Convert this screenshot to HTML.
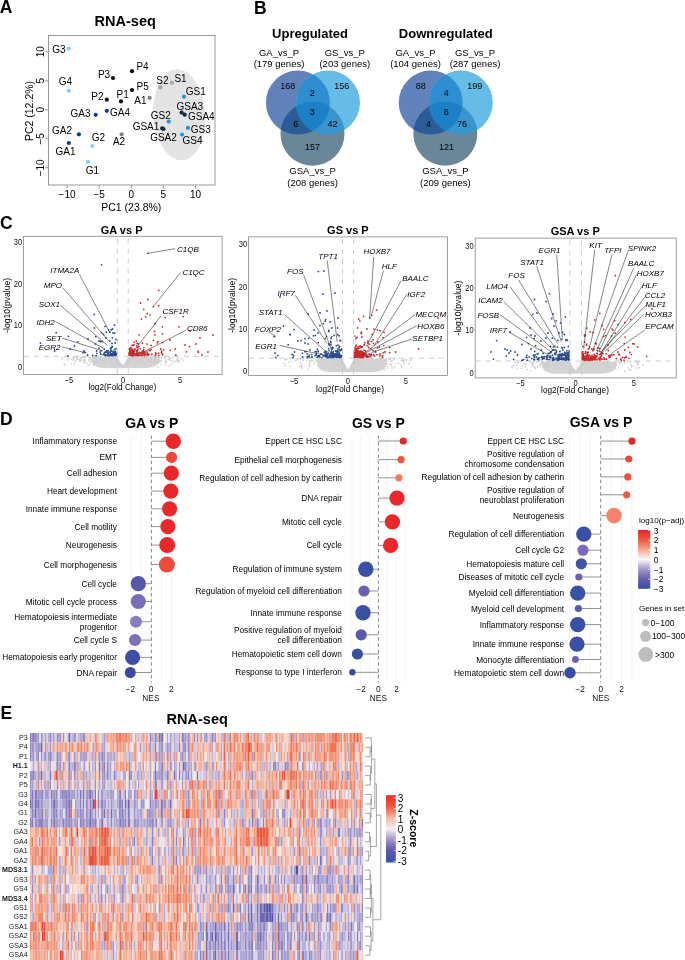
<!DOCTYPE html><html><head><meta charset="utf-8"><style>html,body{margin:0;padding:0;background:#fff;width:685px;height:960px;overflow:hidden}svg{display:block;will-change:transform;font-family:"Liberation Sans",sans-serif}</style></head><body>
<svg width="685" height="960" viewBox="0 0 685 960">
<rect width="685" height="960" fill="#fff"/>
<text x="-0.2" y="12.7" font-size="17.5" font-weight="bold">A</text>
<text x="253.9" y="13.7" font-size="17.5" font-weight="bold">B</text>
<text x="-0.1" y="229.2" font-size="17.5" font-weight="bold">C</text>
<text x="-0.1" y="425" font-size="17.5" font-weight="bold">D</text>
<text x="0.4" y="718.8" font-size="17.5" font-weight="bold">E</text>
<text x="125.2" y="25.8" font-size="14.5" text-anchor="middle" font-weight="bold">RNA-seq</text>
<ellipse cx="179.3" cy="114.8" rx="26" ry="45.6" fill="#e4e4e4" transform="rotate(-4 179.3 114.8)"/>
<rect x="48.5" y="35.5" width="166.5" height="149.5" fill="none" stroke="#808080" stroke-width="0.8"/>
<line x1="67.1" y1="185" x2="67.1" y2="188.5" stroke="#808080" stroke-width="0.8" />
<text x="67.1" y="198.3" font-size="10" text-anchor="middle">−10</text>
<line x1="99.2" y1="185" x2="99.2" y2="188.5" stroke="#808080" stroke-width="0.8" />
<text x="99.2" y="198.3" font-size="10" text-anchor="middle">−5</text>
<line x1="131.3" y1="185" x2="131.3" y2="188.5" stroke="#808080" stroke-width="0.8" />
<text x="131.3" y="198.3" font-size="10" text-anchor="middle">0</text>
<line x1="163.4" y1="185" x2="163.4" y2="188.5" stroke="#808080" stroke-width="0.8" />
<text x="163.4" y="198.3" font-size="10" text-anchor="middle">5</text>
<line x1="195.5" y1="185" x2="195.5" y2="188.5" stroke="#808080" stroke-width="0.8" />
<text x="195.5" y="198.3" font-size="10" text-anchor="middle">10</text>
<line x1="48.5" y1="167.8" x2="45" y2="167.8" stroke="#808080" stroke-width="0.8" />
<text x="43.9" y="167.8" font-size="10" text-anchor="middle" transform="rotate(-90 43.9 167.8)">−10</text>
<line x1="48.5" y1="138.8" x2="45" y2="138.8" stroke="#808080" stroke-width="0.8" />
<text x="43.9" y="138.8" font-size="10" text-anchor="middle" transform="rotate(-90 43.9 138.8)">−5</text>
<line x1="48.5" y1="109.8" x2="45" y2="109.8" stroke="#808080" stroke-width="0.8" />
<text x="43.9" y="109.8" font-size="10" text-anchor="middle" transform="rotate(-90 43.9 109.8)">0</text>
<line x1="48.5" y1="80.8" x2="45" y2="80.8" stroke="#808080" stroke-width="0.8" />
<text x="43.9" y="80.8" font-size="10" text-anchor="middle" transform="rotate(-90 43.9 80.8)">5</text>
<line x1="48.5" y1="51.8" x2="45" y2="51.8" stroke="#808080" stroke-width="0.8" />
<text x="43.9" y="51.8" font-size="10" text-anchor="middle" transform="rotate(-90 43.9 51.8)">10</text>
<text x="131.3" y="210.8" font-size="10.5" text-anchor="middle">PC1 (23.8%)</text>
<text x="33.2" y="111" font-size="10.5" text-anchor="middle" transform="rotate(-90 33.2 111)">PC2 (12.2%)</text>
<circle cx="68.8" cy="48.7" r="2.1" fill="#87cefa" />
<circle cx="68.8" cy="90.7" r="2.1" fill="#87cefa" />
<circle cx="132" cy="71.2" r="2.1" fill="#111" />
<circle cx="113" cy="78" r="2.1" fill="#111" />
<circle cx="132" cy="90" r="2.1" fill="#111" />
<circle cx="160.3" cy="87.4" r="2.1" fill="#a8a8a8" />
<circle cx="172" cy="82.8" r="2.1" fill="#a8a8a8" />
<circle cx="106.8" cy="99.7" r="2.1" fill="#111" />
<circle cx="121" cy="101.4" r="2.1" fill="#111" />
<circle cx="149.6" cy="97.8" r="2.1" fill="#808080" />
<circle cx="184" cy="96.7" r="2.1" fill="#1c97e3" />
<circle cx="95.7" cy="114.8" r="2.1" fill="#0e3d8c" />
<circle cx="106.8" cy="110.8" r="2.1" fill="#0e3d8c" />
<circle cx="181.6" cy="112.6" r="2.1" fill="#0b2a44" />
<circle cx="184.7" cy="114.7" r="2.1" fill="#0b2a44" />
<circle cx="168.7" cy="121.6" r="2.1" fill="#1c97e3" />
<circle cx="162.2" cy="128.3" r="2.1" fill="#0b2a44" />
<circle cx="163.5" cy="129" r="2.1" fill="#0b2a44" />
<circle cx="188" cy="127.9" r="2.1" fill="#1c97e3" />
<circle cx="182" cy="134.5" r="2.1" fill="#1c97e3" />
<circle cx="78.9" cy="134.3" r="2.1" fill="#0e3d8c" />
<circle cx="121.6" cy="134.3" r="2.1" fill="#808080" />
<circle cx="92.3" cy="146" r="2.1" fill="#87cefa" />
<circle cx="68.8" cy="143" r="2.1" fill="#0e3d8c" />
<circle cx="88" cy="161.9" r="2.1" fill="#87cefa" />
<text x="58.8" y="53.3" font-size="10" text-anchor="middle">G3</text>
<text x="65.5" y="85.2" font-size="10" text-anchor="middle">G4</text>
<text x="142.5" y="70.1" font-size="10" text-anchor="middle">P4</text>
<text x="104" y="77.6" font-size="10" text-anchor="middle">P3</text>
<text x="142.7" y="90.2" font-size="10" text-anchor="middle">P5</text>
<text x="162.4" y="84.4" font-size="10" text-anchor="middle">S2</text>
<text x="180.5" y="82.2" font-size="10" text-anchor="middle">S1</text>
<text x="97.4" y="100" font-size="10" text-anchor="middle">P2</text>
<text x="122.6" y="97.6" font-size="10" text-anchor="middle">P1</text>
<text x="140.4" y="104.3" font-size="10" text-anchor="middle">A1</text>
<text x="195.8" y="94.8" font-size="10" text-anchor="middle">GS1</text>
<text x="80.6" y="116.6" font-size="10" text-anchor="middle">GA3</text>
<text x="120" y="116.1" font-size="10" text-anchor="middle">GA4</text>
<text x="189.8" y="109.6" font-size="10" text-anchor="middle">GSA3</text>
<text x="201.3" y="120" font-size="10" text-anchor="middle">GSA4</text>
<text x="160.8" y="118.9" font-size="10" text-anchor="middle">GS2</text>
<text x="146" y="130.4" font-size="10" text-anchor="middle">GSA1</text>
<text x="163.5" y="140.8" font-size="10" text-anchor="middle">GSA2</text>
<text x="200.8" y="132.6" font-size="10" text-anchor="middle">GS3</text>
<text x="192.6" y="144.1" font-size="10" text-anchor="middle">GS4</text>
<text x="62" y="133.9" font-size="10" text-anchor="middle">GA2</text>
<text x="119" y="144.6" font-size="10" text-anchor="middle">A2</text>
<text x="98.4" y="141.3" font-size="10" text-anchor="middle">G2</text>
<text x="65.5" y="154.6" font-size="10" text-anchor="middle">GA1</text>
<text x="92.3" y="174.2" font-size="10" text-anchor="middle">G1</text>
<text x="310" y="37.7" font-size="13" text-anchor="middle" font-weight="bold">Upregulated</text>
<clipPath id="vA0"><circle cx="297.9" cy="102.6" r="32"/></clipPath><clipPath id="vB0"><circle cx="328" cy="102.6" r="32"/></clipPath>
<g clip-path="url(#vA0)"><clipPath id="vAB0"><circle cx="328" cy="102.6" r="32"/></clipPath></g>
<circle cx="297.9" cy="102.6" r="32" fill="#6282bb"/>
<circle cx="328" cy="102.6" r="32" fill="#67bbe7"/>
<circle cx="312.5" cy="133.8" r="32" fill="#6a8799"/>
<circle cx="328" cy="102.6" r="32" fill="#2f8ed2" clip-path="url(#vA0)"/>
<circle cx="312.5" cy="133.8" r="32" fill="#2c5c97" clip-path="url(#vA0)"/>
<circle cx="312.5" cy="133.8" r="32" fill="#3895cd" clip-path="url(#vB0)"/>
<g clip-path="url(#vA0)"><circle cx="312.5" cy="133.8" r="32" fill="#1b80c5" clip-path="url(#vB0)"/></g>
<text x="279" y="56.1" font-size="9.5" text-anchor="middle">GA_vs_P</text>
<text x="279" y="67.2" font-size="9.5" text-anchor="middle">(179 genes)</text>
<text x="344.8" y="56.1" font-size="9.5" text-anchor="middle">GS_vs_P</text>
<text x="344.8" y="67.2" font-size="9.5" text-anchor="middle">(203 genes)</text>
<text x="312.6" y="174" font-size="9.5" text-anchor="middle">GSA_vs_P</text>
<text x="312.6" y="186" font-size="9.5" text-anchor="middle">(208 genes)</text>
<text x="287.8" y="89.2" font-size="9" text-anchor="middle">168</text>
<text x="341.8" y="89.2" font-size="9" text-anchor="middle">156</text>
<text x="312.3" y="96.2" font-size="9" text-anchor="middle">2</text>
<text x="312.3" y="115" font-size="9" text-anchor="middle">3</text>
<text x="295.8" y="126.8" font-size="9" text-anchor="middle">6</text>
<text x="332.4" y="126.8" font-size="9" text-anchor="middle">42</text>
<text x="312.6" y="149.9" font-size="9" text-anchor="middle">157</text>
<text x="445.8" y="37.7" font-size="13" text-anchor="middle" font-weight="bold">Downregulated</text>
<clipPath id="vA1"><circle cx="430.7" cy="102.6" r="32"/></clipPath><clipPath id="vB1"><circle cx="460.8" cy="102.6" r="32"/></clipPath>
<g clip-path="url(#vA1)"><clipPath id="vAB1"><circle cx="460.8" cy="102.6" r="32"/></clipPath></g>
<circle cx="430.7" cy="102.6" r="32" fill="#6282bb"/>
<circle cx="460.8" cy="102.6" r="32" fill="#67bbe7"/>
<circle cx="445.3" cy="133.8" r="32" fill="#6a8799"/>
<circle cx="460.8" cy="102.6" r="32" fill="#2f8ed2" clip-path="url(#vA1)"/>
<circle cx="445.3" cy="133.8" r="32" fill="#2c5c97" clip-path="url(#vA1)"/>
<circle cx="445.3" cy="133.8" r="32" fill="#3895cd" clip-path="url(#vB1)"/>
<g clip-path="url(#vA1)"><circle cx="445.3" cy="133.8" r="32" fill="#1b80c5" clip-path="url(#vB1)"/></g>
<text x="415.5" y="56.1" font-size="9.5" text-anchor="middle">GA_vs_P</text>
<text x="415.5" y="67.2" font-size="9.5" text-anchor="middle">(104 genes)</text>
<text x="475" y="56.1" font-size="9.5" text-anchor="middle">GS_vs_P</text>
<text x="475" y="67.2" font-size="9.5" text-anchor="middle">(287 genes)</text>
<text x="445.4" y="174" font-size="9.5" text-anchor="middle">GSA_vs_P</text>
<text x="445.4" y="186" font-size="9.5" text-anchor="middle">(209 genes)</text>
<text x="420.8" y="89.2" font-size="9" text-anchor="middle">88</text>
<text x="474.8" y="89.2" font-size="9" text-anchor="middle">199</text>
<text x="446.3" y="96.2" font-size="9" text-anchor="middle">4</text>
<text x="446.3" y="115" font-size="9" text-anchor="middle">8</text>
<text x="428.6" y="126.8" font-size="9" text-anchor="middle">4</text>
<text x="461.9" y="126.8" font-size="9" text-anchor="middle">76</text>
<text x="446.6" y="149.9" font-size="9" text-anchor="middle">121</text>
<text x="121.6" y="233.5" font-size="11" text-anchor="middle" font-weight="bold">GA vs P</text>
<rect x="23.4" y="236.3" width="198.7" height="138.1" fill="none" stroke="#888" stroke-width="0.8"/>
<path d="M92.2 357.1 L117.3 357.1 L122.8 366.8 L128.2 357.1 L158.9 357.1 Q161.9 359.3 156.9 365.3 Q150.9 368.3 142.9 368.3 L106.2 368.3 Q97.2 368.3 93.2 364.3 Q89.2 359.3 92.2 357.1Z" fill="#d4d4d4"/>
<path d="M96.5 356.7h0M130.9 359.7h0M94.2 362.4h0M121.3 365.1h0M96.6 363.7h0M95 361.1h0M155.7 358.1h0M143.8 364.8h0M177.9 358.3h0M116.5 360.1h0M124.8 364.5h0M125.9 365.8h0M128.6 365.5h0M137.6 359.7h0M84.3 359.3h0M137.8 358.4h0M91.1 359.8h0M122.8 366.5h0M121.7 365h0M117.9 363.6h0M104.7 361.2h0M155.9 360.2h0M138.4 357.2h0M81.9 357.2h0M158.1 366.8h0M134.6 359.7h0M168.4 356.4h0M116.1 359.5h0M127.8 360.5h0M121.6 365.7h0M131.8 356.5h0M123.3 366.2h0M112 363.6h0M158.4 362.5h0M136.8 359h0M109.5 357.8h0M127.3 364.6h0M116.1 360.9h0M114.4 362.1h0M115.7 358h0M179.4 361.1h0M133.8 360.3h0M113 357.1h0M116.5 358.2h0M115.1 362.1h0M120.8 365.1h0M159.7 361.2h0M131.1 358.8h0M126.9 363.9h0M106.1 359.8h0M110.4 356.5h0M94.8 357h0M125.6 365.1h0M149.3 357.3h0M161.4 361.7h0M135.8 356.6h0M155.5 362.3h0M165 358.7h0M109.1 360.1h0M127.5 360.1h0M126.4 364.3h0M118.1 360.8h0M106.9 358.7h0M119.2 362.3h0M135.6 364.2h0M126.5 361.8h0M150 358.6h0M113.7 362.2h0M169.8 365.6h0M119.9 365.9h0M145.9 362.5h0M103.8 363.1h0M143.3 360.6h0M169.4 358.3h0M84.6 358.1h0M112.6 365h0M116.8 365.9h0M150.9 356.5h0M104.9 365.4h0M106.6 357.9h0M104.2 361h0M131.2 359.1h0M122.7 366.2h0M151.2 358h0M102.2 357.5h0M140 358.1h0M112.6 356.8h0M138.1 357.5h0M106.6 357.1h0M95.8 360.4h0M109.5 358.8h0M115.9 359.3h0M117.2 359h0M148 360.3h0M99 357.8h0M102.5 357.2h0M111.5 363.9h0M122.8 366.3h0M117.5 361.7h0M126.9 362.7h0M155.7 358.6h0M137.2 365.9h0M114.8 361.1h0M116.4 363.3h0M109.8 356.8h0M110.3 356.9h0M103.2 360.9h0M115.5 360.3h0M110.4 357.4h0M160.7 360.4h0M100 358.8h0M118 362.1h0M133.4 357.2h0M142.4 356.6h0M95.2 361.4h0M134.2 361.4h0M143.3 362h0M96.9 359.5h0M138.2 361h0M155.1 359.8h0M71.2 364.1h0M165.5 364.8h0M131.3 358h0M106.1 357.5h0M114.8 365.5h0M138.3 365.3h0M140.6 357.3h0M123.7 366.6h0M134.5 358.5h0M94.2 358.3h0M132.7 357.4h0M154.3 362.2h0M114.3 359.6h0M124.1 365.2h0M125.6 363.2h0M130.1 360.9h0M138.2 358.1h0M93.4 357.7h0M119 363.4h0M134.9 363.8h0M77.6 356.7h0M120.8 364.7h0M111.6 358.5h0M140.4 358.9h0M111.6 357h0M137.7 359.7h0M73.4 358.4h0M132.4 357.3h0M155.7 358.4h0M119.7 362.5h0M108.2 356.4h0M149.1 357.5h0M119 363.8h0M158.4 360.7h0M100.1 363.9h0M97.5 357.6h0M132.6 359.5h0M161.2 364.3h0M129.7 358.2h0M131.8 357.5h0M139.9 363h0M138.1 357.9h0M143.6 357.2h0M103.5 359.5h0M74.6 356.6h0M135.8 359.2h0M130.6 361.2h0M118.7 362.6h0M92.4 357.2h0M105.5 360.4h0M115.9 358.1h0M134.6 357.1h0M114.2 356.5h0M95.1 362.2h0M118.5 362.4h0M93.5 365.2h0M122.2 365.4h0M101.1 357.4h0M120.6 364.3h0M89.9 364.3h0M124.6 364.6h0M76.6 356.7h0M150.5 361.4h0M111.7 360h0M124.6 364.1h0M142.6 361h0M108.5 362.3h0M86.7 363.2h0M89.7 357.6h0M136.7 361.9h0M124.8 364.2h0M113.9 358.6h0M140.8 363.5h0M121.4 365.2h0M111.8 361.6h0M131.3 359.9h0M147.7 360.4h0M100.2 362.7h0M136.4 362.2h0M102 359.2h0M100.3 357.1h0M90.4 361.8h0M95.4 357.8h0M139.9 361h0M79.7 361h0M136.1 356.3h0M115.7 357.7h0M133.3 357.9h0M134.6 361.5h0M156 360.1h0M146 357.5h0M138.1 358.1h0M138.3 365.6h0M132.6 356.8h0M153.7 356.5h0M141.8 357.7h0M139.7 359.4h0M117.3 364.9h0M110 363.5h0M149.2 359.3h0M129.1 360.2h0M131 362.2h0M133.7 357.2h0M171.8 363.7h0M119.8 365.8h0M145.6 357.6h0M115.6 361.2h0M97.5 360h0M128.1 361h0M156 357.2h0M125.5 365.1h0M89 360.2h0M132.8 362.3h0M135.8 365.7h0M144.9 356.9h0M133.5 357.1h0M91 358.5h0M98.8 359.4h0M139.2 356.4h0M128.4 359.3h0M107.1 357.8h0M129.6 360.8h0M83.9 356.9h0M146.8 357.6h0M100.1 357.6h0M94.2 364.2h0M141.9 360.7h0M119.7 364.1h0M123.4 365.7h0M111.6 356.6h0M111.8 358.3h0M106.2 358.9h0M149.6 359.2h0M181.3 358.4h0M111.8 356.4h0M88.1 365.4h0M96.4 361.6h0M99.4 360.2h0M69.2 358.4h0M93.2 361.6h0M168.6 359.4h0M73.7 357.4h0M76.9 358.3h0M82.8 356.6h0M165.8 362.6h0M168.3 358.7h0M182.9 360.1h0M170.4 360.5h0M166.2 361.4h0M172.7 357.7h0M96.3 361.7h0M73.9 360.2h0M150.6 361h0M150.6 356.4h0M151.4 356.8h0M174.7 361.6h0M95.1 363.6h0M154 356.5h0M74.9 363.4h0M165.2 362.2h0M83.9 362.8h0M164.8 358.3h0M170.5 358.4h0M161.9 357.8h0M62.3 357.8h0M79.4 359.4h0M177.1 358.5h0M158.7 358.6h0M73.9 357.7h0M62.3 359.4h0M65 364.9h0M96.4 361.5h0M74.2 363.6h0M151.4 363.9h0M76.8 358.5h0M166.2 360.6h0M161.2 357.8h0M67.8 359.8h0M80.7 357.8h0M178 360.5h0M159.3 357.7h0M81.3 360.5h0M80.1 360.9h0M81.1 358.9h0M159.5 357.6h0M85.5 356.8h0M71.6 359.5h0M159 363h0M172.5 360.9h0M85.1 359.9h0M164.6 357.4h0M165.3 362h0M93.7 357.3h0M83.6 360.3h0M177.5 357.8h0M177.6 359.1h0M90.4 357.7h0M178.1 362h0M77.1 358.9h0M73.2 357.4h0M75.7 361.1h0M84.7 361.4h0M64.2 363.9h0M93.2 357.3h0M157.6 362h0M176.4 360.3h0M177.9 360.8h0M78.9 359.2h0" stroke="#d0d0d0" stroke-width="1.7" stroke-linecap="round"/>
<line x1="117.3" y1="238.7" x2="117.3" y2="374.4" stroke="#c4c4c4" stroke-width="0.9" stroke-dasharray="4.9,5.1"/>
<line x1="128.2" y1="238.7" x2="128.2" y2="374.4" stroke="#c4c4c4" stroke-width="0.9" stroke-dasharray="4.9,5.1"/>
<line x1="23.9" y1="356.3" x2="222.1" y2="356.3" stroke="#c4c4c4" stroke-width="0.9" stroke-dasharray="4.9,5.1"/>
<path d="M105.1 326.4h0M104.7 352.5h0M101.5 332.6h0M88.1 338.9h0M108.1 350.9h0M112.8 355.2h0M74.4 346h0M115 354.1h0M92.8 355.5h0M115.7 352.6h0M114.2 354.4h0M110.6 348.7h0M115.8 355.1h0M114.7 352h0M114.8 355.1h0M115.3 351.5h0M111.1 350.7h0M114.5 349.3h0M112.3 347.2h0M110.2 352.4h0M96.6 351h0M111.5 353.6h0M85.1 352.5h0M116.5 353.8h0M105.7 352h0M115.4 355.2h0M114.5 349.7h0M109.7 341.1h0M111.3 355.2h0M116 339.5h0M100.8 354h0M108 355.4h0M112.2 346.6h0M103.3 354.6h0M111.2 329.8h0M104.7 355h0M111.5 355.2h0M112.7 351.4h0M114.1 353.8h0M112 343.5h0M113.1 353.9h0M100.4 341.5h0M113.3 352.1h0M110.9 353.9h0M84.1 351h0M110 354.7h0M111.3 354.6h0M113.2 352.5h0M115 351.8h0M96.9 353.3h0M112.4 337.8h0M115.5 355.4h0M105.1 352.7h0M104.2 353.1h0M114.8 355.2h0M113 355.5h0M111.1 347.7h0M106.7 350.6h0M113.8 354.1h0M113.1 352.2h0M102.2 341.7h0M116.4 354.5h0M109.4 355.3h0M111.7 351.1h0M107.6 353.1h0M95.4 343.9h0M111.8 355.2h0M77.8 341.8h0M100.1 352.2h0M107.3 352.6h0M114.6 353.2h0M112.5 329h0M112.3 355.3h0M114.7 333.2h0M111 353.3h0M100.3 341.5h0M107.9 353.6h0M113 332.9h0M110.8 350.5h0M111.2 355.4h0M115.2 343h0M106.5 350.9h0M104.2 349.3h0M105.5 355.6h0M112.3 355.2h0M110.8 355.1h0M114.5 353.2h0M109.6 355.6h0M114.6 325.2h0M112.2 354.1h0M108.6 351.5h0M98.9 348.1h0M110.9 348.8h0M111.5 354h0M112.6 354.5h0M95.7 336.7h0M107.1 354.6h0M116 355.3h0M111.8 354.2h0M108.5 353.5h0M114.1 354.2h0M116.1 348.6h0M106.3 332.2h0M105.4 354.9h0M108.6 329.8h0M105.9 355.3h0M96.1 355.7h0M114.1 354.5h0M101.2 350.7h0M101.6 264.8h0M94.3 314.4h0M109.9 332h0M103.6 334.5h0M56.2 332.7h0M68.4 336.3h0M40.5 343.2h0M54.7 351h0M70.3 349h0M67.9 356h0M83 352.7h0M87.6 355h0M94.5 328h0M99 341h0M106 338h0" stroke="#2a4a90" stroke-width="1.8" stroke-linecap="round"/>
<path d="M134.4 353.1h0M129.4 349h0M137.5 347.7h0M139.9 352.4h0M160.8 349h0M151.6 354.4h0M131.3 349.5h0M133.2 345.2h0M155.3 355.5h0M145 354.6h0M162.4 333.8h0M143.8 347.6h0M130 354.9h0M144.4 355h0M132.3 352.5h0M137.1 343.3h0M143.9 351.8h0M161.5 352.5h0M141.7 355.4h0M138.9 346.6h0M129.5 353h0M132.6 350.9h0M133.1 351.6h0M133 353.4h0M157.2 342.8h0M136.7 351.6h0M161.9 353.6h0M139.1 352.6h0M142.3 351.2h0M137.7 350.2h0M141.4 319.1h0M147.8 355.1h0M132.3 354h0M154.5 331.4h0M137.3 354.9h0M137.6 355.6h0M144.6 353.2h0M132.7 353.4h0M137.5 354h0M132.8 351h0M158.5 353.2h0M148.5 354.9h0M133.6 355.5h0M141 353.5h0M140 355.4h0M132.6 352.2h0M143.5 350.5h0M130.5 350.2h0M132 345.4h0M137.3 351.5h0M132.1 349.2h0M130.2 352.5h0M132 350.3h0M135.8 355.4h0M198 351.5h0M133.8 352.1h0M132.4 353.9h0M136.8 350.6h0M144.8 354.5h0M142 355.5h0M143.7 349.8h0M156 353.9h0M152 354.3h0M133.4 350.8h0M138.9 355.2h0M132 353.8h0M136.3 341h0M161.6 351.2h0M129.9 352.2h0M133 355.6h0M132.7 354.2h0M149.8 350.7h0M131 347.6h0M147 351.9h0M129.9 351.5h0M130 349.4h0M147.3 353.5h0M135.2 354.9h0M131 353h0M133.6 354.1h0M130.8 352.1h0M145 352.5h0M131.8 354.7h0M137.9 349.7h0M133.7 351.6h0M132 355.6h0M141.3 353.2h0M189.5 346.7h0M170.2 350.4h0M147.3 313.7h0M133.9 345h0M135.9 354.2h0M135 354.5h0M133 355.2h0M137 355.1h0M134 354.1h0M135.8 355.2h0M144 353.3h0M129.9 350.5h0M129.8 354.2h0M137.5 353.1h0M133.9 354.8h0M134.3 349.2h0M132.7 352.5h0M136.8 352.9h0M136.8 345.8h0M153.4 340.4h0M135.5 354.1h0M151 349.5h0M158.8 355.6h0M137.8 354.6h0M175.8 355.2h0M132.2 352.3h0M129 353.4h0M132.4 353.7h0M142.4 343.2h0M151.1 345.5h0M134.3 349.3h0M144.6 352.2h0M183.2 316.6h0M141 353.7h0M134.7 354.7h0M141.9 351.8h0M133.9 355.1h0M130.6 355.5h0M130.3 352.1h0M136.4 351.4h0M131.2 349.8h0M130.4 352.3h0M148.8 354.2h0M134.2 342.3h0M134 351.5h0M158 341.7h0M144.2 352.8h0M155.6 353h0M142.7 354.9h0M129.1 353.1h0M186.4 351.8h0M138.3 343.9h0M162.6 342.6h0M144.5 355.3h0M133.2 351.8h0M131.6 351.2h0M138.7 353.7h0M133.6 351h0M134.9 349.9h0M147 344.1h0M143.7 353.4h0M132.1 353.2h0M162.7 354.8h0M130.6 354.5h0M139.3 355.2h0M132.9 354.9h0M134.6 354.8h0M129.8 349.2h0M130 355.1h0M201.8 355h0M140.2 348.8h0M137.7 354.4h0M142.3 352.8h0M163.7 349.8h0M139 334.8h0M132.7 354.8h0M130.5 355.4h0M146.4 354.6h0M129.1 355h0M129.7 348.3h0M154.9 334.9h0M149.2 350.5h0M198.4 352.3h0M147.8 253.3h0M158.8 290.3h0M147.8 299.5h0M140.5 303h0M158.8 305.7h0M143.8 309.3h0M153.3 306.6h0M145.7 316.8h0M150 314.8h0M165.2 317.7h0M155.1 323.5h0M162.4 326.8h0M178.9 326.8h0M190 331h0M196 344h0M200 338h0M213 335h0M208 352h0M185 345h0M175 349h0M170 340h0" stroke="#cc2a2a" stroke-width="1.8" stroke-linecap="round"/>
<text transform="translate(22.2 370.2) scale(0.86 1)" font-size="8.8" text-anchor="end" fill="#111">0</text>
<text transform="translate(22.2 328.4) scale(0.86 1)" font-size="8.8" text-anchor="end" fill="#111">10</text>
<text transform="translate(22.2 286.7) scale(0.86 1)" font-size="8.8" text-anchor="end" fill="#111">20</text>
<text transform="translate(22.2 245) scale(0.86 1)" font-size="8.8" text-anchor="end" fill="#111">30</text>
<text transform="translate(68.9 383.2) scale(0.86 1)" font-size="8.8" text-anchor="middle" fill="#111">−5</text>
<text transform="translate(123.1 383.2) scale(0.86 1)" font-size="8.8" text-anchor="middle" fill="#111">0</text>
<text transform="translate(180.1 383.2) scale(0.86 1)" font-size="8.8" text-anchor="middle" fill="#111">5</text>
<text x="122.4" y="390.3" font-size="8.2" text-anchor="middle">log2(Fold Change)</text>
<text x="10.4" y="305.3" font-size="8.6" text-anchor="middle" transform="rotate(-90 10.4 305.3)">-log10(pvalue)</text>
<line x1="79.4" y1="274.3" x2="109.9" y2="332.7" stroke="#333" stroke-width="0.6" />
<text x="64.8" y="272.6" font-size="8" text-anchor="middle" font-style="italic">ITMA2A</text>
<line x1="63" y1="288" x2="109.5" y2="341.8" stroke="#333" stroke-width="0.6" />
<text x="52.9" y="288.1" font-size="8" text-anchor="middle" font-style="italic">MPO</text>
<line x1="60.2" y1="305.3" x2="107.7" y2="345.4" stroke="#333" stroke-width="0.6" />
<text x="49.3" y="306.9" font-size="8" text-anchor="middle" font-style="italic">SOX1</text>
<line x1="55.7" y1="321.7" x2="104.9" y2="349" stroke="#333" stroke-width="0.6" />
<text x="45.6" y="324.6" font-size="8" text-anchor="middle" font-style="italic">IDH2</text>
<line x1="62" y1="338" x2="103" y2="351" stroke="#333" stroke-width="0.6" />
<text x="53.8" y="340.7" font-size="8" text-anchor="middle" font-style="italic">SET</text>
<line x1="62" y1="347" x2="85.8" y2="352.7" stroke="#333" stroke-width="0.6" />
<text x="49.6" y="349.8" font-size="8" text-anchor="middle" font-style="italic">EGR2</text>
<line x1="147.8" y1="253.3" x2="175.2" y2="248.7" stroke="#333" stroke-width="0.6" />
<text x="188" y="251.6" font-size="8" text-anchor="middle" font-style="italic">C1QB</text>
<line x1="180.7" y1="272.4" x2="153.3" y2="306.6" stroke="#333" stroke-width="0.6" />
<text x="193.5" y="275.3" font-size="8" text-anchor="middle" font-style="italic">C1QC</text>
<line x1="161.2" y1="315.7" x2="132.3" y2="353" stroke="#333" stroke-width="0.6" />
<text x="175.6" y="313.7" font-size="8" text-anchor="middle" font-style="italic">CSF1R</text>
<line x1="186.5" y1="330" x2="139.5" y2="354" stroke="#333" stroke-width="0.6" />
<text x="197.3" y="331.3" font-size="8" text-anchor="middle" font-style="italic">CD86</text>
<text x="347.9" y="234" font-size="11" text-anchor="middle" font-weight="bold">GS vs P</text>
<rect x="248.4" y="236.9" width="199.2" height="138.6" fill="none" stroke="#888" stroke-width="0.8"/>
<path d="M317.9 359 L342.5 359 L348.1 370.8 L353.6 359 L386.3 359 Q389.3 361.2 384.3 369.3 Q378.3 372.3 370.3 372.3 L331.9 372.3 Q322.9 372.3 318.9 368.3 Q314.9 361.2 317.9 359Z" fill="#d4d4d4"/>
<path d="M359.8 369h0M344.9 366.1h0M352.5 365.7h0M358.3 363.5h0M360.4 358.5h0M337.8 363.8h0M306.9 360.4h0M317.7 358.7h0M346.2 368h0M341.3 363.8h0M342.7 364h0M361.3 361.2h0M383.2 358.5h0M333.6 361.4h0M338.4 364.5h0M319.3 358.5h0M333.4 358.5h0M383.5 360.7h0M373.8 360.5h0M380.1 365.5h0M373.9 368.7h0M356.3 360.1h0M321.5 362.8h0M347 369.2h0M364.4 363.2h0M338.6 361.2h0M339.4 362.2h0M376.4 362.6h0M335.5 367.2h0M324.1 358.2h0M333.6 362.9h0M366.5 358.7h0M373.3 362.9h0M340.2 367.6h0M358.8 361.5h0M339.8 364.3h0M338.3 365.4h0M366.3 368.5h0M309.7 360.7h0M339.4 365.7h0M345.6 368.4h0M341.3 362.4h0M369.6 359.2h0M336.4 362h0M319.2 358.3h0M343.7 365.5h0M313 360.7h0M354 366h0M356.7 361.7h0M308.2 358.6h0M373.8 360.8h0M351 368.3h0M364.1 362.6h0M377.8 364.4h0M403.7 363.4h0M363 366.6h0M351.6 366h0M364.6 365.6h0M346.4 369h0M357.9 365.2h0M328 358.7h0M377.9 359.3h0M368.9 359.2h0M353.2 369.7h0M355.5 364.6h0M372.5 359.9h0M343.2 367.5h0M323.9 364.9h0M347.2 369.5h0M356.1 366.6h0M372.4 367.9h0M327.7 362h0M342.9 365.8h0M344.1 370h0M348.3 370.1h0M346.1 367.7h0M357.2 361.9h0M334.8 366.2h0M323.9 359.4h0M384.9 369.8h0M325.1 365.6h0M369.6 359.5h0M369.9 363.3h0M330.7 359.2h0M333.9 364.3h0M346.9 370.1h0M362 360.3h0M325.7 359.4h0M362.2 362.8h0M345.7 367.4h0M349.6 368.7h0M326.3 365.3h0M351.8 367.5h0M354.1 366.8h0M290.2 366h0M341.6 364.2h0M367.7 361.7h0M325.7 359.8h0M401.2 360.4h0M355.4 361.8h0M352.6 369.3h0M339.1 365.8h0M296 358.8h0M346.5 369.2h0M322.1 363.6h0M322.9 358.4h0M381.2 358.8h0M335.3 359.5h0M336.9 364.2h0M332.2 364.7h0M395.1 364h0M365.8 369h0M343.9 366.9h0M357.5 363.6h0M359.4 362.8h0M370.4 363.4h0M355.4 363.5h0M330.7 359h0M368.7 368.4h0M342.6 363.4h0M332.7 366.4h0M346.7 369.7h0M343.6 369.6h0M359.2 358.2h0M352.7 366.3h0M338.3 359.5h0M339.7 364.3h0M347.8 370.3h0M373.1 362.3h0M333.1 360.8h0M380.1 359.5h0M358.1 360.5h0M336.4 369.7h0M361.9 367.3h0M361.7 359.7h0M368 365h0M317.2 360.8h0M353.5 369.9h0M373.7 364h0M334.1 364.7h0M328.9 363.6h0M300.6 362.9h0M335.3 362.8h0M343.2 364.3h0M309.6 364.4h0M333.8 359.1h0M351.3 367.4h0M332.6 360.4h0M321.2 364.7h0M334.8 361.5h0M324 363.2h0M379.3 358.3h0M334.2 362.7h0M340.4 367.2h0M347.5 369.8h0M341.3 365.8h0M350 368.3h0M336.7 360.2h0M349.3 369.5h0M359.6 360.7h0M347.8 370.3h0M351 366.9h0M376.7 361.9h0M391.9 365.9h0M365.2 362.2h0M360.5 365.6h0M370.5 364.5h0M361.2 362.5h0M315.6 361.3h0M358.4 364.9h0M366.7 368.1h0M387.5 366.5h0M385.4 361.6h0M365.6 358.7h0M334.1 362.6h0M333.8 360h0M352.7 366.7h0M387.5 368.4h0M332.4 366.1h0M371.5 358.8h0M371.6 358.8h0M336.2 360.4h0M335.5 358.5h0M345 366.4h0M327.3 367.5h0M354.5 363.9h0M361.4 364.1h0M330.8 361h0M351.7 368.1h0M335.1 360.7h0M387.3 363.8h0M358.5 359.3h0M335.3 369.2h0M351.8 369.1h0M345.6 367.5h0M385.1 360.8h0M336.6 360h0M378.5 363.2h0M369.7 365h0M360.2 365.4h0M341.3 362.1h0M353.6 366.8h0M377 369.7h0M326.6 358.9h0M357.9 359h0M323 362.1h0M360.5 363.9h0M350 367.9h0M353.3 366.5h0M338.4 366.7h0M350.8 368.2h0M368.4 366h0M339 359.4h0M334.3 362.1h0M314.1 363.5h0M364.1 364.5h0M361.3 364.8h0M360.9 360h0M326.9 364.3h0M375.3 367.6h0M340.6 361.1h0M368.8 365.3h0M351.1 368.6h0M360.5 358.5h0M362.5 368.1h0M341.5 364.6h0M338.8 362.8h0M342.6 364.2h0M383.1 360.4h0M348.3 369.9h0M323.5 361.8h0M350.1 369.7h0M331.8 363.7h0M346.6 370.4h0M352.1 366.6h0M354.3 366.7h0M323.5 364.8h0M339.1 366.6h0M320.8 360.4h0M329.3 361.9h0M343.7 367.5h0M345.7 367.5h0M340.6 364.3h0M355.3 361.8h0M356.8 362.5h0M354.3 362.8h0M335.2 359.8h0M358.6 367.1h0M339.7 360.4h0M376.6 359.1h0M340.1 364.4h0M363.5 366.5h0M342.7 363.4h0M385.3 364.3h0M380.5 358.4h0M363.9 359.6h0M317 359.8h0M367 360h0M351.7 366.1h0M295.1 360.6h0M392.1 360.7h0M394.2 359.7h0M291.7 358.5h0M303 360.4h0M291.6 361.5h0M394.7 358.3h0M389.8 364.7h0M388.6 358.8h0M410.2 360.2h0M307.8 369.3h0M402.6 360.1h0M303.4 358.5h0M375.1 364.6h0M392.1 368.1h0M284.8 363.4h0M302 368.2h0M320.4 359.9h0M410.8 359.9h0M300.2 359.5h0M299.7 366.5h0M376.1 363h0M285.5 360h0M284.8 359.4h0M301.5 365.7h0M317.8 365.8h0M381.6 362.4h0M300.8 363.4h0M310.4 360.9h0M384 358.7h0M310.5 360.5h0M298.1 358.7h0M284.3 363.4h0M394.4 367.1h0M379.4 358.5h0M409.3 364.1h0M302.7 359.9h0M300 358.6h0M311.9 359.9h0M386.1 358.9h0M378.8 365.8h0M391.1 361.4h0M309 365.9h0M398.2 363.1h0M376.4 359h0M402 367.1h0M402.9 360.8h0M401.3 365.5h0M297.4 359.7h0M286.7 358.9h0M411.3 366.8h0M406.4 360.3h0M309.5 366.5h0M409.3 362.9h0M384 363.9h0M285.5 365.8h0M403.6 360.3h0M389.4 359.2h0M404.2 361h0M390.1 359.3h0M312.5 360.7h0M309.3 362.6h0M380.2 359.2h0M405.6 359.3h0M391.3 364.1h0M288.6 362.1h0M376.2 360.8h0M319.8 363.1h0M301.7 367.2h0M375.4 362.6h0" stroke="#d0d0d0" stroke-width="1.7" stroke-linecap="round"/>
<line x1="342.5" y1="239.3" x2="342.5" y2="375.5" stroke="#c4c4c4" stroke-width="0.9" stroke-dasharray="4.9,5.1"/>
<line x1="353.6" y1="239.3" x2="353.6" y2="375.5" stroke="#c4c4c4" stroke-width="0.9" stroke-dasharray="4.9,5.1"/>
<line x1="248.9" y1="358.2" x2="447.6" y2="358.2" stroke="#c4c4c4" stroke-width="0.9" stroke-dasharray="4.9,5.1"/>
<path d="M333.5 351.5h0M316.2 353.9h0M328.7 348.6h0M323 355.4h0M335.9 357.1h0M334.2 335.4h0M334.1 354.5h0M329.7 354.4h0M341 349.8h0M331.1 357.1h0M307 357.5h0M327 353.9h0M325.1 352.7h0M330.2 356h0M319.8 356.7h0M332.3 354.2h0M308 344h0M309.2 355.1h0M323.5 323.6h0M325.2 321.2h0M318.3 351.2h0M340.3 355.3h0M330.9 357.5h0M336.9 357.6h0M321.6 354.2h0M329.2 356.7h0M328.9 344h0M275.8 357.5h0M326 354.8h0M311.7 354.6h0M315.4 335.4h0M339.9 340.5h0M304.9 351.6h0M305 338.7h0M332.6 356.3h0M339.4 349.6h0M337.7 356.8h0M341.5 355.4h0M318.1 355.6h0M340 357.1h0M308.3 313.8h0M337.9 356.2h0M337.1 355.9h0M327.3 357.4h0M307.7 356.6h0M339.8 357.3h0M328.8 330.4h0M337.2 354.2h0M326 355.4h0M328.9 331.6h0M341.4 356.3h0M338 345.1h0M340.8 357.3h0M327.1 355.1h0M337.7 350.9h0M319.4 355.6h0M321 354h0M338.3 356.1h0M337.3 356.9h0M338.3 351.3h0M334.3 357.1h0M332 356.5h0M331.4 356.8h0M334.1 357.4h0M330.8 342.7h0M339.7 346.4h0M340.9 357.6h0M333 348h0M327 356.9h0M332.8 355.2h0M333.9 354.2h0M339.2 356.4h0M331.7 356.2h0M338.7 354.4h0M333.2 355.8h0M339.9 354.9h0M337.5 327.9h0M290.3 334.8h0M339.5 353.3h0M332 347.6h0M336.7 356.6h0M329 350.7h0M331.1 338.4h0M323.2 355.8h0M331.7 336.8h0M335.8 351h0M326.1 351.3h0M340.4 356.6h0M327.4 356.9h0M312.2 356.8h0M337.8 354.1h0M336 355.5h0M337.6 348.9h0M337.9 356h0M340.3 357.5h0M302.3 353.3h0M330.8 353.2h0M328.8 357.5h0M321.7 357.6h0M327 357.5h0M331.9 349.1h0M292.1 354.4h0M333.1 354.7h0M339.8 357.2h0M311.6 357.2h0M338.4 354.9h0M334.7 356.6h0M293.6 355.5h0M329.1 355.5h0M339.2 355.2h0M334.2 356.6h0M332.4 355.8h0M326.5 336.3h0M324.1 355.8h0M325.7 356.7h0M331.5 355.7h0M336.1 353.3h0M318.2 342.6h0M341.4 349.8h0M316.5 351.9h0M325.7 353.8h0M329.8 357.2h0M336.2 345.6h0M334.8 354.1h0M326.9 357.5h0M334.4 355.4h0M308.7 338.3h0M332.3 347.2h0M317.2 357.2h0M326.7 351.8h0M337.8 334.7h0M335.5 354.8h0M315.1 351.7h0M331.3 355.1h0M309.2 357h0M329.4 356.8h0M324.3 355.5h0M332.7 357.5h0M333.6 354.3h0M341.6 349h0M335.7 355.1h0M289.9 334.3h0M325.3 338.4h0M340.6 356.4h0M323.7 355.5h0M339 347.5h0M317.9 356.8h0M335.7 354h0M305.9 351.7h0M307.2 353.9h0M336.9 351.5h0M331.1 356.4h0M339 357.4h0M330.1 355.3h0M335.4 356.4h0M339.1 335.8h0M329.1 345.1h0M337.9 356.8h0M316.1 355.2h0M330.9 344.7h0M302.7 357h0M288.2 344.7h0M330.8 341.3h0M277.8 355.6h0M328.4 353.1h0M331.7 355.9h0M336.6 355.4h0M327.3 355.5h0M340.1 355.6h0M315 355.6h0M334.4 355.8h0M338.6 351.9h0M340.2 350.7h0M327.2 354.7h0M307.6 356.6h0M318.4 356.6h0M331.2 353.3h0M335.3 356.4h0M333.1 354.4h0M324.7 355.2h0M334.9 354.6h0M332.2 352.6h0M325.6 319.6h0M331.4 351.5h0M318.4 351.7h0M337.1 356.7h0M333 353.2h0M334.9 356.5h0M337.4 353.2h0M324.2 352.1h0M317.2 349.4h0M337.2 353.5h0M333.5 356h0M319.9 325.7h0M313.4 335.8h0M340.5 340.7h0M293 357.4h0M337.7 357.4h0M324 271h0M318.4 271.6h0M323 294h0M335 293h0M280 297h0M283.5 326h0M294 329.6h0M274 336.7h0M275 353h0M294.5 352h0M301 340.5h0M298 341h0M305 343h0M310 350h0M318 333h0M314 330h0M330 322h0M320 313h0M327 311h0M338 318h0M332 328h0" stroke="#2a4a90" stroke-width="1.8" stroke-linecap="round"/>
<path d="M356.1 353.7h0M365.5 351h0M359.6 357.4h0M355.2 355.7h0M382.4 357.1h0M354.6 355h0M357.6 351.9h0M364.7 353.1h0M362.8 354.5h0M356.1 351.7h0M359.9 321.1h0M358.8 348.3h0M358.6 354.7h0M359.8 355.5h0M366.1 354.3h0M361.2 357.4h0M358.4 354.4h0M355.4 353.2h0M354.5 352.4h0M367.3 345.7h0M360.6 351.5h0M383.8 345.6h0M354.7 357.4h0M377.4 329.9h0M360.3 357.4h0M360.6 354.9h0M355.2 351.2h0M359.8 355h0M360.3 357.1h0M356.8 355.1h0M357.9 348.3h0M357.9 347.1h0M360.8 354.5h0M370.5 356.7h0M360.5 356.1h0M354.5 352.8h0M363.7 355h0M364.1 350.2h0M362.3 356.2h0M369 354.2h0M354.9 357.5h0M367.9 341.2h0M360.2 355.3h0M363.6 357.3h0M356.1 353.7h0M355.6 355.6h0M356.8 350h0M369.9 354.2h0M358.1 351.2h0M356.1 356.3h0M356.4 354.8h0M361.6 347.3h0M356 345.9h0M356.3 351.7h0M359.4 356.8h0M361.9 337h0M355.9 356.5h0M359.5 355.8h0M361.8 347.2h0M355.2 350.5h0M363.4 357.5h0M356.9 357h0M360.5 354.5h0M357.6 327.9h0M355.2 354.2h0M384.1 332.3h0M360.6 354.1h0M356.1 353.7h0M356.8 356.6h0M368.7 347.5h0M356.5 353h0M367.9 342.9h0M364.2 344.7h0M368.5 356.8h0M361.2 353.9h0M389.7 347.6h0M366.8 357.2h0M361.4 354.4h0M358.8 355.9h0M395.6 352h0M356.2 352.6h0M371.6 355.2h0M355.9 354.6h0M355.6 356h0M360.6 356.7h0M357.7 357.3h0M374.6 356h0M374 329.2h0M359 351.8h0M376.9 354.7h0M359.8 354.6h0M355.6 357h0M369.6 356.1h0M356.7 356.2h0M359.4 346.4h0M369.1 344.2h0M363.7 353.4h0M364 354.1h0M359.2 351.5h0M355.2 347.5h0M371 348.8h0M373.1 339.7h0M358 353.5h0M375.3 351.1h0M361.1 352.3h0M363.6 316.3h0M355 348.8h0M359.5 354.3h0M359.8 353.6h0M360 354.4h0M355.7 352.6h0M356.8 355.2h0M371.2 354.1h0M366.4 354.5h0M355 352.6h0M361 354.9h0M357.4 355.4h0M383.1 337.6h0M355.3 347.7h0M355 354.9h0M357.8 352.8h0M362 354.2h0M365.2 353.5h0M359 355.8h0M356.5 355.2h0M355 355.1h0M370.7 354.4h0M356.6 356.8h0M354.4 355.9h0M359.7 351.6h0M354.7 356.1h0M354.5 357.5h0M358.1 350.7h0M361.2 350.9h0M357.2 357h0M364.2 345h0M358.6 356.5h0M355.4 355.6h0M357.2 355.8h0M363.1 356.9h0M379.9 355.8h0M366.3 355.5h0M379.3 347h0M360.1 346h0M377.5 348.2h0M356.2 345.1h0M367.6 356.9h0M363.3 352.3h0M356 338.5h0M361.5 353.5h0M360.8 346.6h0M364.3 355.7h0M364.7 342.7h0M359.4 355.4h0M356.4 354.2h0M365.3 355.9h0M360.8 356.6h0M356.8 356.4h0M362.3 354.8h0M360.4 347.5h0M356.7 356.3h0M371.5 341.3h0M367 355.4h0M355.6 357h0M373.1 350.6h0M360.6 351.1h0M356.3 348.5h0M380 330.7h0M354.7 354.2h0M360.8 356.9h0M355.6 351.6h0M361.5 355.2h0M359.5 353.1h0M360.3 352h0M382.7 355.8h0M362.4 352h0M355.4 353.4h0M355 336.1h0M361.2 333.5h0M357.1 337.4h0M373.7 354.8h0M360.8 355.8h0M364.3 355.1h0M355.7 355.1h0M355.8 354.9h0M355.4 356.3h0M361.6 355h0M356.3 353.2h0M367.5 355.7h0M356.9 348.7h0M357.2 356.9h0M362.7 357.5h0M357.9 356.7h0M373.4 343.3h0M363.9 356.5h0M354.5 355.2h0M358.9 352.8h0M362.2 347h0M357.8 352.6h0M362.9 353.7h0M360.5 353.7h0M361.1 357.4h0M354.6 356.4h0M375.6 352.1h0M360.6 356.4h0M361.3 332.1h0M361.5 356.4h0M356.4 356.4h0M358 353.7h0M383.3 352.8h0M376.6 310.2h0M369.7 318h0M371.5 315.3h0M358.7 319h0M438.1 318h0M418.6 349h0M389.7 352.7h0M367 329h0M361.5 332.7h0M372.4 334.5h0M377.9 341.8h0M385 352h0M380 354h0" stroke="#cc2a2a" stroke-width="1.8" stroke-linecap="round"/>
<text transform="translate(247.2 374.2) scale(0.86 1)" font-size="8.8" text-anchor="end" fill="#111">0</text>
<text transform="translate(247.2 331.9) scale(0.86 1)" font-size="8.8" text-anchor="end" fill="#111">10</text>
<text transform="translate(247.2 289.6) scale(0.86 1)" font-size="8.8" text-anchor="end" fill="#111">20</text>
<text transform="translate(247.2 247.4) scale(0.86 1)" font-size="8.8" text-anchor="end" fill="#111">30</text>
<text transform="translate(294 383.8) scale(0.86 1)" font-size="8.8" text-anchor="middle" fill="#111">−5</text>
<text transform="translate(347.8 383.8) scale(0.86 1)" font-size="8.8" text-anchor="middle" fill="#111">0</text>
<text transform="translate(405.8 383.8) scale(0.86 1)" font-size="8.8" text-anchor="middle" fill="#111">5</text>
<text x="350" y="392" font-size="8.2" text-anchor="middle">log2(Fold Change)</text>
<text x="234.8" y="305.3" font-size="8.6" text-anchor="middle" transform="rotate(-90 234.8 305.3)">-log10(pvalue)</text>
<line x1="327.2" y1="260.6" x2="337.2" y2="341.8" stroke="#333" stroke-width="0.6" />
<text x="328.1" y="259.3" font-size="8" text-anchor="middle" font-style="italic">TPT1</text>
<line x1="303.5" y1="274.6" x2="331.8" y2="350.9" stroke="#333" stroke-width="0.6" />
<text x="295.3" y="273.5" font-size="8" text-anchor="middle" font-style="italic">FOS</text>
<line x1="295.3" y1="295.3" x2="327.2" y2="343.6" stroke="#333" stroke-width="0.6" />
<text x="286.1" y="295.8" font-size="8" text-anchor="middle" font-style="italic">IRF7</text>
<line x1="284.3" y1="314.4" x2="327.2" y2="352.7" stroke="#333" stroke-width="0.6" />
<text x="270.6" y="314.6" font-size="8" text-anchor="middle" font-style="italic">STAT1</text>
<line x1="268.8" y1="331.8" x2="276.1" y2="336.7" stroke="#333" stroke-width="0.6" />
<text x="267.9" y="331.5" font-size="8" text-anchor="middle" font-style="italic">FOXP2</text>
<line x1="279.7" y1="345.4" x2="321.7" y2="354.6" stroke="#333" stroke-width="0.6" />
<text x="266.1" y="348.7" font-size="8" text-anchor="middle" font-style="italic">EGR1</text>
<line x1="373.7" y1="256.9" x2="369.7" y2="318" stroke="#333" stroke-width="0.6" />
<text x="377" y="253.8" font-size="8" text-anchor="middle" font-style="italic">HOXB7</text>
<line x1="383.4" y1="270.6" x2="371.5" y2="315.3" stroke="#333" stroke-width="0.6" />
<text x="389.4" y="268.9" font-size="8" text-anchor="middle" font-style="italic">HLF</text>
<line x1="401" y1="280.7" x2="367.8" y2="343.6" stroke="#333" stroke-width="0.6" />
<text x="415.3" y="280.8" font-size="8" text-anchor="middle" font-style="italic">BAALC</text>
<line x1="407.1" y1="294" x2="374.2" y2="345.4" stroke="#333" stroke-width="0.6" />
<text x="416.2" y="296.9" font-size="8" text-anchor="middle" font-style="italic">IGF2</text>
<line x1="415.3" y1="314.4" x2="362.4" y2="354.6" stroke="#333" stroke-width="0.6" />
<text x="430.8" y="317.3" font-size="8" text-anchor="middle" font-style="italic">MECOM</text>
<line x1="417.1" y1="325.7" x2="366" y2="352.7" stroke="#333" stroke-width="0.6" />
<text x="430.8" y="328.6" font-size="8" text-anchor="middle" font-style="italic">HOXB6</text>
<line x1="411.6" y1="339" x2="371.5" y2="352.7" stroke="#333" stroke-width="0.6" />
<text x="427.7" y="341" font-size="8" text-anchor="middle" font-style="italic">SETBP1</text>
<text x="575.2" y="235.3" font-size="11" text-anchor="middle" font-weight="bold">GSA vs P</text>
<rect x="475.2" y="238.1" width="201" height="139.8" fill="none" stroke="#888" stroke-width="0.8"/>
<path d="M542.9 361.8 L569.8 361.8 L575.6 372.3 L581.5 361.8 L615.3 361.8 Q618.3 364 613.3 370.8 Q607.3 373.8 599.3 373.8 L556.9 373.8 Q547.9 373.8 543.9 369.8 Q539.9 364 542.9 361.8Z" fill="#d4d4d4"/>
<path d="M547.2 362.1h0M562.2 366.4h0M548.6 361.5h0M537.5 367.5h0M557.8 364.3h0M550.5 361.2h0M551.9 361.3h0M571.3 367.4h0M569.6 366.4h0M593.7 369.8h0M547.4 365h0M552.9 361.9h0M601 363h0M563.2 368.5h0M633.9 366.3h0M597 367.1h0M605 368.4h0M553.3 365.9h0M576.4 372.3h0M593.3 364.1h0M568.2 368h0M596.5 368.6h0M619.7 362.5h0M584.9 363.9h0M584.6 368.5h0M584.4 366h0M592.3 367.3h0M581.9 368.5h0M561.6 364.6h0M555.4 365.6h0M537.8 366.1h0M566.2 369.4h0M554.1 362.3h0M578.2 371h0M578.3 369.3h0M572.8 369.5h0M557 362.8h0M618.3 367.8h0M545.1 370.3h0M576.6 371.8h0M546.8 364.6h0M554.2 365h0M558.4 361.7h0M574.8 370.6h0M571.1 368.3h0M576.1 371.1h0M570.8 369.5h0M584.9 362.8h0M562.5 363.4h0M563 362.5h0M616.5 364.9h0M566.8 362.1h0M615.5 362.5h0M555.4 363.7h0M532.5 363.4h0M572.5 368.4h0M576.9 371.1h0M585.3 363.7h0M562.4 367.4h0M569.1 363.5h0M621.3 362.4h0M597.6 363.8h0M609.1 371.5h0M574.7 370.4h0M533.3 362.1h0M601.2 368.2h0M580 366.7h0M576.7 370.4h0M577.1 370.7h0M586.4 362.2h0M573 368.4h0M531.1 362.5h0M577.7 372.1h0M572.1 367.6h0M561.1 368.3h0M562.2 365.8h0M561.8 364.8h0M597.6 367.3h0M588.6 368.3h0M583 369.2h0M565.5 362.2h0M581.6 366.2h0M544.9 366.9h0M583.5 370.8h0M593.3 365.5h0M585.1 366.7h0M561 371.3h0M615 364.8h0M562.2 362.7h0M587.7 367h0M588.2 361.1h0M579 369.4h0M619.4 363.2h0M615.2 361.3h0M555.8 370.1h0M610.9 366.8h0M583 363.3h0M549.9 365.3h0M582 365.4h0M569.3 368.6h0M590 364.9h0M619.3 362.1h0M568 362.4h0M610.7 363.4h0M578.8 367.7h0M608.4 362.2h0M554.6 368.8h0M583.3 363.1h0M584.1 370.3h0M588.7 367.8h0M556.8 367.6h0M592.4 365h0M576.1 371.9h0M565.6 364.2h0M616.4 363.8h0M547.4 368.9h0M624.4 361.6h0M526 364.1h0M553.8 362.3h0M595.4 361h0M549.2 366h0M576.7 370.8h0M558.2 364.7h0M570.7 365.7h0M577.1 370.9h0M592.5 361.8h0M561.9 361.4h0M614.9 361.7h0M580.5 367.7h0M561.8 362.1h0M576.4 370.7h0M605.7 361.4h0M569 370.8h0M584.6 366h0M558.4 362.1h0M570.3 366.4h0M545.5 365.9h0M546.9 363.2h0M564.7 368.5h0M590.4 362.3h0M580.1 366.9h0M572.3 371.2h0M558.8 361.6h0M585.2 364.9h0M554.8 366.6h0M574.2 371.1h0M579.1 368.5h0M577 370.1h0M567.4 361.2h0M560.5 369.2h0M557.4 367.6h0M583.9 361.3h0M573 370.7h0M564.1 362.1h0M562.5 366.2h0M589.1 365.9h0M559.3 363.6h0M565.4 369.5h0M546.9 366h0M569.1 364h0M604.8 365.1h0M561.4 367.8h0M562.7 367.8h0M562.6 364.1h0M585.4 362.5h0M605.8 371.2h0M565.9 365.8h0M564.9 362.7h0M594.4 362.5h0M571.4 368.8h0M588.4 363.1h0M570.6 370.3h0M541.6 361.5h0M562.2 362.4h0M554.2 363.4h0M568.7 364.7h0M548.7 362.6h0M553 361.4h0M542.7 362.6h0M544.4 365.4h0M582.5 363.8h0M555.6 361.7h0M614.4 362.9h0M546.2 364.4h0M568 362.5h0M606.4 365.6h0M584.8 361.5h0M611.8 367.2h0M582.6 365.3h0M583.9 362.1h0M576.2 372.1h0M614.9 367.2h0M539.8 364.4h0M564.8 362.9h0M561.9 364.2h0M592.3 371.9h0M581.9 365.3h0M595.2 367.3h0M578.3 368.9h0M643.3 365.1h0M582.8 363.4h0M541.2 363.9h0M568.1 365.6h0M569 366.7h0M574.8 370.7h0M596.7 367h0M590.7 367.7h0M588.7 370.7h0M599.5 370.5h0M561 364.1h0M587.3 361.3h0M598.3 361.1h0M544.6 364.4h0M598.9 369.2h0M542.8 362.3h0M599.3 362.7h0M597.2 362.8h0M573.9 369.7h0M615.5 361.7h0M555.1 365.8h0M553.4 368.5h0M597 366.1h0M565.2 367.5h0M586.5 363.2h0M572.8 368.5h0M582.7 362.9h0M581.1 370.1h0M608.9 367h0M591.9 363.9h0M602.9 362.1h0M555.6 361.7h0M544.2 363.7h0M577.6 369.2h0M588.7 362.1h0M542.3 362.1h0M532.2 365.2h0M584.8 361.5h0M597.1 361.7h0M578.3 369.6h0M575.7 371.5h0M606.1 369.4h0M546.4 367.2h0M579.2 369.4h0M552 361.2h0M601.1 361.7h0M578.5 368.7h0M589.1 363.9h0M564.2 361.1h0M591.4 361h0M593 367.8h0M581.1 368.5h0M539.1 361.1h0M577.9 368.7h0M564 361.7h0M570.2 365.7h0M576.3 371.1h0M575.3 371.5h0M566.6 362.2h0M573.7 370.6h0M562 364.7h0M624.9 363h0M548.7 363.4h0M518.4 362.6h0M636.4 361.4h0M525.4 366.2h0M608.5 364.6h0M638.4 362.3h0M635.1 361.2h0M521.3 368.3h0M515 365.5h0M609.8 367.8h0M603.4 361.6h0M624.9 371.4h0M606.2 367.9h0M616.5 361.5h0M631.7 367.4h0M516.6 361.4h0M535.1 367.4h0M615.1 368.7h0M535.2 368.6h0M639.4 367.7h0M624.7 361.8h0M636.7 368.3h0M631.4 365.4h0M512.4 367.9h0M629.9 370h0M513 365.6h0M637.5 364.9h0M627.5 367.5h0M533.3 362.9h0M616.4 361.5h0M523.7 364.1h0M533.6 366.3h0M612.1 362.5h0M533.3 366.8h0M540.4 366.6h0M605.9 361.3h0M541.9 362.4h0M607 361.2h0M515.4 362.5h0M605.3 362.2h0M522.4 366h0M605.1 365.3h0M629.2 369.4h0M542.4 361.4h0M527.2 369.7h0M638.1 363.3h0M516.6 364.7h0M547.2 361.8h0M532.9 362.1h0M532.3 364.6h0M607.1 366.8h0M636.5 367.8h0M609.5 367.2h0M516.8 369h0M530.6 370.8h0M511.8 367h0M548.3 367.9h0M530.3 361h0M630.5 370.3h0M637.1 362.7h0M638.3 362.8h0M537.4 362.4h0M605.9 366h0M619.3 362.7h0M630.5 362.1h0M521.2 362h0M631.2 365.4h0M603.6 363.8h0M542.3 361.6h0" stroke="#d0d0d0" stroke-width="1.7" stroke-linecap="round"/>
<line x1="569.8" y1="240.5" x2="569.8" y2="377.9" stroke="#c4c4c4" stroke-width="0.9" stroke-dasharray="4.9,5.1"/>
<line x1="581.5" y1="240.5" x2="581.5" y2="377.9" stroke="#c4c4c4" stroke-width="0.9" stroke-dasharray="4.9,5.1"/>
<line x1="475.7" y1="361" x2="676.2" y2="361" stroke="#c4c4c4" stroke-width="0.9" stroke-dasharray="4.9,5.1"/>
<path d="M553.4 350h0M567.4 340.2h0M563.7 359.5h0M567.6 355.2h0M534.7 351.4h0M566.3 357h0M526.1 357.5h0M544.1 358.5h0M560 351.5h0M567.4 357.3h0M566.4 358.3h0M523.7 359.6h0M569.1 359.3h0M554.9 346.3h0M554.7 359.5h0M547.8 359.3h0M564.9 354.4h0M534.6 359.8h0M558.2 357h0M550.5 346.6h0M561.3 355.7h0M507.3 350h0M552.5 355.2h0M553.5 358h0M562.8 359.5h0M562.8 359h0M560.2 358.3h0M566.1 355.6h0M535.6 345.7h0M541.6 357.2h0M538.7 359.7h0M542.6 358.6h0M534.4 357.7h0M562.7 359.1h0M549.7 359.6h0M539.4 357.8h0M536.3 357h0M560.5 355.8h0M559.5 357.8h0M556.5 352.1h0M568.5 353.8h0M568.3 346.4h0M552.4 350.3h0M561.5 357.8h0M562.7 358.5h0M554.8 359.6h0M566.7 356.3h0M556 358.3h0M562.4 359.5h0M543.1 357.2h0M562.6 355.7h0M565.3 358.7h0M554.2 359.2h0M506.3 356.2h0M558.4 359.9h0M562.6 332.5h0M565.3 359.1h0M562.8 358.9h0M567.4 357.5h0M563.6 358.2h0M566.1 358.2h0M526.7 355.3h0M564.6 359.7h0M568.7 358.1h0M493.5 359.1h0M562.6 354.6h0M560.4 354.3h0M564.7 352.4h0M566 340.5h0M559.6 355.2h0M533.8 359.7h0M551 357.6h0M562.3 348.1h0M550.5 356.2h0M549.3 357h0M565.6 359.7h0M533.6 355.2h0M564.3 354.1h0M562 339h0M563.9 355h0M566 353.2h0M568.7 352.4h0M529.2 356.9h0M559.5 356.6h0M522.8 360.1h0M555.1 349.8h0M510.1 332h0M527.4 360.2h0M568.3 358.9h0M560.1 355.7h0M549.4 353.4h0M560 359.2h0M553.4 360.1h0M565.8 339.6h0M569.1 350.8h0M561.6 356h0M555 354.4h0M568.8 359.9h0M564.3 347.4h0M546.6 357.3h0M544.6 356.6h0M568 357.8h0M552.6 359.4h0M550.6 352.5h0M566.1 359.4h0M558.1 340.4h0M541.3 350h0M537.3 354h0M561.8 358.9h0M560.6 322.8h0M562.4 353.7h0M559.8 351.7h0M558.8 357.8h0M567.1 358.9h0M537.3 359.2h0M547.1 357.4h0M561.4 357.8h0M568.8 354.6h0M552.7 358.3h0M562 355.8h0M556.4 351h0M568.9 358.3h0M565.5 355.6h0M554.1 359.2h0M534.2 338.7h0M565.7 354.5h0M564 358.7h0M541.7 356.5h0M547.8 355.7h0M567 358.6h0M560.1 355.6h0M513.6 359.5h0M565.2 358.4h0M528.4 343.6h0M561.9 347.3h0M564.6 358.9h0M554.2 359.8h0M542.4 359.4h0M553.2 357.3h0M569 356.3h0M568.9 356.3h0M565.9 359.9h0M552.8 360.3h0M560 354.3h0M566.5 357.7h0M567.7 353.7h0M562.6 359.7h0M561 358.8h0M556 353.8h0M563.8 358.3h0M565.7 359h0M566.8 350.9h0M551.1 351.7h0M543.1 353.5h0M531.8 358.6h0M569.1 359.6h0M550.3 357.5h0M538.2 358.2h0M563 359h0M557.5 360.1h0M565.4 316.9h0M561.2 359.4h0M567.3 359h0M559 359.8h0M566.8 359.2h0M553.4 347.1h0M557.5 347.1h0M557.8 355.1h0M567.2 353h0M561 358.4h0M559.2 359.5h0M552.3 338.2h0M526.9 357.4h0M559 354.6h0M556.9 359.8h0M565.7 360.2h0M558.6 359.5h0M564.4 334.5h0M566.1 360h0M526.6 337.4h0M541.6 356.8h0M534 356.1h0M557.6 360.3h0M567.9 355.4h0M555.2 353.1h0M566.9 359.5h0M560.9 359.2h0M561.9 353.9h0M546.4 359h0M550.2 356.1h0M557.6 358.9h0M521.8 360.3h0M548.4 353.5h0M559.2 354.7h0M551.7 318.5h0M546.6 356.5h0M562.9 350.2h0M556.6 358.2h0M565 357.9h0M556.2 320.8h0M565.5 357.1h0M564.8 358.7h0M538.1 353.7h0M559 356.7h0M568.7 359.7h0M554.8 353.4h0M549.5 293.8h0M534.5 299.5h0M546 301.5h0M532.7 314.6h0M537 313h0M553 314h0M530 328h0M531 335h0M535 336h0M554 326h0M496.6 340.6h0M491 352h0M505 349h0M515 352h0M522 344.5h0M510.6 351h0M517.5 355h0M509 353h0M535 355h0M531 349h0M541 341h0M546 338h0M548 333h0M559 333h0" stroke="#2a4a90" stroke-width="1.8" stroke-linecap="round"/>
<path d="M590.9 357.1h0M587.9 355.6h0M589.4 346.7h0M582.3 358h0M626.3 356.7h0M618.7 354.3h0M584.6 358.4h0M584.8 358.3h0M584 357.3h0M589.2 359.7h0M592 355.5h0M583.7 359.8h0M595.1 355.8h0M583.9 357.8h0M599.9 359.7h0M621.3 360.2h0M593.5 357.4h0M608.3 350.5h0M586.7 344.1h0M582.8 346.3h0M583.5 359.9h0M601.5 354.6h0M587.1 359.4h0M582.9 358.6h0M601.3 356.2h0M595.4 343.2h0M594.4 356h0M582.4 359.7h0M588.9 360.2h0M597.6 354.4h0M587.3 355.6h0M587 357.5h0M587.5 357.7h0M591.7 357.3h0M646.6 356.3h0M610.3 356.7h0M612.2 329.1h0M588 357.2h0M599.1 358.7h0M589.7 355.3h0M588.9 359h0M587.7 359.2h0M591.7 359.9h0M594.5 359h0M587.7 353.4h0M586.7 358.3h0M622.5 357.4h0M597.7 350.9h0M585.7 358.7h0M606.2 353.8h0M583.8 358.1h0M595.7 356.1h0M596.3 343.8h0M586.7 356.4h0M632.8 343.7h0M590 360.3h0M594.1 357.1h0M588.8 355.4h0M587.5 357.4h0M589.6 359.7h0M583.6 357.7h0M590.4 356.6h0M584.8 356.6h0M592.6 332.7h0M589.7 359.4h0M587.5 353h0M603.7 329.3h0M588.5 357.6h0M594.8 359.9h0M609.8 357h0M588.4 352.1h0M583.2 357.4h0M603.1 353.6h0M583.4 355.2h0M593 350.7h0M597.8 347.8h0M591 358.6h0M620.7 359.2h0M594.6 354.9h0M588.4 359.6h0M582.6 359.5h0M594.1 348.9h0M582.9 355.2h0M590.4 357.7h0M586.8 357.9h0M583.2 359.1h0M596.4 355.8h0M588.6 360.1h0M600.1 357.2h0M588.1 359.6h0M585.8 359.1h0M583.2 355.8h0M582.2 357.2h0M595.3 358.6h0M587.2 354.6h0M583.5 358h0M586.6 352.3h0M584.5 341.9h0M590.2 359.4h0M596.9 353.1h0M599.4 359.2h0M582.4 354.3h0M609.2 357.5h0M587.1 359.2h0M585.7 359.1h0M583.4 354h0M606.5 359.2h0M588.4 349h0M602.5 353.1h0M585.2 356.3h0M583.2 359.5h0M625.8 357.5h0M630.7 319.5h0M589.3 355.6h0M604.1 359.3h0M600.1 360.1h0M583 357h0M599.8 313.4h0M615.2 333.2h0M624.1 360.3h0M590.6 356.8h0M597.4 353.3h0M606.4 359.2h0M625.1 337.1h0M585.8 359.9h0M608.8 355.9h0M610.1 355.2h0M582.2 355.6h0M590.4 359.8h0M597 359.5h0M586.6 345h0M591 357.3h0M583.5 359h0M602.2 359.3h0M589.5 358.7h0M591.8 359h0M624.7 357.8h0M585 356.7h0M596.7 356.9h0M604.6 358.9h0M582.9 351.7h0M612.8 329.9h0M586.8 358.4h0M593.5 358.9h0M637.6 346.9h0M586.5 360.3h0M590 360h0M604.6 359.3h0M616.3 358.6h0M629.9 352.5h0M598.7 358.4h0M586.2 357.2h0M595.2 359.4h0M586.4 355.4h0M584.1 360.1h0M613.8 354.7h0M599.9 351.4h0M603.9 357.7h0M585.6 351.7h0M588 356.1h0M584.2 359.2h0M582.2 358.7h0M593.3 359.4h0M585.2 353.4h0M589.2 359.1h0M584.9 359h0M587.9 356.4h0M588.1 359.6h0M592.8 356.8h0M629 358.3h0M593 357.9h0M594 358.9h0M592.6 358.8h0M601 358.5h0M582.6 358.9h0M582.3 352.5h0M585.8 358.3h0M594.2 354.4h0M592.3 360.1h0M601.6 352.8h0M585.8 356.2h0M619.5 354.7h0M586.2 359.2h0M583.2 359.5h0M605.7 335.6h0M591 358.8h0M584.5 360.3h0M587.8 359h0M583 358.6h0M591.9 349h0M599.9 354.5h0M599.5 348.4h0M595.5 358h0M584.5 334.9h0M584.6 336h0M583.3 356.4h0M615.3 275.7h0M652.2 308.9h0M594.7 319.9h0M602 325.7h0M614.7 320.8h0M618 324.5h0M624.8 322.6h0M587 328.1h0M590.1 331.8h0M585.2 335.4h0M603.8 336.3h0M611.5 336h0M633.9 344h0M624.2 343.6h0M628.4 347.3h0M624.8 350h0M631.2 354.6h0M612 355h0M618 352h0M608 345h0" stroke="#cc2a2a" stroke-width="1.8" stroke-linecap="round"/>
<text transform="translate(473.7 375.6) scale(0.86 1)" font-size="8.8" text-anchor="end" fill="#111">0</text>
<text transform="translate(473.7 333.4) scale(0.86 1)" font-size="8.8" text-anchor="end" fill="#111">10</text>
<text transform="translate(473.7 291.3) scale(0.86 1)" font-size="8.8" text-anchor="end" fill="#111">20</text>
<text transform="translate(473.7 249.2) scale(0.86 1)" font-size="8.8" text-anchor="end" fill="#111">30</text>
<text transform="translate(520.3 386.4) scale(0.86 1)" font-size="8.8" text-anchor="middle" fill="#111">−5</text>
<text transform="translate(575.5 386.4) scale(0.86 1)" font-size="8.8" text-anchor="middle" fill="#111">0</text>
<text transform="translate(633.9 386.4) scale(0.86 1)" font-size="8.8" text-anchor="middle" fill="#111">5</text>
<text x="575" y="393" font-size="8.2" text-anchor="middle">log2(Fold Change)</text>
<text x="460.7" y="308" font-size="8.6" text-anchor="middle" transform="rotate(-90 460.7 308)">-log10(pvalue)</text>
<line x1="556.8" y1="255.1" x2="562.2" y2="337.2" stroke="#333" stroke-width="0.6" />
<text x="549.5" y="252.5" font-size="8" text-anchor="middle" font-style="italic">EGR1</text>
<line x1="536.7" y1="266.1" x2="561.3" y2="341.8" stroke="#333" stroke-width="0.6" />
<text x="532.1" y="265.3" font-size="8" text-anchor="middle" font-style="italic">STAT1</text>
<line x1="518.4" y1="279.7" x2="557.7" y2="343.6" stroke="#333" stroke-width="0.6" />
<text x="516.6" y="278.1" font-size="8" text-anchor="middle" font-style="italic">FOS</text>
<line x1="510.2" y1="287" x2="555" y2="347.3" stroke="#333" stroke-width="0.6" />
<text x="497.1" y="288.5" font-size="8" text-anchor="middle" font-style="italic">LMO4</text>
<line x1="503.8" y1="301.6" x2="554" y2="350.9" stroke="#333" stroke-width="0.6" />
<text x="490.5" y="303.1" font-size="8" text-anchor="middle" font-style="italic">ICAM2</text>
<line x1="500.2" y1="314.8" x2="552.2" y2="352.7" stroke="#333" stroke-width="0.6" />
<text x="488.3" y="317.7" font-size="8" text-anchor="middle" font-style="italic">FOSB</text>
<line x1="508.4" y1="331.8" x2="547.6" y2="354.6" stroke="#333" stroke-width="0.6" />
<text x="498.4" y="333.4" font-size="8" text-anchor="middle" font-style="italic">IRF7</text>
<line x1="594.7" y1="249.6" x2="583.7" y2="349" stroke="#333" stroke-width="0.6" />
<text x="595.6" y="248" font-size="8" text-anchor="middle" font-style="italic">KIT</text>
<line x1="612" y1="254.6" x2="589.2" y2="349" stroke="#333" stroke-width="0.6" />
<text x="612.9" y="253.4" font-size="8" text-anchor="middle" font-style="italic">TFPI</text>
<line x1="627.9" y1="251.5" x2="592.8" y2="350.9" stroke="#333" stroke-width="0.6" />
<text x="642.1" y="250.7" font-size="8" text-anchor="middle" font-style="italic">SPINK2</text>
<line x1="633.9" y1="267.9" x2="596.5" y2="350.9" stroke="#333" stroke-width="0.6" />
<text x="641.2" y="265.9" font-size="8" text-anchor="middle" font-style="italic">BAALC</text>
<line x1="636.6" y1="274.3" x2="599.2" y2="350.9" stroke="#333" stroke-width="0.6" />
<text x="650.3" y="276.3" font-size="8" text-anchor="middle" font-style="italic">HOXB7</text>
<line x1="642.1" y1="286.1" x2="600.1" y2="354.6" stroke="#333" stroke-width="0.6" />
<text x="649.4" y="288.1" font-size="8" text-anchor="middle" font-style="italic">HLF</text>
<line x1="644.9" y1="297.1" x2="602" y2="352.7" stroke="#333" stroke-width="0.6" />
<text x="654.9" y="298.2" font-size="8" text-anchor="middle" font-style="italic">CCL2</text>
<line x1="645.8" y1="305.3" x2="600.1" y2="352.7" stroke="#333" stroke-width="0.6" />
<text x="655.8" y="306.7" font-size="8" text-anchor="middle" font-style="italic">MLF1</text>
<line x1="643.9" y1="314.4" x2="605.6" y2="350.9" stroke="#333" stroke-width="0.6" />
<text x="658.5" y="316.9" font-size="8" text-anchor="middle" font-style="italic">HOXB3</text>
<line x1="644.9" y1="329.9" x2="611.1" y2="353.6" stroke="#333" stroke-width="0.6" />
<text x="659.5" y="329.2" font-size="8" text-anchor="middle" font-style="italic">EPCAM</text>
<text x="151.8" y="427.7" font-size="14" text-anchor="middle" font-weight="bold">GA vs P</text>
<line x1="131.2" y1="435.5" x2="131.2" y2="682.5" stroke="#ebebeb" stroke-width="0.6" />
<line x1="141.3" y1="435.5" x2="141.3" y2="682.5" stroke="#ebebeb" stroke-width="0.6" />
<line x1="161.5" y1="435.5" x2="161.5" y2="682.5" stroke="#ebebeb" stroke-width="0.6" />
<line x1="171.6" y1="435.5" x2="171.6" y2="682.5" stroke="#ebebeb" stroke-width="0.6" />
<line x1="151.4" y1="435.5" x2="151.4" y2="682.5" stroke="#555" stroke-width="0.7" stroke-dasharray="3.5,2.8"/>
<line x1="151.4" y1="441.2" x2="173.3" y2="441.2" stroke="#666" stroke-width="0.7" />
<line x1="151.4" y1="457.4" x2="171.6" y2="457.4" stroke="#666" stroke-width="0.7" />
<line x1="151.4" y1="473.2" x2="171.3" y2="473.2" stroke="#666" stroke-width="0.7" />
<line x1="151.4" y1="491.1" x2="170.8" y2="491.1" stroke="#666" stroke-width="0.7" />
<line x1="151.4" y1="508.8" x2="169.6" y2="508.8" stroke="#666" stroke-width="0.7" />
<line x1="151.4" y1="526.6" x2="167.9" y2="526.6" stroke="#666" stroke-width="0.7" />
<line x1="151.4" y1="545.1" x2="167.2" y2="545.1" stroke="#666" stroke-width="0.7" />
<line x1="151.4" y1="564.6" x2="166.9" y2="564.6" stroke="#666" stroke-width="0.7" />
<line x1="151.4" y1="583.7" x2="138.3" y2="583.7" stroke="#666" stroke-width="0.7" />
<line x1="151.4" y1="601.5" x2="138.3" y2="601.5" stroke="#666" stroke-width="0.7" />
<line x1="151.4" y1="621.7" x2="136" y2="621.7" stroke="#666" stroke-width="0.7" />
<line x1="151.4" y1="640.1" x2="135" y2="640.1" stroke="#666" stroke-width="0.7" />
<line x1="151.4" y1="657.4" x2="132.6" y2="657.4" stroke="#666" stroke-width="0.7" />
<line x1="151.4" y1="672.5" x2="130.3" y2="672.5" stroke="#666" stroke-width="0.7" />
<circle cx="173.3" cy="441.2" r="7.7" fill="#e8282a" />
<text x="117" y="444.2" font-size="8.3" text-anchor="end">Inflammatory response</text>
<circle cx="171.6" cy="457.4" r="5.6" fill="#eb4a3a" />
<text x="117" y="460.4" font-size="8.3" text-anchor="end">EMT</text>
<circle cx="171.3" cy="473.2" r="7.6" fill="#e8282a" />
<text x="117" y="476.2" font-size="8.3" text-anchor="end">Cell adhesion</text>
<circle cx="170.8" cy="491.1" r="7.6" fill="#e8282a" />
<text x="117" y="494.1" font-size="8.3" text-anchor="end">Heart development</text>
<circle cx="169.6" cy="508.8" r="7.6" fill="#e8282a" />
<text x="117" y="511.8" font-size="8.3" text-anchor="end">Innate immune response</text>
<circle cx="167.9" cy="526.6" r="7.6" fill="#e8282a" />
<text x="117" y="529.6" font-size="8.3" text-anchor="end">Cell motility</text>
<circle cx="167.2" cy="545.1" r="8" fill="#e8282a" />
<text x="117" y="548.1" font-size="8.3" text-anchor="end">Neurogenesis</text>
<circle cx="166.9" cy="564.6" r="8" fill="#ec4b3b" />
<text x="117" y="567.6" font-size="8.3" text-anchor="end">Cell morphogenesis</text>
<circle cx="138.3" cy="583.7" r="7.6" fill="#5856a8" />
<text x="117" y="586.7" font-size="8.3" text-anchor="end">Cell cycle</text>
<circle cx="138.3" cy="601.5" r="7.6" fill="#7a6db8" />
<text x="117" y="604.5" font-size="8.3" text-anchor="end">Mitotic cell cycle process</text>
<circle cx="136" cy="621.7" r="6" fill="#8b7ec0" />
<text x="117" y="619.5" font-size="8.3" text-anchor="end">Hematopoiesis intermediate</text>
<text x="117" y="629.7" font-size="8.3" text-anchor="end">progenitor</text>
<circle cx="135" cy="640.1" r="6" fill="#7f70b8" />
<text x="117" y="643.1" font-size="8.3" text-anchor="end">Cell cycle S</text>
<circle cx="132.6" cy="657.4" r="7.6" fill="#3f4fa8" />
<text x="117" y="660.4" font-size="8.3" text-anchor="end">Hematopoiesis early progenitor</text>
<circle cx="130.3" cy="672.5" r="5.5" fill="#3a4aa8" />
<text x="117" y="675.5" font-size="8.3" text-anchor="end">DNA repair</text>
<text x="130.3" y="692" font-size="8.3" text-anchor="middle" fill="#111">−2</text>
<text x="151" y="692" font-size="8.3" text-anchor="middle" fill="#111">0</text>
<text x="171.4" y="692" font-size="8.3" text-anchor="middle" fill="#111">2</text>
<text x="150.9" y="700.5" font-size="8.3" text-anchor="middle" fill="#111">NES</text>
<text x="378.4" y="428" font-size="14" text-anchor="middle" font-weight="bold">GS vs P</text>
<line x1="352" y1="435.5" x2="352" y2="682.5" stroke="#ebebeb" stroke-width="0.6" />
<line x1="360.8" y1="435.5" x2="360.8" y2="682.5" stroke="#ebebeb" stroke-width="0.6" />
<line x1="369.6" y1="435.5" x2="369.6" y2="682.5" stroke="#ebebeb" stroke-width="0.6" />
<line x1="387.2" y1="435.5" x2="387.2" y2="682.5" stroke="#ebebeb" stroke-width="0.6" />
<line x1="396" y1="435.5" x2="396" y2="682.5" stroke="#ebebeb" stroke-width="0.6" />
<line x1="404.8" y1="435.5" x2="404.8" y2="682.5" stroke="#ebebeb" stroke-width="0.6" />
<line x1="378.4" y1="435.5" x2="378.4" y2="682.5" stroke="#555" stroke-width="0.7" stroke-dasharray="3.5,2.8"/>
<line x1="378.4" y1="441" x2="403.3" y2="441" stroke="#666" stroke-width="0.7" />
<line x1="378.4" y1="459.6" x2="401.1" y2="459.6" stroke="#666" stroke-width="0.7" />
<line x1="378.4" y1="477.8" x2="399" y2="477.8" stroke="#666" stroke-width="0.7" />
<line x1="378.4" y1="498.1" x2="397" y2="498.1" stroke="#666" stroke-width="0.7" />
<line x1="378.4" y1="521.9" x2="392.4" y2="521.9" stroke="#666" stroke-width="0.7" />
<line x1="378.4" y1="545.4" x2="390.6" y2="545.4" stroke="#666" stroke-width="0.7" />
<line x1="378.4" y1="569.2" x2="365.8" y2="569.2" stroke="#666" stroke-width="0.7" />
<line x1="378.4" y1="591" x2="364" y2="591" stroke="#666" stroke-width="0.7" />
<line x1="378.4" y1="612.7" x2="363" y2="612.7" stroke="#666" stroke-width="0.7" />
<line x1="378.4" y1="634.8" x2="361.2" y2="634.8" stroke="#666" stroke-width="0.7" />
<line x1="378.4" y1="654" x2="357.4" y2="654" stroke="#666" stroke-width="0.7" />
<line x1="378.4" y1="672.3" x2="352.4" y2="672.3" stroke="#666" stroke-width="0.7" />
<circle cx="403.3" cy="441" r="3.6" fill="#e42828" />
<text x="341.9" y="444" font-size="8.3" text-anchor="end">Eppert CE HSC LSC</text>
<circle cx="401.1" cy="459.6" r="3.6" fill="#e85a3f" />
<text x="341.9" y="462.6" font-size="8.3" text-anchor="end">Epithelial cell morphogenesis</text>
<circle cx="399" cy="477.8" r="3.6" fill="#ee7c60" />
<text x="341.9" y="480.8" font-size="8.3" text-anchor="end">Regulation of cell adhesion by catherin</text>
<circle cx="397" cy="498.1" r="7.7" fill="#e8282a" />
<text x="341.9" y="501.1" font-size="8.3" text-anchor="end">DNA repair</text>
<circle cx="392.4" cy="521.9" r="7.7" fill="#e8282a" />
<text x="341.9" y="524.9" font-size="8.3" text-anchor="end">Mitotic cell cycle</text>
<circle cx="390.6" cy="545.4" r="7.7" fill="#e8282a" />
<text x="341.9" y="548.4" font-size="8.3" text-anchor="end">Cell cycle</text>
<circle cx="365.8" cy="569.2" r="7.7" fill="#3a50a6" />
<text x="341.9" y="572.2" font-size="8.3" text-anchor="end">Regulation of immune system</text>
<circle cx="364" cy="591" r="5.6" fill="#6a60b0" />
<text x="341.9" y="594" font-size="8.3" text-anchor="end">Regulation of myeloid cell differentiation</text>
<circle cx="363" cy="612.7" r="7.7" fill="#3a50a6" />
<text x="341.9" y="615.7" font-size="8.3" text-anchor="end">Innate immune response</text>
<circle cx="361.2" cy="634.8" r="5.6" fill="#5a58a8" />
<text x="341.9" y="632.6" font-size="8.3" text-anchor="end">Positive regulation of myeloid</text>
<text x="341.9" y="642.8" font-size="8.3" text-anchor="end">cell differentiation</text>
<circle cx="357.4" cy="654" r="5.6" fill="#3a4fa0" />
<text x="341.9" y="657" font-size="8.3" text-anchor="end">Hematopoietic stem cell down</text>
<circle cx="352.4" cy="672.3" r="3.2" fill="#3a4aa0" />
<text x="341.9" y="675.3" font-size="8.3" text-anchor="end">Response to type I interferon</text>
<text x="361.2" y="692" font-size="8.3" text-anchor="middle" fill="#111">−2</text>
<text x="378.4" y="692" font-size="8.3" text-anchor="middle" fill="#111">0</text>
<text x="396.5" y="692" font-size="8.3" text-anchor="middle" fill="#111">2</text>
<text x="378.4" y="700.5" font-size="8.3" text-anchor="middle" fill="#111">NES</text>
<text x="601" y="427.4" font-size="14" text-anchor="middle" font-weight="bold">GSA vs P</text>
<line x1="569.5" y1="435.5" x2="569.5" y2="682.5" stroke="#ebebeb" stroke-width="0.6" />
<line x1="579.9" y1="435.5" x2="579.9" y2="682.5" stroke="#ebebeb" stroke-width="0.6" />
<line x1="590.3" y1="435.5" x2="590.3" y2="682.5" stroke="#ebebeb" stroke-width="0.6" />
<line x1="611.1" y1="435.5" x2="611.1" y2="682.5" stroke="#ebebeb" stroke-width="0.6" />
<line x1="621.5" y1="435.5" x2="621.5" y2="682.5" stroke="#ebebeb" stroke-width="0.6" />
<line x1="631.9" y1="435.5" x2="631.9" y2="682.5" stroke="#ebebeb" stroke-width="0.6" />
<line x1="600.7" y1="435.5" x2="600.7" y2="682.5" stroke="#555" stroke-width="0.7" stroke-dasharray="3.5,2.8"/>
<line x1="600.7" y1="441.1" x2="632" y2="441.1" stroke="#666" stroke-width="0.7" />
<line x1="600.7" y1="459" x2="628.8" y2="459" stroke="#666" stroke-width="0.7" />
<line x1="600.7" y1="476.9" x2="627.8" y2="476.9" stroke="#666" stroke-width="0.7" />
<line x1="600.7" y1="494.8" x2="626.7" y2="494.8" stroke="#666" stroke-width="0.7" />
<line x1="600.7" y1="515.6" x2="614" y2="515.6" stroke="#666" stroke-width="0.7" />
<line x1="600.7" y1="534.1" x2="583.8" y2="534.1" stroke="#666" stroke-width="0.7" />
<line x1="600.7" y1="550.2" x2="583" y2="550.2" stroke="#666" stroke-width="0.7" />
<line x1="600.7" y1="563.8" x2="581.3" y2="563.8" stroke="#666" stroke-width="0.7" />
<line x1="600.7" y1="577" x2="578.8" y2="577" stroke="#666" stroke-width="0.7" />
<line x1="600.7" y1="593.1" x2="577.7" y2="593.1" stroke="#666" stroke-width="0.7" />
<line x1="600.7" y1="608.5" x2="578.4" y2="608.5" stroke="#666" stroke-width="0.7" />
<line x1="600.7" y1="624.6" x2="577.7" y2="624.6" stroke="#666" stroke-width="0.7" />
<line x1="600.7" y1="644.2" x2="577" y2="644.2" stroke="#666" stroke-width="0.7" />
<line x1="600.7" y1="659.5" x2="575.4" y2="659.5" stroke="#666" stroke-width="0.7" />
<line x1="600.7" y1="672.8" x2="570" y2="672.8" stroke="#666" stroke-width="0.7" />
<circle cx="632" cy="441.1" r="3.6" fill="#e42828" />
<text x="564.1" y="444.1" font-size="8.3" text-anchor="end">Eppert CE HSC LSC</text>
<circle cx="628.8" cy="459" r="3.6" fill="#e84a3a" />
<text x="564.1" y="456.8" font-size="8.3" text-anchor="end">Positive regulation of</text>
<text x="564.1" y="467" font-size="8.3" text-anchor="end">chromosome condensation</text>
<circle cx="627.8" cy="476.9" r="3.6" fill="#e85040" />
<text x="564.1" y="479.9" font-size="8.3" text-anchor="end">Regulation of cell adhesion by catherin</text>
<circle cx="626.7" cy="494.8" r="3.6" fill="#e85c48" />
<text x="564.1" y="492.6" font-size="8.3" text-anchor="end">Positive regulation of</text>
<text x="564.1" y="502.8" font-size="8.3" text-anchor="end">neuroblast proliferation</text>
<circle cx="614" cy="515.6" r="7.8" fill="#f4856c" />
<text x="564.1" y="518.6" font-size="8.3" text-anchor="end">Neurogenesis</text>
<circle cx="583.8" cy="534.1" r="7.7" fill="#3a50a6" />
<text x="564.1" y="537.1" font-size="8.3" text-anchor="end">Regulation of cell differentiation</text>
<circle cx="583" cy="550.2" r="5.6" fill="#7a6ab8" />
<text x="564.1" y="553.2" font-size="8.3" text-anchor="end">Cell cycle G2</text>
<circle cx="581.3" cy="563.8" r="5.6" fill="#4054a8" />
<text x="564.1" y="566.8" font-size="8.3" text-anchor="end">Hematopoiesis mature cell</text>
<circle cx="578.8" cy="577" r="3.6" fill="#7060b0" />
<text x="564.1" y="580" font-size="8.3" text-anchor="end">Diseases of mitotic cell cycle</text>
<circle cx="577.7" cy="593.1" r="7.7" fill="#3a50a6" />
<text x="564.1" y="596.1" font-size="8.3" text-anchor="end">Myeloid cell differentiation</text>
<circle cx="578.4" cy="608.5" r="3.6" fill="#5a5aaa" />
<text x="564.1" y="611.5" font-size="8.3" text-anchor="end">Myeloid cell development</text>
<circle cx="577.7" cy="624.6" r="7.7" fill="#3a50a6" />
<text x="564.1" y="627.6" font-size="8.3" text-anchor="end">Inflammatory response</text>
<circle cx="577" cy="644.2" r="7.6" fill="#3a50a6" />
<text x="564.1" y="647.2" font-size="8.3" text-anchor="end">Innate immune response</text>
<circle cx="575.4" cy="659.5" r="3.4" fill="#6a5fb0" />
<text x="564.1" y="662.5" font-size="8.3" text-anchor="end">Monocyte differentiation</text>
<circle cx="570" cy="672.8" r="5.7" fill="#3a50a6" />
<text x="564.1" y="675.8" font-size="8.3" text-anchor="end">Hematopoietic stem cell down</text>
<text x="580.2" y="692" font-size="8.3" text-anchor="middle" fill="#111">−2</text>
<text x="600.8" y="692" font-size="8.3" text-anchor="middle" fill="#111">0</text>
<text x="621.5" y="692" font-size="8.3" text-anchor="middle" fill="#111">2</text>
<text x="600.8" y="700.5" font-size="8.3" text-anchor="middle" fill="#111">NES</text>
<text x="638.9" y="522.7" font-size="8.1">log10(p−adj)</text>
<linearGradient id="lg1" x1="0" y1="0" x2="0" y2="1"><stop offset="0" stop-color="#e8202a"/><stop offset="0.17" stop-color="#ec5a40"/><stop offset="0.33" stop-color="#f5a58e"/><stop offset="0.5" stop-color="#fbf7f9"/><stop offset="0.67" stop-color="#a396ca"/><stop offset="0.83" stop-color="#6560ae"/><stop offset="1" stop-color="#3a4ea0"/></linearGradient>
<rect x="638.1" y="530" width="12.2" height="58.8" fill="url(#lg1)"/>
<line x1="648" y1="530.5" x2="650.3" y2="530.5" stroke="#fff" stroke-width="0.6" />
<text x="653.7" y="533.6" font-size="8.5">3</text>
<line x1="648" y1="540.2" x2="650.3" y2="540.2" stroke="#fff" stroke-width="0.6" />
<text x="653.7" y="543.3" font-size="8.5">2</text>
<line x1="648" y1="550" x2="650.3" y2="550" stroke="#fff" stroke-width="0.6" />
<text x="653.7" y="553.1" font-size="8.5">1</text>
<line x1="648" y1="559.8" x2="650.3" y2="559.8" stroke="#fff" stroke-width="0.6" />
<text x="653.7" y="562.8" font-size="8.5">0</text>
<line x1="648" y1="569.5" x2="650.3" y2="569.5" stroke="#fff" stroke-width="0.6" />
<text x="653.7" y="572.6" font-size="8.5">−1</text>
<line x1="648" y1="579.2" x2="650.3" y2="579.2" stroke="#fff" stroke-width="0.6" />
<text x="653.7" y="582.3" font-size="8.5">−2</text>
<line x1="648" y1="589" x2="650.3" y2="589" stroke="#fff" stroke-width="0.6" />
<text x="653.7" y="592.1" font-size="8.5">−3</text>
<text x="638.9" y="610.7" font-size="8.1">Genes in set</text>
<circle cx="645.6" cy="622.7" r="3.6" fill="#bdbdbd" />
<text x="650.6" y="625.8" font-size="8.5">0−100</text>
<circle cx="645.6" cy="636.3" r="5.5" fill="#bdbdbd" />
<text x="651.9" y="639.4" font-size="8.5">100−300</text>
<circle cx="645.8" cy="654.4" r="7.4" fill="#bdbdbd" />
<text x="655" y="657.5" font-size="8.5">&gt;300</text>
<text x="197.2" y="724.3" font-size="14.5" text-anchor="middle" font-weight="bold">RNA-seq</text>
<path d="M295.5 870.12h1.55M297.0 870.12h1.55M267.0 907.92h1.55" stroke="#4d56a6" stroke-width="9.50"/>
<path d="M264.0 907.92h1.55" stroke="#5257a6" stroke-width="9.50"/>
<path d="M268.5 907.92h1.55M271.5 917.38h1.55" stroke="#5658a7" stroke-width="9.50"/>
<path d="M267.0 917.38h1.55M270.0 917.38h1.55M211.5 936.27h1.55" stroke="#5b5aa8" stroke-width="9.50"/>
<path d="M306.0 879.58h1.55M270.0 907.92h1.55M265.5 917.38h1.55M214.5 936.27h1.55" stroke="#6360ab" stroke-width="9.50"/>
<path d="M69.0 737.83h1.55M40.5 747.27h1.55M183.0 766.18h1.55M54.0 803.98h1.55M127.5 803.98h1.55M34.5 813.42h1.55M111.0 813.42h1.55M232.5 889.02h1.55M232.5 907.92h1.55M250.5 907.92h1.55M259.5 907.92h1.55M265.5 907.92h1.55M250.5 917.38h1.55M259.5 917.38h1.55M261.0 917.38h1.55M262.5 917.38h1.55M277.5 917.38h1.55M306.0 917.38h1.55M205.5 926.83h1.55M214.5 926.83h1.55M205.5 936.27h1.55M277.5 936.27h1.55M237.0 945.73h1.55M214.5 955.17h1.55" stroke="#6c68b0" stroke-width="9.50"/>
<path d="M159.0 737.83h1.55M162.0 737.83h1.55M99.0 766.18h1.55M40.5 775.62h1.55M129.0 775.62h1.55M154.5 775.62h1.55M34.5 803.98h1.55M124.5 803.98h1.55M169.5 803.98h1.55M90.0 813.42h1.55M103.5 813.42h1.55M90.0 822.88h1.55M183.0 841.77h1.55M319.5 860.67h1.55M301.5 879.58h1.55M357.0 889.02h1.55M261.0 907.92h1.55M271.5 907.92h1.55M247.5 917.38h1.55M264.0 917.38h1.55M268.5 917.38h1.55M330.0 917.38h1.55M228.0 926.83h1.55M277.5 926.83h1.55M228.0 936.27h1.55M235.5 936.27h1.55M205.5 945.73h1.55M235.5 945.73h1.55M205.5 955.17h1.55" stroke="#766fb4" stroke-width="9.50"/>
<path d="M33.0 737.83h1.55M57.0 756.73h1.55M49.5 775.62h1.55M174.0 775.62h1.55M196.5 775.62h1.55M31.5 794.52h1.55M34.5 794.52h1.55M51.0 794.52h1.55M79.5 794.52h1.55M90.0 794.52h1.55M94.5 794.52h1.55M124.5 794.52h1.55M30.0 803.98h1.55M37.5 803.98h1.55M69.0 803.98h1.55M82.5 803.98h1.55M160.5 803.98h1.55M42.0 813.42h1.55M121.5 813.42h1.55M127.5 813.42h1.55M160.5 813.42h1.55M252.0 813.42h1.55M31.5 822.88h1.55M54.0 822.88h1.55M102.0 822.88h1.55M120.0 822.88h1.55M252.0 822.88h1.55M361.5 822.88h1.55M250.5 870.12h1.55M256.5 879.58h1.55M318.0 879.58h1.55M354.0 879.58h1.55M250.5 889.02h1.55M256.5 889.02h1.55M306.0 889.02h1.55M354.0 889.02h1.55M256.5 907.92h1.55M256.5 917.38h1.55M327.0 917.38h1.55M223.5 926.83h1.55M351.0 926.83h1.55M220.5 936.27h1.55M237.0 936.27h1.55M259.5 936.27h1.55M309.0 936.27h1.55M357.0 936.27h1.55M214.5 945.73h1.55M298.5 945.73h1.55M228.0 955.17h1.55" stroke="#7f76b8" stroke-width="9.50"/>
<path d="M150.0 737.83h1.55M181.5 737.83h1.55M211.5 737.83h1.55M154.5 747.27h1.55M178.5 747.27h1.55M69.0 766.18h1.55M73.5 766.18h1.55M103.5 766.18h1.55M154.5 766.18h1.55M273.0 766.18h1.55M285.0 766.18h1.55M297.0 766.18h1.55M33.0 775.62h1.55M99.0 775.62h1.55M114.0 775.62h1.55M166.5 775.62h1.55M178.5 775.62h1.55M154.5 785.08h1.55M42.0 794.52h1.55M66.0 794.52h1.55M82.5 794.52h1.55M88.5 794.52h1.55M120.0 794.52h1.55M31.5 803.98h1.55M36.0 803.98h1.55M66.0 803.98h1.55M70.5 803.98h1.55M79.5 803.98h1.55M90.0 803.98h1.55M97.5 803.98h1.55M121.5 803.98h1.55M150.0 803.98h1.55M66.0 813.42h1.55M223.5 813.42h1.55M42.0 822.88h1.55M63.0 822.88h1.55M79.5 822.88h1.55M94.5 822.88h1.55M127.5 822.88h1.55M129.0 822.88h1.55M156.0 822.88h1.55M199.5 822.88h1.55M337.5 832.33h1.55M133.5 841.77h1.55M151.5 841.77h1.55M151.5 860.67h1.55M175.5 860.67h1.55M220.5 879.58h1.55M250.5 879.58h1.55M244.5 889.02h1.55M247.5 889.02h1.55M232.5 898.48h1.55M228.0 907.92h1.55M240.0 907.92h1.55M247.5 907.92h1.55M252.0 926.83h1.55M264.0 926.83h1.55M301.5 926.83h1.55M202.5 936.27h1.55M207.0 936.27h1.55M216.0 936.27h1.55M258.0 936.27h1.55M298.5 936.27h1.55M318.0 936.27h1.55M217.5 945.73h1.55M220.5 945.73h1.55M223.5 945.73h1.55M228.0 945.73h1.55M244.5 945.73h1.55M252.0 945.73h1.55M199.5 955.17h1.55M202.5 955.17h1.55M213.0 955.17h1.55M237.0 955.17h1.55M271.5 955.17h1.55M301.5 955.17h1.55M357.0 955.17h1.55" stroke="#887ebd" stroke-width="9.50"/>
<path d="M30.0 737.83h1.55M34.5 737.83h1.55M49.5 737.83h1.55M57.0 737.83h1.55M82.5 737.83h1.55M160.5 737.83h1.55M187.5 747.27h1.55M30.0 756.73h1.55M37.5 756.73h1.55M49.5 756.73h1.55M102.0 756.73h1.55M129.0 766.18h1.55M162.0 766.18h1.55M184.5 766.18h1.55M274.5 766.18h1.55M106.5 775.62h1.55M187.5 775.62h1.55M57.0 785.08h1.55M36.0 794.52h1.55M55.5 794.52h1.55M61.5 794.52h1.55M69.0 794.52h1.55M97.5 794.52h1.55M52.5 803.98h1.55M67.5 803.98h1.55M85.5 803.98h1.55M100.5 803.98h1.55M102.0 803.98h1.55M118.5 803.98h1.55M120.0 803.98h1.55M162.0 803.98h1.55M31.5 813.42h1.55M55.5 813.42h1.55M70.5 813.42h1.55M118.5 813.42h1.55M30.0 822.88h1.55M39.0 822.88h1.55M40.5 822.88h1.55M51.0 822.88h1.55M66.0 822.88h1.55M69.0 822.88h1.55M82.5 822.88h1.55M88.5 822.88h1.55M111.0 822.88h1.55M124.5 822.88h1.55M151.5 822.88h1.55M256.5 822.88h1.55M262.5 822.88h1.55M319.5 822.88h1.55M339.0 832.33h1.55M175.5 841.77h1.55M349.5 841.77h1.55M357.0 851.23h1.55M309.0 860.67h1.55M52.5 870.12h1.55M232.5 879.58h1.55M274.5 879.58h1.55M294.0 879.58h1.55M348.0 879.58h1.55M31.5 889.02h1.55M205.5 889.02h1.55M265.5 889.02h1.55M268.5 889.02h1.55M319.5 889.02h1.55M340.5 889.02h1.55M100.5 898.48h1.55M301.5 898.48h1.55M262.5 907.92h1.55M291.0 907.92h1.55M297.0 907.92h1.55M301.5 907.92h1.55M327.0 907.92h1.55M361.5 907.92h1.55M291.0 917.38h1.55M220.5 926.83h1.55M237.0 926.83h1.55M259.5 926.83h1.55M280.5 926.83h1.55M297.0 926.83h1.55M318.0 926.83h1.55M210.0 936.27h1.55M217.5 936.27h1.55M262.5 936.27h1.55M348.0 936.27h1.55M249.0 945.73h1.55M259.5 945.73h1.55M271.5 945.73h1.55M277.5 945.73h1.55M280.5 945.73h1.55M282.0 945.73h1.55M289.5 945.73h1.55M297.0 945.73h1.55M220.5 955.17h1.55M225.0 955.17h1.55M252.0 955.17h1.55M298.5 955.17h1.55M303.0 955.17h1.55M309.0 955.17h1.55" stroke="#9085c1" stroke-width="9.50"/>
<path d="M31.5 737.83h1.55M63.0 737.83h1.55M73.5 737.83h1.55M154.5 737.83h1.55M187.5 737.83h1.55M193.5 737.83h1.55M196.5 737.83h1.55M214.5 737.83h1.55M30.0 747.27h1.55M37.5 747.27h1.55M69.0 756.73h1.55M156.0 756.73h1.55M166.5 756.73h1.55M181.5 756.73h1.55M57.0 766.18h1.55M75.0 766.18h1.55M106.5 766.18h1.55M69.0 775.62h1.55M73.5 775.62h1.55M102.0 775.62h1.55M160.5 775.62h1.55M252.0 775.62h1.55M37.5 785.08h1.55M49.5 785.08h1.55M94.5 785.08h1.55M156.0 785.08h1.55M67.5 794.52h1.55M76.5 794.52h1.55M118.5 794.52h1.55M133.5 794.52h1.55M187.5 794.52h1.55M40.5 803.98h1.55M129.0 803.98h1.55M141.0 803.98h1.55M37.5 813.42h1.55M52.5 813.42h1.55M54.0 813.42h1.55M79.5 813.42h1.55M148.5 813.42h1.55M36.0 822.88h1.55M70.5 822.88h1.55M76.5 822.88h1.55M81.0 822.88h1.55M100.5 822.88h1.55M123.0 822.88h1.55M133.5 822.88h1.55M150.0 822.88h1.55M187.5 822.88h1.55M151.5 832.33h1.55M172.5 841.77h1.55M277.5 841.77h1.55M319.5 841.77h1.55M357.0 841.77h1.55M172.5 860.67h1.55M31.5 870.12h1.55M205.5 870.12h1.55M301.5 870.12h1.55M330.0 870.12h1.55M136.5 879.58h1.55M196.5 879.58h1.55M225.0 879.58h1.55M247.5 879.58h1.55M258.0 879.58h1.55M264.0 879.58h1.55M268.5 879.58h1.55M280.5 879.58h1.55M283.5 879.58h1.55M313.5 879.58h1.55M325.5 879.58h1.55M327.0 879.58h1.55M331.5 879.58h1.55M352.5 879.58h1.55M361.5 879.58h1.55M106.5 889.02h1.55M121.5 889.02h1.55M220.5 889.02h1.55M228.0 889.02h1.55M243.0 889.02h1.55M301.5 889.02h1.55M313.5 889.02h1.55M330.0 889.02h1.55M361.5 889.02h1.55M121.5 898.48h1.55M247.5 898.48h1.55M295.5 907.92h1.55M316.5 907.92h1.55M330.0 907.92h1.55M340.5 907.92h1.55M342.0 907.92h1.55M354.0 907.92h1.55M292.5 917.38h1.55M301.5 917.38h1.55M321.0 917.38h1.55M361.5 917.38h1.55M199.5 926.83h1.55M240.0 926.83h1.55M244.5 926.83h1.55M249.0 926.83h1.55M250.5 926.83h1.55M262.5 926.83h1.55M279.0 926.83h1.55M286.5 926.83h1.55M330.0 926.83h1.55M358.5 926.83h1.55M256.5 936.27h1.55M261.0 936.27h1.55M273.0 936.27h1.55M286.5 936.27h1.55M301.5 936.27h1.55M304.5 936.27h1.55M342.0 936.27h1.55M208.5 945.73h1.55M231.0 945.73h1.55M250.5 945.73h1.55M256.5 945.73h1.55M265.5 945.73h1.55M279.0 945.73h1.55M319.5 945.73h1.55M339.0 945.73h1.55M360.0 945.73h1.55M235.5 955.17h1.55M277.5 955.17h1.55M280.5 955.17h1.55M319.5 955.17h1.55" stroke="#978cc4" stroke-width="9.50"/>
<path d="M37.5 737.83h1.55M84.0 737.83h1.55M183.0 737.83h1.55M205.5 737.83h1.55M31.5 747.27h1.55M45.0 747.27h1.55M49.5 747.27h1.55M69.0 747.27h1.55M139.5 747.27h1.55M160.5 747.27h1.55M162.0 747.27h1.55M166.5 747.27h1.55M183.0 747.27h1.55M184.5 747.27h1.55M33.0 756.73h1.55M40.5 756.73h1.55M45.0 756.73h1.55M48.0 756.73h1.55M60.0 756.73h1.55M67.5 756.73h1.55M73.5 756.73h1.55M103.5 756.73h1.55M159.0 756.73h1.55M37.5 766.18h1.55M63.0 766.18h1.55M88.5 766.18h1.55M94.5 766.18h1.55M102.0 766.18h1.55M160.5 766.18h1.55M205.5 766.18h1.55M286.5 766.18h1.55M301.5 766.18h1.55M30.0 775.62h1.55M31.5 775.62h1.55M37.5 775.62h1.55M103.5 775.62h1.55M130.5 775.62h1.55M319.5 775.62h1.55M342.0 775.62h1.55M346.5 775.62h1.55M30.0 785.08h1.55M103.5 785.08h1.55M129.0 785.08h1.55M181.5 785.08h1.55M37.5 794.52h1.55M60.0 794.52h1.55M63.0 794.52h1.55M64.5 794.52h1.55M73.5 794.52h1.55M87.0 794.52h1.55M91.5 794.52h1.55M102.0 794.52h1.55M112.5 794.52h1.55M136.5 794.52h1.55M150.0 794.52h1.55M177.0 794.52h1.55M252.0 794.52h1.55M51.0 803.98h1.55M75.0 803.98h1.55M111.0 803.98h1.55M133.5 803.98h1.55M142.5 803.98h1.55M156.0 803.98h1.55M165.0 803.98h1.55M45.0 813.42h1.55M67.5 813.42h1.55M76.5 813.42h1.55M85.5 813.42h1.55M94.5 813.42h1.55M120.0 813.42h1.55M124.5 813.42h1.55M133.5 813.42h1.55M147.0 813.42h1.55M162.0 813.42h1.55M169.5 813.42h1.55M217.5 813.42h1.55M282.0 813.42h1.55M283.5 813.42h1.55M34.5 822.88h1.55M37.5 822.88h1.55M67.5 822.88h1.55M85.5 822.88h1.55M87.0 822.88h1.55M91.5 822.88h1.55M93.0 822.88h1.55M118.5 822.88h1.55M121.5 822.88h1.55M135.0 822.88h1.55M147.0 822.88h1.55M169.5 822.88h1.55M223.5 822.88h1.55M241.5 822.88h1.55M249.0 822.88h1.55M321.0 822.88h1.55M354.0 822.88h1.55M183.0 832.33h1.55M319.5 832.33h1.55M321.0 832.33h1.55M349.5 832.33h1.55M354.0 832.33h1.55M358.5 832.33h1.55M39.0 841.77h1.55M90.0 841.77h1.55M280.5 841.77h1.55M151.5 851.23h1.55M172.5 851.23h1.55M183.0 851.23h1.55M361.5 851.23h1.55M183.0 860.67h1.55M321.0 860.67h1.55M348.0 860.67h1.55M199.5 870.12h1.55M232.5 870.12h1.55M244.5 870.12h1.55M291.0 870.12h1.55M306.0 870.12h1.55M160.5 879.58h1.55M205.5 879.58h1.55M214.5 879.58h1.55M228.0 879.58h1.55M297.0 879.58h1.55M357.0 879.58h1.55M52.5 889.02h1.55M60.0 889.02h1.55M97.5 889.02h1.55M100.5 889.02h1.55M214.5 889.02h1.55M219.0 889.02h1.55M229.5 889.02h1.55M238.5 889.02h1.55M249.0 889.02h1.55M261.0 889.02h1.55M294.0 889.02h1.55M300.0 889.02h1.55M352.5 889.02h1.55M198.0 907.92h1.55M237.0 907.92h1.55M283.5 907.92h1.55M121.5 917.38h1.55M240.0 917.38h1.55M274.5 917.38h1.55M280.5 917.38h1.55M300.0 917.38h1.55M312.0 917.38h1.55M316.5 917.38h1.55M319.5 917.38h1.55M328.5 917.38h1.55M216.0 926.83h1.55M256.5 926.83h1.55M274.5 926.83h1.55M298.5 926.83h1.55M345.0 926.83h1.55M357.0 926.83h1.55M78.0 936.27h1.55M198.0 936.27h1.55M223.5 936.27h1.55M244.5 936.27h1.55M250.5 936.27h1.55M252.0 936.27h1.55M283.5 936.27h1.55M291.0 936.27h1.55M306.0 936.27h1.55M313.5 936.27h1.55M210.0 945.73h1.55M258.0 945.73h1.55M262.5 945.73h1.55M274.5 945.73h1.55M351.0 945.73h1.55M222.0 955.17h1.55M249.0 955.17h1.55M262.5 955.17h1.55M274.5 955.17h1.55M310.5 955.17h1.55M349.5 955.17h1.55M352.5 955.17h1.55" stroke="#9d93c8" stroke-width="9.50"/>
<path d="M36.0 737.83h1.55M40.5 737.83h1.55M60.0 737.83h1.55M67.5 737.83h1.55M94.5 737.83h1.55M156.0 737.83h1.55M184.5 737.83h1.55M204.0 737.83h1.55M33.0 747.27h1.55M36.0 747.27h1.55M159.0 747.27h1.55M169.5 747.27h1.55M36.0 756.73h1.55M82.5 756.73h1.55M94.5 756.73h1.55M99.0 756.73h1.55M187.5 756.73h1.55M49.5 766.18h1.55M60.0 766.18h1.55M84.0 766.18h1.55M169.5 766.18h1.55M174.0 766.18h1.55M178.5 766.18h1.55M57.0 775.62h1.55M150.0 775.62h1.55M159.0 775.62h1.55M162.0 775.62h1.55M181.5 775.62h1.55M348.0 775.62h1.55M69.0 785.08h1.55M82.5 785.08h1.55M102.0 785.08h1.55M162.0 785.08h1.55M166.5 785.08h1.55M169.5 785.08h1.55M30.0 794.52h1.55M39.0 794.52h1.55M40.5 794.52h1.55M45.0 794.52h1.55M46.5 794.52h1.55M52.5 794.52h1.55M54.0 794.52h1.55M72.0 794.52h1.55M100.5 794.52h1.55M111.0 794.52h1.55M217.5 794.52h1.55M325.5 794.52h1.55M330.0 794.52h1.55M55.5 803.98h1.55M87.0 803.98h1.55M105.0 803.98h1.55M154.5 803.98h1.55M163.5 803.98h1.55M187.5 803.98h1.55M268.5 803.98h1.55M321.0 803.98h1.55M60.0 813.42h1.55M81.0 813.42h1.55M82.5 813.42h1.55M87.0 813.42h1.55M100.5 813.42h1.55M102.0 813.42h1.55M106.5 813.42h1.55M129.0 813.42h1.55M268.5 813.42h1.55M45.0 822.88h1.55M46.5 822.88h1.55M52.5 822.88h1.55M55.5 822.88h1.55M57.0 822.88h1.55M75.0 822.88h1.55M136.5 822.88h1.55M138.0 822.88h1.55M160.5 822.88h1.55M162.0 822.88h1.55M168.0 822.88h1.55M177.0 822.88h1.55M243.0 822.88h1.55M258.0 822.88h1.55M313.5 822.88h1.55M318.0 822.88h1.55M325.5 822.88h1.55M358.5 822.88h1.55M172.5 832.33h1.55M195.0 832.33h1.55M357.0 832.33h1.55M360.0 832.33h1.55M58.5 841.77h1.55M157.5 851.23h1.55M252.0 851.23h1.55M294.0 851.23h1.55M348.0 851.23h1.55M349.5 851.23h1.55M133.5 860.67h1.55M316.5 860.67h1.55M195.0 870.12h1.55M198.0 870.12h1.55M228.0 870.12h1.55M294.0 870.12h1.55M318.0 870.12h1.55M319.5 870.12h1.55M327.0 870.12h1.55M328.5 870.12h1.55M348.0 870.12h1.55M361.5 870.12h1.55M31.5 879.58h1.55M226.5 879.58h1.55M238.5 879.58h1.55M270.0 879.58h1.55M277.5 879.58h1.55M304.5 879.58h1.55M316.5 879.58h1.55M346.5 879.58h1.55M123.0 889.02h1.55M201.0 889.02h1.55M225.0 889.02h1.55M234.0 889.02h1.55M258.0 889.02h1.55M277.5 889.02h1.55M286.5 889.02h1.55M318.0 889.02h1.55M333.0 889.02h1.55M348.0 889.02h1.55M52.5 898.48h1.55M105.0 898.48h1.55M114.0 898.48h1.55M228.0 898.48h1.55M250.5 898.48h1.55M256.5 898.48h1.55M100.5 907.92h1.55M244.5 907.92h1.55M273.0 907.92h1.55M279.0 907.92h1.55M286.5 907.92h1.55M289.5 907.92h1.55M300.0 907.92h1.55M306.0 907.92h1.55M312.0 907.92h1.55M318.0 907.92h1.55M333.0 907.92h1.55M334.5 907.92h1.55M357.0 907.92h1.55M244.5 917.38h1.55M354.0 917.38h1.55M358.5 917.38h1.55M202.5 926.83h1.55M210.0 926.83h1.55M219.0 926.83h1.55M225.0 926.83h1.55M231.0 926.83h1.55M235.5 926.83h1.55M241.5 926.83h1.55M247.5 926.83h1.55M306.0 926.83h1.55M309.0 926.83h1.55M313.5 926.83h1.55M348.0 926.83h1.55M70.5 936.27h1.55M240.0 936.27h1.55M265.5 936.27h1.55M279.0 936.27h1.55M288.0 936.27h1.55M294.0 936.27h1.55M328.5 936.27h1.55M349.5 936.27h1.55M103.5 945.73h1.55M112.5 945.73h1.55M213.0 945.73h1.55M225.0 945.73h1.55M286.5 945.73h1.55M313.5 945.73h1.55M357.0 945.73h1.55M112.5 955.17h1.55M210.0 955.17h1.55M246.0 955.17h1.55M250.5 955.17h1.55M273.0 955.17h1.55M283.5 955.17h1.55M286.5 955.17h1.55M288.0 955.17h1.55M297.0 955.17h1.55M345.0 955.17h1.55" stroke="#a49acc" stroke-width="9.50"/>
<path d="M45.0 737.83h1.55M52.5 737.83h1.55M58.5 737.83h1.55M103.5 737.83h1.55M169.5 737.83h1.55M178.5 737.83h1.55M225.0 737.83h1.55M309.0 737.83h1.55M39.0 747.27h1.55M57.0 747.27h1.55M103.5 747.27h1.55M150.0 747.27h1.55M220.5 747.27h1.55M43.5 756.73h1.55M51.0 756.73h1.55M79.5 756.73h1.55M81.0 756.73h1.55M84.0 756.73h1.55M85.5 756.73h1.55M91.5 756.73h1.55M106.5 756.73h1.55M114.0 756.73h1.55M129.0 756.73h1.55M150.0 756.73h1.55M154.5 756.73h1.55M160.5 756.73h1.55M162.0 756.73h1.55M169.5 756.73h1.55M174.0 756.73h1.55M180.0 756.73h1.55M184.5 756.73h1.55M196.5 756.73h1.55M220.5 756.73h1.55M252.0 756.73h1.55M58.5 766.18h1.55M109.5 766.18h1.55M171.0 766.18h1.55M211.5 766.18h1.55M213.0 766.18h1.55M277.5 766.18h1.55M288.0 766.18h1.55M322.5 766.18h1.55M355.5 766.18h1.55M60.0 775.62h1.55M82.5 775.62h1.55M85.5 775.62h1.55M94.5 775.62h1.55M136.5 775.62h1.55M141.0 775.62h1.55M168.0 775.62h1.55M186.0 775.62h1.55M190.5 775.62h1.55M217.5 775.62h1.55M250.5 775.62h1.55M325.5 775.62h1.55M31.5 785.08h1.55M67.5 785.08h1.55M99.0 785.08h1.55M138.0 785.08h1.55M150.0 785.08h1.55M160.5 785.08h1.55M205.5 785.08h1.55M301.5 785.08h1.55M70.5 794.52h1.55M85.5 794.52h1.55M106.5 794.52h1.55M109.5 794.52h1.55M127.5 794.52h1.55M354.0 794.52h1.55M39.0 803.98h1.55M42.0 803.98h1.55M57.0 803.98h1.55M63.0 803.98h1.55M64.5 803.98h1.55M91.5 803.98h1.55M103.5 803.98h1.55M108.0 803.98h1.55M135.0 803.98h1.55M157.5 803.98h1.55M171.0 803.98h1.55M217.5 803.98h1.55M241.5 803.98h1.55M252.0 803.98h1.55M262.5 803.98h1.55M33.0 813.42h1.55M39.0 813.42h1.55M40.5 813.42h1.55M61.5 813.42h1.55M75.0 813.42h1.55M91.5 813.42h1.55M139.5 813.42h1.55M141.0 813.42h1.55M150.0 813.42h1.55M151.5 813.42h1.55M154.5 813.42h1.55M231.0 813.42h1.55M237.0 813.42h1.55M262.5 813.42h1.55M325.5 813.42h1.55M61.5 822.88h1.55M64.5 822.88h1.55M114.0 822.88h1.55M141.0 822.88h1.55M144.0 822.88h1.55M148.5 822.88h1.55M153.0 822.88h1.55M283.5 822.88h1.55M307.5 822.88h1.55M328.5 822.88h1.55M333.0 822.88h1.55M157.5 832.33h1.55M175.5 832.33h1.55M333.0 832.33h1.55M348.0 832.33h1.55M132.0 841.77h1.55M136.5 841.77h1.55M145.5 841.77h1.55M187.5 841.77h1.55M195.0 841.77h1.55M225.0 841.77h1.55M141.0 851.23h1.55M150.0 851.23h1.55M181.5 851.23h1.55M187.5 851.23h1.55M319.5 851.23h1.55M325.5 851.23h1.55M337.5 851.23h1.55M127.5 860.67h1.55M157.5 860.67h1.55M195.0 860.67h1.55M277.5 860.67h1.55M300.0 860.67h1.55M349.5 860.67h1.55M357.0 860.67h1.55M360.0 860.67h1.55M84.0 870.12h1.55M123.0 870.12h1.55M196.5 870.12h1.55M220.5 870.12h1.55M240.0 870.12h1.55M249.0 870.12h1.55M100.5 879.58h1.55M105.0 879.58h1.55M135.0 879.58h1.55M240.0 879.58h1.55M249.0 879.58h1.55M315.0 879.58h1.55M337.5 879.58h1.55M360.0 879.58h1.55M66.0 889.02h1.55M114.0 889.02h1.55M216.0 889.02h1.55M226.5 889.02h1.55M264.0 889.02h1.55M327.0 889.02h1.55M328.5 889.02h1.55M342.0 889.02h1.55M78.0 898.48h1.55M90.0 898.48h1.55M97.5 898.48h1.55M199.5 898.48h1.55M213.0 898.48h1.55M361.5 898.48h1.55M63.0 907.92h1.55M69.0 907.92h1.55M190.5 907.92h1.55M196.5 907.92h1.55M210.0 907.92h1.55M220.5 907.92h1.55M222.0 907.92h1.55M229.5 907.92h1.55M294.0 907.92h1.55M319.5 907.92h1.55M358.5 907.92h1.55M94.5 917.38h1.55M105.0 917.38h1.55M232.5 917.38h1.55M273.0 917.38h1.55M286.5 917.38h1.55M294.0 917.38h1.55M310.5 917.38h1.55M315.0 917.38h1.55M325.5 917.38h1.55M70.5 926.83h1.55M201.0 926.83h1.55M207.0 926.83h1.55M211.5 926.83h1.55M213.0 926.83h1.55M238.5 926.83h1.55M258.0 926.83h1.55M261.0 926.83h1.55M265.5 926.83h1.55M271.5 926.83h1.55M291.0 926.83h1.55M39.0 936.27h1.55M63.0 936.27h1.55M201.0 936.27h1.55M246.0 936.27h1.55M249.0 936.27h1.55M271.5 936.27h1.55M274.5 936.27h1.55M280.5 936.27h1.55M282.0 936.27h1.55M289.5 936.27h1.55M297.0 936.27h1.55M351.0 936.27h1.55M360.0 936.27h1.55M121.5 945.73h1.55M166.5 945.73h1.55M240.0 945.73h1.55M247.5 945.73h1.55M255.0 945.73h1.55M283.5 945.73h1.55M328.5 945.73h1.55M358.5 945.73h1.55M196.5 955.17h1.55M217.5 955.17h1.55M258.0 955.17h1.55M259.5 955.17h1.55M261.0 955.17h1.55M282.0 955.17h1.55M285.0 955.17h1.55M333.0 955.17h1.55" stroke="#aaa0d0" stroke-width="9.50"/>
<path d="M42.0 737.83h1.55M48.0 737.83h1.55M75.0 737.83h1.55M79.5 737.83h1.55M81.0 737.83h1.55M129.0 737.83h1.55M166.5 737.83h1.55M174.0 737.83h1.55M201.0 737.83h1.55M213.0 737.83h1.55M301.5 737.83h1.55M102.0 747.27h1.55M168.0 747.27h1.55M174.0 747.27h1.55M211.5 747.27h1.55M297.0 747.27h1.55M31.5 756.73h1.55M58.5 756.73h1.55M100.5 756.73h1.55M111.0 756.73h1.55M228.0 756.73h1.55M286.5 756.73h1.55M309.0 756.73h1.55M348.0 756.73h1.55M33.0 766.18h1.55M55.5 766.18h1.55M67.5 766.18h1.55M78.0 766.18h1.55M150.0 766.18h1.55M159.0 766.18h1.55M166.5 766.18h1.55M187.5 766.18h1.55M190.5 766.18h1.55M193.5 766.18h1.55M225.0 766.18h1.55M313.5 766.18h1.55M345.0 766.18h1.55M34.5 775.62h1.55M67.5 775.62h1.55M109.5 775.62h1.55M123.0 775.62h1.55M124.5 775.62h1.55M138.0 775.62h1.55M156.0 775.62h1.55M157.5 775.62h1.55M184.5 775.62h1.55M205.5 775.62h1.55M211.5 775.62h1.55M241.5 775.62h1.55M246.0 775.62h1.55M249.0 775.62h1.55M309.0 775.62h1.55M345.0 775.62h1.55M357.0 775.62h1.55M40.5 785.08h1.55M43.5 785.08h1.55M45.0 785.08h1.55M48.0 785.08h1.55M78.0 785.08h1.55M88.5 785.08h1.55M196.5 785.08h1.55M252.0 785.08h1.55M48.0 794.52h1.55M117.0 794.52h1.55M129.0 794.52h1.55M130.5 794.52h1.55M135.0 794.52h1.55M141.0 794.52h1.55M171.0 794.52h1.55M184.5 794.52h1.55M258.0 794.52h1.55M315.0 794.52h1.55M61.5 803.98h1.55M117.0 803.98h1.55M136.5 803.98h1.55M151.5 803.98h1.55M153.0 803.98h1.55M186.0 803.98h1.55M258.0 803.98h1.55M297.0 803.98h1.55M36.0 813.42h1.55M46.5 813.42h1.55M51.0 813.42h1.55M78.0 813.42h1.55M88.5 813.42h1.55M97.5 813.42h1.55M108.0 813.42h1.55M114.0 813.42h1.55M115.5 813.42h1.55M123.0 813.42h1.55M136.5 813.42h1.55M153.0 813.42h1.55M157.5 813.42h1.55M178.5 813.42h1.55M264.0 813.42h1.55M289.5 813.42h1.55M43.5 822.88h1.55M58.5 822.88h1.55M73.5 822.88h1.55M84.0 822.88h1.55M96.0 822.88h1.55M99.0 822.88h1.55M106.5 822.88h1.55M115.5 822.88h1.55M117.0 822.88h1.55M166.5 822.88h1.55M171.0 822.88h1.55M234.0 822.88h1.55M255.0 822.88h1.55M268.5 822.88h1.55M277.5 822.88h1.55M286.5 822.88h1.55M298.5 822.88h1.55M306.0 822.88h1.55M225.0 832.33h1.55M325.5 832.33h1.55M328.5 832.33h1.55M361.5 832.33h1.55M69.0 841.77h1.55M120.0 841.77h1.55M231.0 841.77h1.55M148.5 851.23h1.55M159.0 851.23h1.55M163.5 851.23h1.55M168.0 851.23h1.55M175.5 851.23h1.55M178.5 851.23h1.55M195.0 851.23h1.55M300.0 851.23h1.55M309.0 851.23h1.55M321.0 851.23h1.55M360.0 851.23h1.55M39.0 860.67h1.55M58.5 860.67h1.55M280.5 860.67h1.55M325.5 860.67h1.55M355.5 860.67h1.55M48.0 870.12h1.55M49.5 870.12h1.55M51.0 870.12h1.55M58.5 870.12h1.55M94.5 870.12h1.55M114.0 870.12h1.55M157.5 870.12h1.55M193.5 870.12h1.55M211.5 870.12h1.55M216.0 870.12h1.55M225.0 870.12h1.55M229.5 870.12h1.55M247.5 870.12h1.55M258.0 870.12h1.55M264.0 870.12h1.55M268.5 870.12h1.55M277.5 870.12h1.55M312.0 870.12h1.55M331.5 870.12h1.55M333.0 870.12h1.55M52.5 879.58h1.55M123.0 879.58h1.55M124.5 879.58h1.55M141.0 879.58h1.55M192.0 879.58h1.55M208.5 879.58h1.55M210.0 879.58h1.55M291.0 879.58h1.55M295.5 879.58h1.55M300.0 879.58h1.55M319.5 879.58h1.55M321.0 879.58h1.55M322.5 879.58h1.55M328.5 879.58h1.55M339.0 879.58h1.55M340.5 879.58h1.55M342.0 879.58h1.55M345.0 879.58h1.55M37.5 889.02h1.55M91.5 889.02h1.55M120.0 889.02h1.55M136.5 889.02h1.55M193.5 889.02h1.55M210.0 889.02h1.55M222.0 889.02h1.55M240.0 889.02h1.55M255.0 889.02h1.55M259.5 889.02h1.55M273.0 889.02h1.55M283.5 889.02h1.55M325.5 889.02h1.55M331.5 889.02h1.55M339.0 889.02h1.55M346.5 889.02h1.55M31.5 898.48h1.55M123.0 898.48h1.55M204.0 898.48h1.55M214.5 898.48h1.55M220.5 898.48h1.55M243.0 898.48h1.55M258.0 898.48h1.55M306.0 898.48h1.55M31.5 907.92h1.55M52.5 907.92h1.55M78.0 907.92h1.55M163.5 907.92h1.55M219.0 907.92h1.55M225.0 907.92h1.55M226.5 907.92h1.55M234.0 907.92h1.55M238.5 907.92h1.55M258.0 907.92h1.55M274.5 907.92h1.55M304.5 907.92h1.55M315.0 907.92h1.55M331.5 907.92h1.55M156.0 917.38h1.55M163.5 917.38h1.55M199.5 917.38h1.55M220.5 917.38h1.55M243.0 917.38h1.55M249.0 917.38h1.55M252.0 917.38h1.55M289.5 917.38h1.55M295.5 917.38h1.55M304.5 917.38h1.55M307.5 917.38h1.55M313.5 917.38h1.55M340.5 917.38h1.55M345.0 917.38h1.55M348.0 917.38h1.55M357.0 917.38h1.55M360.0 917.38h1.55M85.5 926.83h1.55M217.5 926.83h1.55M234.0 926.83h1.55M273.0 926.83h1.55M282.0 926.83h1.55M283.5 926.83h1.55M285.0 926.83h1.55M303.0 926.83h1.55M325.5 926.83h1.55M339.0 926.83h1.55M199.5 936.27h1.55M225.0 936.27h1.55M231.0 936.27h1.55M243.0 936.27h1.55M247.5 936.27h1.55M264.0 936.27h1.55M312.0 936.27h1.55M319.5 936.27h1.55M327.0 936.27h1.55M333.0 936.27h1.55M78.0 945.73h1.55M111.0 945.73h1.55M129.0 945.73h1.55M133.5 945.73h1.55M198.0 945.73h1.55M199.5 945.73h1.55M207.0 945.73h1.55M211.5 945.73h1.55M238.5 945.73h1.55M261.0 945.73h1.55M288.0 945.73h1.55M291.0 945.73h1.55M318.0 945.73h1.55M349.5 945.73h1.55M63.0 955.17h1.55M195.0 955.17h1.55M207.0 955.17h1.55M223.5 955.17h1.55M232.5 955.17h1.55M240.0 955.17h1.55M241.5 955.17h1.55M243.0 955.17h1.55M244.5 955.17h1.55M294.0 955.17h1.55M304.5 955.17h1.55M306.0 955.17h1.55M318.0 955.17h1.55M328.5 955.17h1.55M342.0 955.17h1.55" stroke="#b0a7d4" stroke-width="9.50"/>
<path d="M72.0 737.83h1.55M78.0 737.83h1.55M151.5 737.83h1.55M186.0 737.83h1.55M210.0 737.83h1.55M222.0 737.83h1.55M228.0 737.83h1.55M34.5 747.27h1.55M42.0 747.27h1.55M118.5 747.27h1.55M262.5 747.27h1.55M348.0 747.27h1.55M97.5 756.73h1.55M108.0 756.73h1.55M109.5 756.73h1.55M112.5 756.73h1.55M183.0 756.73h1.55M211.5 756.73h1.55M300.0 756.73h1.55M48.0 766.18h1.55M72.0 766.18h1.55M91.5 766.18h1.55M108.0 766.18h1.55M114.0 766.18h1.55M139.5 766.18h1.55M175.5 766.18h1.55M186.0 766.18h1.55M204.0 766.18h1.55M264.0 766.18h1.55M270.0 766.18h1.55M309.0 766.18h1.55M337.5 766.18h1.55M75.0 775.62h1.55M84.0 775.62h1.55M88.5 775.62h1.55M108.0 775.62h1.55M115.5 775.62h1.55M153.0 775.62h1.55M175.5 775.62h1.55M214.5 775.62h1.55M318.0 775.62h1.55M327.0 775.62h1.55M60.0 785.08h1.55M63.0 785.08h1.55M73.5 785.08h1.55M123.0 785.08h1.55M193.5 785.08h1.55M33.0 794.52h1.55M81.0 794.52h1.55M108.0 794.52h1.55M151.5 794.52h1.55M169.5 794.52h1.55M186.0 794.52h1.55M189.0 794.52h1.55M291.0 794.52h1.55M319.5 794.52h1.55M361.5 794.52h1.55M33.0 803.98h1.55M43.5 803.98h1.55M48.0 803.98h1.55M60.0 803.98h1.55M76.5 803.98h1.55M78.0 803.98h1.55M112.5 803.98h1.55M126.0 803.98h1.55M168.0 803.98h1.55M240.0 803.98h1.55M243.0 803.98h1.55M354.0 803.98h1.55M30.0 813.42h1.55M57.0 813.42h1.55M64.5 813.42h1.55M138.0 813.42h1.55M165.0 813.42h1.55M199.5 813.42h1.55M234.0 813.42h1.55M276.0 813.42h1.55M277.5 813.42h1.55M297.0 813.42h1.55M354.0 813.42h1.55M60.0 822.88h1.55M72.0 822.88h1.55M108.0 822.88h1.55M142.5 822.88h1.55M145.5 822.88h1.55M154.5 822.88h1.55M172.5 822.88h1.55M184.5 822.88h1.55M195.0 822.88h1.55M222.0 822.88h1.55M324.0 822.88h1.55M327.0 822.88h1.55M111.0 832.33h1.55M133.5 832.33h1.55M145.5 832.33h1.55M147.0 832.33h1.55M163.5 832.33h1.55M168.0 832.33h1.55M177.0 832.33h1.55M184.5 832.33h1.55M193.5 832.33h1.55M300.0 832.33h1.55M345.0 832.33h1.55M351.0 832.33h1.55M355.5 832.33h1.55M168.0 841.77h1.55M184.5 841.77h1.55M193.5 841.77h1.55M301.5 841.77h1.55M345.0 841.77h1.55M360.0 841.77h1.55M138.0 851.23h1.55M165.0 851.23h1.55M193.5 851.23h1.55M250.5 851.23h1.55M322.5 851.23h1.55M150.0 860.67h1.55M255.0 860.67h1.55M270.0 860.67h1.55M273.0 860.67h1.55M307.5 860.67h1.55M313.5 860.67h1.55M333.0 860.67h1.55M339.0 860.67h1.55M42.0 870.12h1.55M60.0 870.12h1.55M63.0 870.12h1.55M91.5 870.12h1.55M97.5 870.12h1.55M105.0 870.12h1.55M117.0 870.12h1.55M126.0 870.12h1.55M204.0 870.12h1.55M226.5 870.12h1.55M237.0 870.12h1.55M261.0 870.12h1.55M276.0 870.12h1.55M279.0 870.12h1.55M300.0 870.12h1.55M321.0 870.12h1.55M337.5 870.12h1.55M357.0 870.12h1.55M49.5 879.58h1.55M58.5 879.58h1.55M60.0 879.58h1.55M103.5 879.58h1.55M109.5 879.58h1.55M157.5 879.58h1.55M162.0 879.58h1.55M198.0 879.58h1.55M234.0 879.58h1.55M255.0 879.58h1.55M298.5 879.58h1.55M324.0 879.58h1.55M330.0 879.58h1.55M67.5 889.02h1.55M90.0 889.02h1.55M105.0 889.02h1.55M109.5 889.02h1.55M118.5 889.02h1.55M124.5 889.02h1.55M156.0 889.02h1.55M231.0 889.02h1.55M274.5 889.02h1.55M276.0 889.02h1.55M295.5 889.02h1.55M307.5 889.02h1.55M316.5 889.02h1.55M351.0 889.02h1.55M355.5 889.02h1.55M60.0 898.48h1.55M63.0 898.48h1.55M94.5 898.48h1.55M112.5 898.48h1.55M120.0 898.48h1.55M133.5 898.48h1.55M229.5 898.48h1.55M319.5 898.48h1.55M340.5 898.48h1.55M48.0 907.92h1.55M60.0 907.92h1.55M118.5 907.92h1.55M121.5 907.92h1.55M214.5 907.92h1.55M243.0 907.92h1.55M249.0 907.92h1.55M255.0 907.92h1.55M277.5 907.92h1.55M313.5 907.92h1.55M348.0 907.92h1.55M352.5 907.92h1.55M69.0 917.38h1.55M205.5 917.38h1.55M229.5 917.38h1.55M253.5 917.38h1.55M258.0 917.38h1.55M318.0 917.38h1.55M336.0 917.38h1.55M103.5 926.83h1.55M222.0 926.83h1.55M253.5 926.83h1.55M319.5 926.83h1.55M328.5 926.83h1.55M333.0 926.83h1.55M349.5 926.83h1.55M352.5 926.83h1.55M94.5 936.27h1.55M219.0 936.27h1.55M226.5 936.27h1.55M232.5 936.27h1.55M241.5 936.27h1.55M255.0 936.27h1.55M322.5 936.27h1.55M324.0 936.27h1.55M339.0 936.27h1.55M340.5 936.27h1.55M343.5 936.27h1.55M354.0 936.27h1.55M61.5 945.73h1.55M70.5 945.73h1.55M100.5 945.73h1.55M102.0 945.73h1.55M195.0 945.73h1.55M216.0 945.73h1.55M219.0 945.73h1.55M222.0 945.73h1.55M232.5 945.73h1.55M241.5 945.73h1.55M246.0 945.73h1.55M264.0 945.73h1.55M273.0 945.73h1.55M301.5 945.73h1.55M303.0 945.73h1.55M304.5 945.73h1.55M307.5 945.73h1.55M309.0 945.73h1.55M321.0 945.73h1.55M337.5 945.73h1.55M340.5 945.73h1.55M342.0 945.73h1.55M346.5 945.73h1.55M39.0 955.17h1.55M201.0 955.17h1.55M208.5 955.17h1.55M231.0 955.17h1.55M247.5 955.17h1.55M313.5 955.17h1.55M316.5 955.17h1.55M325.5 955.17h1.55M340.5 955.17h1.55M348.0 955.17h1.55M351.0 955.17h1.55M354.0 955.17h1.55" stroke="#b9b1d8" stroke-width="9.50"/>
<path d="M51.0 737.83h1.55M54.0 737.83h1.55M102.0 737.83h1.55M138.0 737.83h1.55M147.0 737.83h1.55M153.0 737.83h1.55M171.0 737.83h1.55M207.0 737.83h1.55M220.5 737.83h1.55M226.5 737.83h1.55M294.0 737.83h1.55M94.5 747.27h1.55M165.0 747.27h1.55M171.0 747.27h1.55M175.5 747.27h1.55M181.5 747.27h1.55M196.5 747.27h1.55M309.0 747.27h1.55M52.5 756.73h1.55M55.5 756.73h1.55M64.5 756.73h1.55M75.0 756.73h1.55M126.0 756.73h1.55M130.5 756.73h1.55M132.0 756.73h1.55M193.5 756.73h1.55M208.5 756.73h1.55M232.5 756.73h1.55M262.5 756.73h1.55M70.5 766.18h1.55M79.5 766.18h1.55M82.5 766.18h1.55M138.0 766.18h1.55M157.5 766.18h1.55M181.5 766.18h1.55M201.0 766.18h1.55M228.0 766.18h1.55M231.0 766.18h1.55M249.0 766.18h1.55M261.0 766.18h1.55M262.5 766.18h1.55M267.0 766.18h1.55M276.0 766.18h1.55M283.5 766.18h1.55M319.5 766.18h1.55M36.0 775.62h1.55M42.0 775.62h1.55M43.5 775.62h1.55M45.0 775.62h1.55M90.0 775.62h1.55M105.0 775.62h1.55M139.5 775.62h1.55M144.0 775.62h1.55M147.0 775.62h1.55M163.5 775.62h1.55M165.0 775.62h1.55M208.5 775.62h1.55M216.0 775.62h1.55M222.0 775.62h1.55M244.5 775.62h1.55M355.5 775.62h1.55M33.0 785.08h1.55M75.0 785.08h1.55M85.5 785.08h1.55M90.0 785.08h1.55M109.5 785.08h1.55M114.0 785.08h1.55M132.0 785.08h1.55M172.5 785.08h1.55M211.5 785.08h1.55M270.0 785.08h1.55M274.5 785.08h1.55M312.0 785.08h1.55M57.0 794.52h1.55M84.0 794.52h1.55M93.0 794.52h1.55M103.5 794.52h1.55M105.0 794.52h1.55M123.0 794.52h1.55M160.5 794.52h1.55M162.0 794.52h1.55M241.5 794.52h1.55M256.5 794.52h1.55M259.5 794.52h1.55M268.5 794.52h1.55M321.0 794.52h1.55M348.0 794.52h1.55M45.0 803.98h1.55M46.5 803.98h1.55M88.5 803.98h1.55M99.0 803.98h1.55M132.0 803.98h1.55M144.0 803.98h1.55M259.5 803.98h1.55M283.5 803.98h1.55M361.5 803.98h1.55M48.0 813.42h1.55M58.5 813.42h1.55M109.5 813.42h1.55M112.5 813.42h1.55M135.0 813.42h1.55M171.0 813.42h1.55M213.0 813.42h1.55M240.0 813.42h1.55M241.5 813.42h1.55M243.0 813.42h1.55M259.5 813.42h1.55M358.5 813.42h1.55M109.5 822.88h1.55M126.0 822.88h1.55M139.5 822.88h1.55M165.0 822.88h1.55M186.0 822.88h1.55M211.5 822.88h1.55M229.5 822.88h1.55M238.5 822.88h1.55M282.0 822.88h1.55M297.0 822.88h1.55M58.5 832.33h1.55M153.0 832.33h1.55M162.0 832.33h1.55M214.5 832.33h1.55M318.0 832.33h1.55M331.5 832.33h1.55M342.0 832.33h1.55M352.5 832.33h1.55M144.0 841.77h1.55M147.0 841.77h1.55M252.0 841.77h1.55M282.0 841.77h1.55M315.0 841.77h1.55M348.0 841.77h1.55M67.5 851.23h1.55M79.5 851.23h1.55M85.5 851.23h1.55M133.5 851.23h1.55M136.5 851.23h1.55M177.0 851.23h1.55M184.5 851.23h1.55M196.5 851.23h1.55M225.0 851.23h1.55M289.5 851.23h1.55M304.5 851.23h1.55M324.0 851.23h1.55M336.0 851.23h1.55M351.0 851.23h1.55M60.0 860.67h1.55M79.5 860.67h1.55M87.0 860.67h1.55M159.0 860.67h1.55M162.0 860.67h1.55M178.5 860.67h1.55M328.5 860.67h1.55M337.5 860.67h1.55M340.5 860.67h1.55M342.0 860.67h1.55M346.5 860.67h1.55M61.5 870.12h1.55M75.0 870.12h1.55M93.0 870.12h1.55M120.0 870.12h1.55M121.5 870.12h1.55M160.5 870.12h1.55M201.0 870.12h1.55M208.5 870.12h1.55M210.0 870.12h1.55M219.0 870.12h1.55M222.0 870.12h1.55M243.0 870.12h1.55M271.5 870.12h1.55M274.5 870.12h1.55M352.5 870.12h1.55M48.0 879.58h1.55M94.5 879.58h1.55M97.5 879.58h1.55M99.0 879.58h1.55M121.5 879.58h1.55M207.0 879.58h1.55M211.5 879.58h1.55M231.0 879.58h1.55M243.0 879.58h1.55M276.0 879.58h1.55M288.0 879.58h1.55M289.5 879.58h1.55M309.0 879.58h1.55M312.0 879.58h1.55M333.0 879.58h1.55M334.5 879.58h1.55M355.5 879.58h1.55M358.5 879.58h1.55M55.5 889.02h1.55M58.5 889.02h1.55M108.0 889.02h1.55M129.0 889.02h1.55M187.5 889.02h1.55M190.5 889.02h1.55M211.5 889.02h1.55M270.0 889.02h1.55M279.0 889.02h1.55M310.5 889.02h1.55M315.0 889.02h1.55M349.5 889.02h1.55M79.5 898.48h1.55M88.5 898.48h1.55M102.0 898.48h1.55M136.5 898.48h1.55M141.0 898.48h1.55M193.5 898.48h1.55M235.5 898.48h1.55M244.5 898.48h1.55M277.5 898.48h1.55M318.0 898.48h1.55M330.0 898.48h1.55M58.5 907.92h1.55M105.0 907.92h1.55M160.5 907.92h1.55M252.0 907.92h1.55M276.0 907.92h1.55M280.5 907.92h1.55M309.0 907.92h1.55M322.5 907.92h1.55M31.5 917.38h1.55M97.5 917.38h1.55M178.5 917.38h1.55M198.0 917.38h1.55M255.0 917.38h1.55M297.0 917.38h1.55M334.5 917.38h1.55M339.0 917.38h1.55M351.0 917.38h1.55M144.0 926.83h1.55M196.5 926.83h1.55M208.5 926.83h1.55M246.0 926.83h1.55M267.0 926.83h1.55M295.5 926.83h1.55M321.0 926.83h1.55M342.0 926.83h1.55M343.5 926.83h1.55M360.0 926.83h1.55M61.5 936.27h1.55M268.5 936.27h1.55M300.0 936.27h1.55M345.0 936.27h1.55M361.5 936.27h1.55M39.0 945.73h1.55M63.0 945.73h1.55M72.0 945.73h1.55M196.5 945.73h1.55M229.5 945.73h1.55M234.0 945.73h1.55M243.0 945.73h1.55M325.5 945.73h1.55M327.0 945.73h1.55M70.5 955.17h1.55M100.5 955.17h1.55M115.5 955.17h1.55M193.5 955.17h1.55M216.0 955.17h1.55M226.5 955.17h1.55M229.5 955.17h1.55M256.5 955.17h1.55M265.5 955.17h1.55M291.0 955.17h1.55M312.0 955.17h1.55M330.0 955.17h1.55M337.5 955.17h1.55" stroke="#c3bcdd" stroke-width="9.50"/>
<path d="M43.5 737.83h1.55M55.5 737.83h1.55M70.5 737.83h1.55M88.5 737.83h1.55M172.5 737.83h1.55M175.5 737.83h1.55M252.0 737.83h1.55M259.5 737.83h1.55M264.0 737.83h1.55M48.0 747.27h1.55M91.5 747.27h1.55M99.0 747.27h1.55M129.0 747.27h1.55M144.0 747.27h1.55M151.5 747.27h1.55M157.5 747.27h1.55M177.0 747.27h1.55M186.0 747.27h1.55M193.5 747.27h1.55M214.5 747.27h1.55M225.0 747.27h1.55M271.5 747.27h1.55M319.5 747.27h1.55M42.0 756.73h1.55M46.5 756.73h1.55M88.5 756.73h1.55M90.0 756.73h1.55M127.5 756.73h1.55M177.0 756.73h1.55M214.5 756.73h1.55M277.5 756.73h1.55M306.0 756.73h1.55M43.5 766.18h1.55M45.0 766.18h1.55M97.5 766.18h1.55M130.5 766.18h1.55M268.5 766.18h1.55M282.0 766.18h1.55M325.5 766.18h1.55M339.0 766.18h1.55M361.5 766.18h1.55M48.0 775.62h1.55M63.0 775.62h1.55M78.0 775.62h1.55M91.5 775.62h1.55M112.5 775.62h1.55M118.5 775.62h1.55M133.5 775.62h1.55M183.0 775.62h1.55M189.0 775.62h1.55M199.5 775.62h1.55M202.5 775.62h1.55M204.0 775.62h1.55M213.0 775.62h1.55M231.0 775.62h1.55M262.5 775.62h1.55M322.5 775.62h1.55M34.5 785.08h1.55M54.0 785.08h1.55M97.5 785.08h1.55M106.5 785.08h1.55M108.0 785.08h1.55M133.5 785.08h1.55M159.0 785.08h1.55M322.5 785.08h1.55M357.0 785.08h1.55M43.5 794.52h1.55M49.5 794.52h1.55M75.0 794.52h1.55M78.0 794.52h1.55M144.0 794.52h1.55M148.5 794.52h1.55M157.5 794.52h1.55M223.5 794.52h1.55M234.0 794.52h1.55M264.0 794.52h1.55M274.5 794.52h1.55M279.0 794.52h1.55M318.0 794.52h1.55M58.5 803.98h1.55M81.0 803.98h1.55M109.5 803.98h1.55M114.0 803.98h1.55M115.5 803.98h1.55M139.5 803.98h1.55M148.5 803.98h1.55M178.5 803.98h1.55M199.5 803.98h1.55M223.5 803.98h1.55M318.0 803.98h1.55M93.0 813.42h1.55M126.0 813.42h1.55M142.5 813.42h1.55M222.0 813.42h1.55M232.5 813.42h1.55M256.5 813.42h1.55M291.0 813.42h1.55M321.0 813.42h1.55M33.0 822.88h1.55M49.5 822.88h1.55M132.0 822.88h1.55M159.0 822.88h1.55M237.0 822.88h1.55M247.5 822.88h1.55M259.5 822.88h1.55M310.5 822.88h1.55M330.0 822.88h1.55M336.0 822.88h1.55M337.5 822.88h1.55M345.0 822.88h1.55M348.0 822.88h1.55M352.5 822.88h1.55M112.5 832.33h1.55M120.0 832.33h1.55M187.5 832.33h1.55M232.5 832.33h1.55M291.0 832.33h1.55M294.0 832.33h1.55M334.5 832.33h1.55M343.5 832.33h1.55M60.0 841.77h1.55M75.0 841.77h1.55M76.5 841.77h1.55M78.0 841.77h1.55M112.5 841.77h1.55M127.5 841.77h1.55M150.0 841.77h1.55M157.5 841.77h1.55M213.0 841.77h1.55M306.0 841.77h1.55M321.0 841.77h1.55M322.5 841.77h1.55M126.0 851.23h1.55M154.5 851.23h1.55M169.5 851.23h1.55M189.0 851.23h1.55M208.5 851.23h1.55M237.0 851.23h1.55M262.5 851.23h1.55M333.0 851.23h1.55M339.0 851.23h1.55M346.5 851.23h1.55M129.0 860.67h1.55M147.0 860.67h1.55M153.0 860.67h1.55M154.5 860.67h1.55M168.0 860.67h1.55M169.5 860.67h1.55M184.5 860.67h1.55M291.0 860.67h1.55M312.0 860.67h1.55M354.0 860.67h1.55M33.0 870.12h1.55M40.5 870.12h1.55M43.5 870.12h1.55M66.0 870.12h1.55M70.5 870.12h1.55M90.0 870.12h1.55M100.5 870.12h1.55M129.0 870.12h1.55M280.5 870.12h1.55M286.5 870.12h1.55M289.5 870.12h1.55M304.5 870.12h1.55M310.5 870.12h1.55M322.5 870.12h1.55M339.0 870.12h1.55M358.5 870.12h1.55M33.0 879.58h1.55M69.0 879.58h1.55M70.5 879.58h1.55M129.0 879.58h1.55M138.0 879.58h1.55M199.5 879.58h1.55M202.5 879.58h1.55M213.0 879.58h1.55M216.0 879.58h1.55M219.0 879.58h1.55M229.5 879.58h1.55M237.0 879.58h1.55M259.5 879.58h1.55M262.5 879.58h1.55M273.0 879.58h1.55M285.0 879.58h1.55M286.5 879.58h1.55M307.5 879.58h1.55M45.0 889.02h1.55M160.5 889.02h1.55M199.5 889.02h1.55M262.5 889.02h1.55M292.5 889.02h1.55M298.5 889.02h1.55M324.0 889.02h1.55M334.5 889.02h1.55M360.0 889.02h1.55M48.0 898.48h1.55M76.5 898.48h1.55M109.5 898.48h1.55M129.0 898.48h1.55M142.5 898.48h1.55M205.5 898.48h1.55M226.5 898.48h1.55M249.0 898.48h1.55M264.0 898.48h1.55M268.5 898.48h1.55M333.0 898.48h1.55M70.5 907.92h1.55M94.5 907.92h1.55M124.5 907.92h1.55M133.5 907.92h1.55M135.0 907.92h1.55M147.0 907.92h1.55M195.0 907.92h1.55M285.0 907.92h1.55M321.0 907.92h1.55M343.5 907.92h1.55M345.0 907.92h1.55M346.5 907.92h1.55M355.5 907.92h1.55M48.0 917.38h1.55M63.0 917.38h1.55M100.5 917.38h1.55M136.5 917.38h1.55M160.5 917.38h1.55M213.0 917.38h1.55M214.5 917.38h1.55M226.5 917.38h1.55M228.0 917.38h1.55M279.0 917.38h1.55M283.5 917.38h1.55M331.5 917.38h1.55M337.5 917.38h1.55M355.5 917.38h1.55M243.0 926.83h1.55M255.0 926.83h1.55M270.0 926.83h1.55M289.5 926.83h1.55M292.5 926.83h1.55M361.5 926.83h1.55M72.0 936.27h1.55M165.0 936.27h1.55M196.5 936.27h1.55M208.5 936.27h1.55M213.0 936.27h1.55M222.0 936.27h1.55M229.5 936.27h1.55M303.0 936.27h1.55M307.5 936.27h1.55M330.0 936.27h1.55M58.5 945.73h1.55M88.5 945.73h1.55M115.5 945.73h1.55M117.0 945.73h1.55M226.5 945.73h1.55M300.0 945.73h1.55M322.5 945.73h1.55M333.0 945.73h1.55M343.5 945.73h1.55M348.0 945.73h1.55M352.5 945.73h1.55M354.0 945.73h1.55M361.5 945.73h1.55M69.0 955.17h1.55M103.5 955.17h1.55M129.0 955.17h1.55M181.5 955.17h1.55M264.0 955.17h1.55M307.5 955.17h1.55M327.0 955.17h1.55" stroke="#cec7e3" stroke-width="9.50"/>
<path d="M93.0 737.83h1.55M99.0 737.83h1.55M139.5 737.83h1.55M198.0 737.83h1.55M288.0 737.83h1.55M106.5 747.27h1.55M147.0 747.27h1.55M156.0 747.27h1.55M207.0 747.27h1.55M304.5 747.27h1.55M355.5 747.27h1.55M54.0 756.73h1.55M70.5 756.73h1.55M136.5 756.73h1.55M271.5 756.73h1.55M31.5 766.18h1.55M141.0 766.18h1.55M165.0 766.18h1.55M219.0 766.18h1.55M220.5 766.18h1.55M255.0 766.18h1.55M312.0 766.18h1.55M318.0 766.18h1.55M351.0 766.18h1.55M358.5 766.18h1.55M46.5 775.62h1.55M51.0 775.62h1.55M52.5 775.62h1.55M111.0 775.62h1.55M120.0 775.62h1.55M132.0 775.62h1.55M180.0 775.62h1.55M192.0 775.62h1.55M198.0 775.62h1.55M258.0 775.62h1.55M264.0 775.62h1.55M361.5 775.62h1.55M81.0 785.08h1.55M93.0 785.08h1.55M127.5 785.08h1.55M139.5 785.08h1.55M141.0 785.08h1.55M148.5 785.08h1.55M177.0 785.08h1.55M178.5 785.08h1.55M187.5 785.08h1.55M220.5 785.08h1.55M249.0 785.08h1.55M277.5 785.08h1.55M348.0 785.08h1.55M58.5 794.52h1.55M99.0 794.52h1.55M121.5 794.52h1.55M199.5 794.52h1.55M262.5 794.52h1.55M297.0 794.52h1.55M328.5 794.52h1.55M49.5 803.98h1.55M84.0 803.98h1.55M106.5 803.98h1.55M123.0 803.98h1.55M249.0 803.98h1.55M271.5 803.98h1.55M274.5 803.98h1.55M277.5 803.98h1.55M279.0 803.98h1.55M49.5 813.42h1.55M84.0 813.42h1.55M96.0 813.42h1.55M130.5 813.42h1.55M132.0 813.42h1.55M238.5 813.42h1.55M249.0 813.42h1.55M270.0 813.42h1.55M286.5 813.42h1.55M361.5 813.42h1.55M48.0 822.88h1.55M103.5 822.88h1.55M105.0 822.88h1.55M112.5 822.88h1.55M174.0 822.88h1.55M205.5 822.88h1.55M210.0 822.88h1.55M225.0 822.88h1.55M228.0 822.88h1.55M231.0 822.88h1.55M246.0 822.88h1.55M322.5 822.88h1.55M342.0 822.88h1.55M181.5 832.33h1.55M213.0 832.33h1.55M220.5 832.33h1.55M280.5 832.33h1.55M286.5 832.33h1.55M322.5 832.33h1.55M33.0 841.77h1.55M82.5 841.77h1.55M130.5 841.77h1.55M141.0 841.77h1.55M148.5 841.77h1.55M228.0 841.77h1.55M237.0 841.77h1.55M309.0 841.77h1.55M316.5 841.77h1.55M337.5 841.77h1.55M39.0 851.23h1.55M147.0 851.23h1.55M291.0 851.23h1.55M177.0 860.67h1.55M267.0 860.67h1.55M343.5 860.67h1.55M358.5 860.67h1.55M361.5 860.67h1.55M30.0 870.12h1.55M46.5 870.12h1.55M78.0 870.12h1.55M156.0 870.12h1.55M214.5 870.12h1.55M234.0 870.12h1.55M252.0 870.12h1.55M256.5 870.12h1.55M259.5 870.12h1.55M262.5 870.12h1.55M283.5 870.12h1.55M292.5 870.12h1.55M340.5 870.12h1.55M345.0 870.12h1.55M355.5 870.12h1.55M96.0 879.58h1.55M106.5 879.58h1.55M117.0 879.58h1.55M142.5 879.58h1.55M201.0 879.58h1.55M252.0 879.58h1.55M282.0 879.58h1.55M48.0 889.02h1.55M63.0 889.02h1.55M69.0 889.02h1.55M93.0 889.02h1.55M99.0 889.02h1.55M126.0 889.02h1.55M135.0 889.02h1.55M204.0 889.02h1.55M207.0 889.02h1.55M235.5 889.02h1.55M321.0 889.02h1.55M58.5 898.48h1.55M67.5 898.48h1.55M93.0 898.48h1.55M103.5 898.48h1.55M115.5 898.48h1.55M201.0 898.48h1.55M252.0 898.48h1.55M283.5 898.48h1.55M297.0 898.48h1.55M354.0 898.48h1.55M49.5 907.92h1.55M93.0 907.92h1.55M141.0 907.92h1.55M157.5 907.92h1.55M178.5 907.92h1.55M199.5 907.92h1.55M246.0 907.92h1.55M253.5 907.92h1.55M298.5 907.92h1.55M328.5 907.92h1.55M339.0 907.92h1.55M49.5 917.38h1.55M52.5 917.38h1.55M91.5 917.38h1.55M109.5 917.38h1.55M133.5 917.38h1.55M165.0 917.38h1.55M276.0 917.38h1.55M282.0 917.38h1.55M309.0 917.38h1.55M346.5 917.38h1.55M73.5 926.83h1.55M198.0 926.83h1.55M226.5 926.83h1.55M288.0 926.83h1.55M304.5 926.83h1.55M75.0 936.27h1.55M88.5 936.27h1.55M102.0 936.27h1.55M135.0 936.27h1.55M154.5 936.27h1.55M156.0 936.27h1.55M193.5 936.27h1.55M346.5 936.27h1.55M157.5 945.73h1.55M165.0 945.73h1.55M181.5 945.73h1.55M202.5 945.73h1.55M267.0 945.73h1.55M324.0 945.73h1.55M345.0 945.73h1.55M108.0 955.17h1.55M109.5 955.17h1.55M114.0 955.17h1.55M178.5 955.17h1.55M211.5 955.17h1.55M238.5 955.17h1.55M255.0 955.17h1.55M322.5 955.17h1.55M324.0 955.17h1.55" stroke="#d8d2e8" stroke-width="9.50"/>
<path d="M39.0 737.83h1.55M66.0 737.83h1.55M168.0 737.83h1.55M241.5 737.83h1.55M277.5 737.83h1.55M130.5 747.27h1.55M163.5 747.27h1.55M213.0 747.27h1.55M222.0 747.27h1.55M282.0 747.27h1.55M118.5 756.73h1.55M139.5 756.73h1.55M165.0 756.73h1.55M205.5 756.73h1.55M222.0 756.73h1.55M226.5 756.73h1.55M285.0 756.73h1.55M297.0 756.73h1.55M327.0 756.73h1.55M342.0 756.73h1.55M34.5 766.18h1.55M42.0 766.18h1.55M66.0 766.18h1.55M81.0 766.18h1.55M90.0 766.18h1.55M96.0 766.18h1.55M133.5 766.18h1.55M192.0 766.18h1.55M226.5 766.18h1.55M243.0 766.18h1.55M271.5 766.18h1.55M307.5 766.18h1.55M327.0 766.18h1.55M121.5 775.62h1.55M171.0 775.62h1.55M339.0 775.62h1.55M52.5 785.08h1.55M79.5 785.08h1.55M112.5 785.08h1.55M165.0 785.08h1.55M174.0 785.08h1.55M250.5 785.08h1.55M297.0 785.08h1.55M309.0 785.08h1.55M339.0 785.08h1.55M355.5 785.08h1.55M114.0 794.52h1.55M147.0 794.52h1.55M153.0 794.52h1.55M195.0 794.52h1.55M226.5 794.52h1.55M280.5 794.52h1.55M289.5 794.52h1.55M337.5 794.52h1.55M342.0 794.52h1.55M345.0 794.52h1.55M358.5 794.52h1.55M138.0 803.98h1.55M172.5 803.98h1.55M256.5 803.98h1.55M288.0 803.98h1.55M298.5 803.98h1.55M306.0 803.98h1.55M313.5 803.98h1.55M63.0 813.42h1.55M72.0 813.42h1.55M117.0 813.42h1.55M280.5 813.42h1.55M288.0 813.42h1.55M331.5 813.42h1.55M357.0 813.42h1.55M97.5 822.88h1.55M180.0 822.88h1.55M214.5 822.88h1.55M217.5 822.88h1.55M261.0 822.88h1.55M292.5 822.88h1.55M331.5 822.88h1.55M349.5 822.88h1.55M39.0 832.33h1.55M73.5 832.33h1.55M144.0 832.33h1.55M154.5 832.33h1.55M180.0 832.33h1.55M211.5 832.33h1.55M226.5 832.33h1.55M301.5 832.33h1.55M324.0 832.33h1.55M340.5 832.33h1.55M37.5 841.77h1.55M67.5 841.77h1.55M163.5 841.77h1.55M189.0 841.77h1.55M201.0 841.77h1.55M220.5 841.77h1.55M286.5 841.77h1.55M339.0 841.77h1.55M340.5 841.77h1.55M355.5 841.77h1.55M69.0 851.23h1.55M238.5 851.23h1.55M244.5 851.23h1.55M280.5 851.23h1.55M310.5 851.23h1.55M316.5 851.23h1.55M69.0 860.67h1.55M78.0 860.67h1.55M111.0 860.67h1.55M193.5 860.67h1.55M225.0 860.67h1.55M252.0 860.67h1.55M334.5 860.67h1.55M96.0 870.12h1.55M99.0 870.12h1.55M106.5 870.12h1.55M136.5 870.12h1.55M187.5 870.12h1.55M273.0 870.12h1.55M307.5 870.12h1.55M63.0 879.58h1.55M193.5 879.58h1.55M111.0 889.02h1.55M133.5 889.02h1.55M141.0 889.02h1.55M178.5 889.02h1.55M198.0 889.02h1.55M252.0 889.02h1.55M253.5 889.02h1.55M337.5 889.02h1.55M358.5 889.02h1.55M75.0 898.48h1.55M127.5 898.48h1.55M198.0 898.48h1.55M222.0 898.48h1.55M238.5 898.48h1.55M262.5 898.48h1.55M313.5 898.48h1.55M357.0 898.48h1.55M88.5 907.92h1.55M106.5 907.92h1.55M109.5 907.92h1.55M148.5 907.92h1.55M204.0 907.92h1.55M325.5 907.92h1.55M114.0 917.38h1.55M181.5 917.38h1.55M204.0 917.38h1.55M210.0 917.38h1.55M342.0 917.38h1.55M58.5 926.83h1.55M82.5 926.83h1.55M88.5 926.83h1.55M354.0 926.83h1.55M76.5 936.27h1.55M93.0 936.27h1.55M117.0 936.27h1.55M238.5 936.27h1.55M267.0 936.27h1.55M285.0 936.27h1.55M325.5 936.27h1.55M337.5 936.27h1.55M352.5 936.27h1.55M355.5 936.27h1.55M60.0 945.73h1.55M114.0 945.73h1.55M144.0 945.73h1.55M154.5 945.73h1.55M292.5 945.73h1.55M306.0 945.73h1.55M330.0 945.73h1.55M78.0 955.17h1.55M166.5 955.17h1.55M198.0 955.17h1.55M253.5 955.17h1.55M279.0 955.17h1.55M343.5 955.17h1.55M360.0 955.17h1.55" stroke="#e4dfed" stroke-width="9.50"/>
<path d="M133.5 737.83h1.55M163.5 737.83h1.55M132.0 747.27h1.55M274.5 747.27h1.55M39.0 756.73h1.55M63.0 756.73h1.55M138.0 756.73h1.55M276.0 756.73h1.55M361.5 756.73h1.55M144.0 766.18h1.55M147.0 766.18h1.55M172.5 766.18h1.55M300.0 766.18h1.55M310.5 766.18h1.55M348.0 766.18h1.55M72.0 775.62h1.55M126.0 775.62h1.55M151.5 775.62h1.55M177.0 775.62h1.55M193.5 775.62h1.55M136.5 785.08h1.55M144.0 785.08h1.55M180.0 785.08h1.55M285.0 785.08h1.55M96.0 794.52h1.55M126.0 794.52h1.55M132.0 794.52h1.55M168.0 794.52h1.55M336.0 794.52h1.55M346.5 794.52h1.55M73.5 803.98h1.55M145.5 803.98h1.55M147.0 803.98h1.55M279.0 813.42h1.55M306.0 813.42h1.55M318.0 813.42h1.55M328.5 813.42h1.55M330.0 813.42h1.55M196.5 822.88h1.55M226.5 822.88h1.55M60.0 832.33h1.55M87.0 832.33h1.55M111.0 841.77h1.55M288.0 841.77h1.55M294.0 841.77h1.55M132.0 851.23h1.55M162.0 851.23h1.55M334.5 851.23h1.55M294.0 860.67h1.55M318.0 860.67h1.55M324.0 860.67h1.55M45.0 870.12h1.55M88.5 870.12h1.55M313.5 870.12h1.55M66.0 879.58h1.55M67.5 879.58h1.55M217.5 879.58h1.55M244.5 879.58h1.55M265.5 879.58h1.55M42.0 889.02h1.55M61.5 889.02h1.55M70.5 889.02h1.55M75.0 889.02h1.55M103.5 889.02h1.55M132.0 889.02h1.55M237.0 889.02h1.55M241.5 889.02h1.55M309.0 889.02h1.55M312.0 889.02h1.55M66.0 898.48h1.55M267.0 898.48h1.55M291.0 898.48h1.55M300.0 898.48h1.55M327.0 898.48h1.55M342.0 898.48h1.55M151.5 907.92h1.55M156.0 907.92h1.55M193.5 907.92h1.55M241.5 907.92h1.55M184.5 917.38h1.55M190.5 917.38h1.55M196.5 917.38h1.55M225.0 917.38h1.55M238.5 917.38h1.55M69.0 926.83h1.55M96.0 926.83h1.55M268.5 926.83h1.55M355.5 926.83h1.55M180.0 936.27h1.55M204.0 936.27h1.55M153.0 945.73h1.55M253.5 945.73h1.55M270.0 945.73h1.55M48.0 955.17h1.55M72.0 955.17h1.55M174.0 955.17h1.55M270.0 955.17h1.55" stroke="#f2eef2" stroke-width="9.50"/>
<path d="M64.5 737.83h1.55M165.0 737.83h1.55M231.0 737.83h1.55M262.5 737.83h1.55M273.0 737.83h1.55M342.0 737.83h1.55M108.0 747.27h1.55M126.0 747.27h1.55M286.5 747.27h1.55M301.5 747.27h1.55M342.0 747.27h1.55M72.0 756.73h1.55M178.5 756.73h1.55M186.0 756.73h1.55M204.0 756.73h1.55M216.0 756.73h1.55M355.5 756.73h1.55M30.0 766.18h1.55M51.0 766.18h1.55M54.0 766.18h1.55M85.5 766.18h1.55M87.0 766.18h1.55M112.5 766.18h1.55M151.5 766.18h1.55M153.0 766.18h1.55M156.0 766.18h1.55M177.0 766.18h1.55M196.5 766.18h1.55M315.0 766.18h1.55M342.0 766.18h1.55M195.0 775.62h1.55M277.5 775.62h1.55M51.0 785.08h1.55M66.0 785.08h1.55M72.0 785.08h1.55M126.0 785.08h1.55M130.5 785.08h1.55M225.0 785.08h1.55M228.0 785.08h1.55M115.5 794.52h1.55M174.0 794.52h1.55M178.5 794.52h1.55M282.0 794.52h1.55M333.0 794.52h1.55M349.5 794.52h1.55M174.0 803.98h1.55M175.5 803.98h1.55M190.5 803.98h1.55M99.0 813.42h1.55M180.0 813.42h1.55M228.0 813.42h1.55M258.0 813.42h1.55M274.5 813.42h1.55M301.5 813.42h1.55M348.0 813.42h1.55M349.5 813.42h1.55M78.0 822.88h1.55M157.5 822.88h1.55M189.0 822.88h1.55M274.5 822.88h1.55M288.0 822.88h1.55M315.0 822.88h1.55M357.0 822.88h1.55M57.0 832.33h1.55M160.5 832.33h1.55M169.5 832.33h1.55M276.0 832.33h1.55M57.0 841.77h1.55M79.5 841.77h1.55M159.0 841.77h1.55M160.5 841.77h1.55M162.0 841.77h1.55M181.5 841.77h1.55M186.0 841.77h1.55M318.0 841.77h1.55M343.5 841.77h1.55M358.5 841.77h1.55M58.5 851.23h1.55M60.0 851.23h1.55M127.5 851.23h1.55M214.5 851.23h1.55M259.5 851.23h1.55M270.0 851.23h1.55M277.5 851.23h1.55M279.0 851.23h1.55M354.0 851.23h1.55M57.0 860.67h1.55M181.5 860.67h1.55M189.0 860.67h1.55M214.5 860.67h1.55M232.5 860.67h1.55M253.5 860.67h1.55M259.5 860.67h1.55M261.0 860.67h1.55M301.5 860.67h1.55M345.0 860.67h1.55M351.0 860.67h1.55M34.5 870.12h1.55M39.0 870.12h1.55M102.0 870.12h1.55M124.5 870.12h1.55M162.0 870.12h1.55M184.5 870.12h1.55M190.5 870.12h1.55M238.5 870.12h1.55M253.5 870.12h1.55M265.5 870.12h1.55M342.0 870.12h1.55M354.0 870.12h1.55M36.0 879.58h1.55M55.5 879.58h1.55M111.0 879.58h1.55M126.0 879.58h1.55M139.5 879.58h1.55M204.0 879.58h1.55M253.5 879.58h1.55M279.0 879.58h1.55M49.5 889.02h1.55M73.5 889.02h1.55M88.5 889.02h1.55M102.0 889.02h1.55M139.5 889.02h1.55M166.5 889.02h1.55M285.0 889.02h1.55M297.0 889.02h1.55M33.0 898.48h1.55M106.5 898.48h1.55M117.0 898.48h1.55M160.5 898.48h1.55M192.0 898.48h1.55M210.0 898.48h1.55M234.0 898.48h1.55M286.5 898.48h1.55M348.0 898.48h1.55M360.0 898.48h1.55M136.5 907.92h1.55M169.5 907.92h1.55M187.5 907.92h1.55M349.5 907.92h1.55M43.5 917.38h1.55M88.5 917.38h1.55M96.0 917.38h1.55M130.5 917.38h1.55M234.0 917.38h1.55M324.0 917.38h1.55M100.5 926.83h1.55M114.0 926.83h1.55M147.0 926.83h1.55M181.5 926.83h1.55M322.5 926.83h1.55M324.0 926.83h1.55M327.0 926.83h1.55M337.5 926.83h1.55M48.0 936.27h1.55M82.5 936.27h1.55M295.5 936.27h1.55M321.0 936.27h1.55M358.5 936.27h1.55M73.5 945.73h1.55M82.5 945.73h1.55M190.5 945.73h1.55M310.5 945.73h1.55M52.5 955.17h1.55M64.5 955.17h1.55M79.5 955.17h1.55M117.0 955.17h1.55M132.0 955.17h1.55M147.0 955.17h1.55M295.5 955.17h1.55M339.0 955.17h1.55" stroke="#f5e3de" stroke-width="9.50"/>
<path d="M100.5 737.83h1.55M180.0 737.83h1.55M190.5 737.83h1.55M202.5 737.83h1.55M216.0 737.83h1.55M283.5 737.83h1.55M285.0 737.83h1.55M286.5 737.83h1.55M297.0 737.83h1.55M348.0 737.83h1.55M361.5 737.83h1.55M43.5 747.27h1.55M67.5 747.27h1.55M75.0 747.27h1.55M82.5 747.27h1.55M90.0 747.27h1.55M136.5 747.27h1.55M138.0 747.27h1.55M172.5 747.27h1.55M235.5 747.27h1.55M252.0 747.27h1.55M270.0 747.27h1.55M78.0 756.73h1.55M121.5 756.73h1.55M147.0 756.73h1.55M264.0 756.73h1.55M268.5 756.73h1.55M301.5 756.73h1.55M357.0 756.73h1.55M52.5 766.18h1.55M132.0 766.18h1.55M136.5 766.18h1.55M214.5 766.18h1.55M217.5 766.18h1.55M222.0 766.18h1.55M253.5 766.18h1.55M298.5 766.18h1.55M306.0 766.18h1.55M100.5 775.62h1.55M201.0 775.62h1.55M243.0 775.62h1.55M313.5 775.62h1.55M58.5 785.08h1.55M91.5 785.08h1.55M96.0 785.08h1.55M100.5 785.08h1.55M151.5 785.08h1.55M157.5 785.08h1.55M163.5 785.08h1.55M183.0 785.08h1.55M222.0 785.08h1.55M243.0 785.08h1.55M205.5 794.52h1.55M225.0 794.52h1.55M327.0 794.52h1.55M72.0 803.98h1.55M205.5 803.98h1.55M211.5 803.98h1.55M276.0 803.98h1.55M319.5 803.98h1.55M144.0 813.42h1.55M172.5 813.42h1.55M229.5 813.42h1.55M324.0 813.42h1.55M337.5 813.42h1.55M163.5 822.88h1.55M213.0 822.88h1.55M280.5 822.88h1.55M294.0 822.88h1.55M48.0 832.33h1.55M67.5 832.33h1.55M174.0 832.33h1.55M178.5 832.33h1.55M223.5 832.33h1.55M277.5 832.33h1.55M97.5 841.77h1.55M169.5 841.77h1.55M196.5 841.77h1.55M226.5 841.77h1.55M273.0 841.77h1.55M295.5 841.77h1.55M300.0 841.77h1.55M346.5 841.77h1.55M354.0 841.77h1.55M361.5 841.77h1.55M57.0 851.23h1.55M61.5 851.23h1.55M72.0 851.23h1.55M144.0 851.23h1.55M153.0 851.23h1.55M166.5 851.23h1.55M213.0 851.23h1.55M222.0 851.23h1.55M265.5 851.23h1.55M307.5 851.23h1.55M63.0 860.67h1.55M73.5 860.67h1.55M156.0 860.67h1.55M166.5 860.67h1.55M228.0 860.67h1.55M238.5 860.67h1.55M256.5 860.67h1.55M265.5 860.67h1.55M283.5 860.67h1.55M289.5 860.67h1.55M322.5 860.67h1.55M331.5 860.67h1.55M336.0 860.67h1.55M37.5 870.12h1.55M57.0 870.12h1.55M73.5 870.12h1.55M79.5 870.12h1.55M112.5 870.12h1.55M115.5 870.12h1.55M118.5 870.12h1.55M133.5 870.12h1.55M163.5 870.12h1.55M166.5 870.12h1.55M213.0 870.12h1.55M231.0 870.12h1.55M270.0 870.12h1.55M288.0 870.12h1.55M360.0 870.12h1.55M88.5 879.58h1.55M108.0 879.58h1.55M115.5 879.58h1.55M133.5 879.58h1.55M151.5 879.58h1.55M163.5 879.58h1.55M169.5 879.58h1.55M190.5 879.58h1.55M222.0 879.58h1.55M246.0 879.58h1.55M336.0 879.58h1.55M351.0 879.58h1.55M30.0 889.02h1.55M76.5 889.02h1.55M78.0 889.02h1.55M81.0 889.02h1.55M147.0 889.02h1.55M148.5 889.02h1.55M181.5 889.02h1.55M196.5 889.02h1.55M202.5 889.02h1.55M223.5 889.02h1.55M280.5 889.02h1.55M289.5 889.02h1.55M37.5 898.48h1.55M57.0 898.48h1.55M69.0 898.48h1.55M96.0 898.48h1.55M118.5 898.48h1.55M157.5 898.48h1.55M240.0 898.48h1.55M270.0 898.48h1.55M295.5 898.48h1.55M321.0 898.48h1.55M334.5 898.48h1.55M339.0 898.48h1.55M97.5 907.92h1.55M165.0 907.92h1.55M181.5 907.92h1.55M307.5 907.92h1.55M310.5 907.92h1.55M78.0 917.38h1.55M135.0 917.38h1.55M138.0 917.38h1.55M166.5 917.38h1.55M169.5 917.38h1.55M298.5 917.38h1.55M333.0 917.38h1.55M349.5 917.38h1.55M352.5 917.38h1.55M78.0 926.83h1.55M135.0 926.83h1.55M180.0 926.83h1.55M312.0 926.83h1.55M340.5 926.83h1.55M40.5 936.27h1.55M55.5 936.27h1.55M60.0 936.27h1.55M64.5 936.27h1.55M112.5 936.27h1.55M114.0 936.27h1.55M123.0 936.27h1.55M168.0 936.27h1.55M186.0 936.27h1.55M292.5 936.27h1.55M331.5 936.27h1.55M69.0 945.73h1.55M132.0 945.73h1.55M147.0 945.73h1.55M156.0 945.73h1.55M162.0 945.73h1.55M177.0 945.73h1.55M201.0 945.73h1.55M285.0 945.73h1.55M312.0 945.73h1.55M355.5 945.73h1.55M58.5 955.17h1.55M75.0 955.17h1.55M121.5 955.17h1.55M148.5 955.17h1.55M331.5 955.17h1.55" stroke="#f7d7cc" stroke-width="9.50"/>
<path d="M46.5 737.83h1.55M61.5 737.83h1.55M76.5 737.83h1.55M91.5 737.83h1.55M97.5 737.83h1.55M132.0 737.83h1.55M136.5 737.83h1.55M148.5 737.83h1.55M195.0 737.83h1.55M219.0 737.83h1.55M238.5 737.83h1.55M249.0 737.83h1.55M51.0 747.27h1.55M73.5 747.27h1.55M105.0 747.27h1.55M114.0 747.27h1.55M141.0 747.27h1.55M180.0 747.27h1.55M201.0 747.27h1.55M204.0 747.27h1.55M219.0 747.27h1.55M240.0 747.27h1.55M273.0 747.27h1.55M277.5 747.27h1.55M283.5 747.27h1.55M307.5 747.27h1.55M313.5 747.27h1.55M339.0 747.27h1.55M34.5 756.73h1.55M105.0 756.73h1.55M141.0 756.73h1.55M192.0 756.73h1.55M198.0 756.73h1.55M210.0 756.73h1.55M213.0 756.73h1.55M255.0 756.73h1.55M282.0 756.73h1.55M312.0 756.73h1.55M339.0 756.73h1.55M346.5 756.73h1.55M36.0 766.18h1.55M61.5 766.18h1.55M105.0 766.18h1.55M111.0 766.18h1.55M118.5 766.18h1.55M180.0 766.18h1.55M279.0 766.18h1.55M280.5 766.18h1.55M295.5 766.18h1.55M331.5 766.18h1.55M343.5 766.18h1.55M357.0 766.18h1.55M66.0 775.62h1.55M96.0 775.62h1.55M127.5 775.62h1.55M135.0 775.62h1.55M145.5 775.62h1.55M148.5 775.62h1.55M207.0 775.62h1.55M220.5 775.62h1.55M235.5 775.62h1.55M238.5 775.62h1.55M256.5 775.62h1.55M259.5 775.62h1.55M297.0 775.62h1.55M301.5 775.62h1.55M358.5 775.62h1.55M39.0 785.08h1.55M42.0 785.08h1.55M55.5 785.08h1.55M105.0 785.08h1.55M115.5 785.08h1.55M207.0 785.08h1.55M253.5 785.08h1.55M255.0 785.08h1.55M264.0 785.08h1.55M283.5 785.08h1.55M306.0 785.08h1.55M190.5 794.52h1.55M198.0 794.52h1.55M210.0 794.52h1.55M211.5 794.52h1.55M243.0 794.52h1.55M247.5 794.52h1.55M283.5 794.52h1.55M306.0 794.52h1.55M324.0 794.52h1.55M331.5 794.52h1.55M355.5 794.52h1.55M96.0 803.98h1.55M237.0 803.98h1.55M289.5 803.98h1.55M295.5 803.98h1.55M324.0 803.98h1.55M325.5 803.98h1.55M352.5 803.98h1.55M43.5 813.42h1.55M207.0 813.42h1.55M352.5 813.42h1.55M130.5 822.88h1.55M219.0 822.88h1.55M250.5 822.88h1.55M264.0 822.88h1.55M295.5 822.88h1.55M355.5 822.88h1.55M78.0 832.33h1.55M115.5 832.33h1.55M124.5 832.33h1.55M142.5 832.33h1.55M148.5 832.33h1.55M150.0 832.33h1.55M186.0 832.33h1.55M196.5 832.33h1.55M201.0 832.33h1.55M219.0 832.33h1.55M231.0 832.33h1.55M237.0 832.33h1.55M250.5 832.33h1.55M252.0 832.33h1.55M282.0 832.33h1.55M315.0 832.33h1.55M336.0 832.33h1.55M49.5 841.77h1.55M61.5 841.77h1.55M63.0 841.77h1.55M87.0 841.77h1.55M135.0 841.77h1.55M156.0 841.77h1.55M165.0 841.77h1.55M174.0 841.77h1.55M177.0 841.77h1.55M214.5 841.77h1.55M229.5 841.77h1.55M232.5 841.77h1.55M238.5 841.77h1.55M285.0 841.77h1.55M303.0 841.77h1.55M325.5 841.77h1.55M327.0 841.77h1.55M328.5 841.77h1.55M333.0 841.77h1.55M352.5 841.77h1.55M63.0 851.23h1.55M87.0 851.23h1.55M111.0 851.23h1.55M211.5 851.23h1.55M246.0 851.23h1.55M253.5 851.23h1.55M256.5 851.23h1.55M286.5 851.23h1.55M288.0 851.23h1.55M295.5 851.23h1.55M318.0 851.23h1.55M330.0 851.23h1.55M67.5 860.67h1.55M142.5 860.67h1.55M148.5 860.67h1.55M160.5 860.67h1.55M208.5 860.67h1.55M352.5 860.67h1.55M36.0 870.12h1.55M67.5 870.12h1.55M85.5 870.12h1.55M87.0 870.12h1.55M109.5 870.12h1.55M111.0 870.12h1.55M174.0 870.12h1.55M178.5 870.12h1.55M235.5 870.12h1.55M255.0 870.12h1.55M267.0 870.12h1.55M298.5 870.12h1.55M316.5 870.12h1.55M349.5 870.12h1.55M76.5 879.58h1.55M78.0 879.58h1.55M85.5 879.58h1.55M127.5 879.58h1.55M156.0 879.58h1.55M166.5 879.58h1.55M178.5 879.58h1.55M271.5 879.58h1.55M36.0 889.02h1.55M43.5 889.02h1.55M72.0 889.02h1.55M79.5 889.02h1.55M82.5 889.02h1.55M94.5 889.02h1.55M96.0 889.02h1.55M115.5 889.02h1.55M163.5 889.02h1.55M192.0 889.02h1.55M213.0 889.02h1.55M291.0 889.02h1.55M61.5 898.48h1.55M70.5 898.48h1.55M91.5 898.48h1.55M126.0 898.48h1.55M216.0 898.48h1.55M219.0 898.48h1.55M225.0 898.48h1.55M237.0 898.48h1.55M274.5 898.48h1.55M294.0 898.48h1.55M298.5 898.48h1.55M304.5 898.48h1.55M309.0 898.48h1.55M315.0 898.48h1.55M331.5 898.48h1.55M358.5 898.48h1.55M33.0 907.92h1.55M76.5 907.92h1.55M115.5 907.92h1.55M171.0 907.92h1.55M174.0 907.92h1.55M201.0 907.92h1.55M231.0 907.92h1.55M288.0 907.92h1.55M324.0 907.92h1.55M360.0 907.92h1.55M60.0 917.38h1.55M118.5 917.38h1.55M129.0 917.38h1.55M157.5 917.38h1.55M193.5 917.38h1.55M246.0 917.38h1.55M322.5 917.38h1.55M39.0 926.83h1.55M61.5 926.83h1.55M64.5 926.83h1.55M79.5 926.83h1.55M112.5 926.83h1.55M121.5 926.83h1.55M187.5 926.83h1.55M294.0 926.83h1.55M316.5 926.83h1.55M31.5 936.27h1.55M69.0 936.27h1.55M96.0 936.27h1.55M133.5 936.27h1.55M136.5 936.27h1.55M157.5 936.27h1.55M162.0 936.27h1.55M181.5 936.27h1.55M270.0 936.27h1.55M315.0 936.27h1.55M127.5 945.73h1.55M135.0 945.73h1.55M168.0 945.73h1.55M193.5 945.73h1.55M204.0 945.73h1.55M294.0 945.73h1.55M94.5 955.17h1.55M105.0 955.17h1.55M177.0 955.17h1.55M234.0 955.17h1.55M267.0 955.17h1.55M300.0 955.17h1.55M321.0 955.17h1.55M358.5 955.17h1.55M361.5 955.17h1.55" stroke="#f6ccbd" stroke-width="9.50"/>
<path d="M85.5 737.83h1.55M87.0 737.83h1.55M144.0 737.83h1.55M177.0 737.83h1.55M208.5 737.83h1.55M217.5 737.83h1.55M280.5 737.83h1.55M325.5 737.83h1.55M54.0 747.27h1.55M55.5 747.27h1.55M63.0 747.27h1.55M88.5 747.27h1.55M195.0 747.27h1.55M199.5 747.27h1.55M205.5 747.27h1.55M228.0 747.27h1.55M264.0 747.27h1.55M285.0 747.27h1.55M357.0 747.27h1.55M360.0 747.27h1.55M61.5 756.73h1.55M87.0 756.73h1.55M96.0 756.73h1.55M120.0 756.73h1.55M144.0 756.73h1.55M151.5 756.73h1.55M171.0 756.73h1.55M195.0 756.73h1.55M207.0 756.73h1.55M217.5 756.73h1.55M231.0 756.73h1.55M267.0 756.73h1.55M273.0 756.73h1.55M274.5 756.73h1.55M340.5 756.73h1.55M358.5 756.73h1.55M39.0 766.18h1.55M124.5 766.18h1.55M145.5 766.18h1.55M148.5 766.18h1.55M168.0 766.18h1.55M202.5 766.18h1.55M210.0 766.18h1.55M252.0 766.18h1.55M258.0 766.18h1.55M292.5 766.18h1.55M330.0 766.18h1.55M340.5 766.18h1.55M64.5 775.62h1.55M87.0 775.62h1.55M93.0 775.62h1.55M97.5 775.62h1.55M117.0 775.62h1.55M232.5 775.62h1.55M270.0 775.62h1.55M273.0 775.62h1.55M274.5 775.62h1.55M330.0 775.62h1.55M343.5 775.62h1.55M142.5 785.08h1.55M147.0 785.08h1.55M201.0 785.08h1.55M213.0 785.08h1.55M231.0 785.08h1.55M241.5 785.08h1.55M267.0 785.08h1.55M282.0 785.08h1.55M286.5 785.08h1.55M316.5 785.08h1.55M319.5 785.08h1.55M142.5 794.52h1.55M232.5 794.52h1.55M301.5 794.52h1.55M307.5 794.52h1.55M343.5 794.52h1.55M357.0 794.52h1.55M130.5 803.98h1.55M159.0 803.98h1.55M166.5 803.98h1.55M177.0 803.98h1.55M180.0 803.98h1.55M232.5 803.98h1.55M238.5 803.98h1.55M280.5 803.98h1.55M282.0 803.98h1.55M328.5 803.98h1.55M145.5 813.42h1.55M156.0 813.42h1.55M175.5 813.42h1.55M205.5 813.42h1.55M208.5 813.42h1.55M211.5 813.42h1.55M214.5 813.42h1.55M220.5 813.42h1.55M235.5 813.42h1.55M246.0 813.42h1.55M247.5 813.42h1.55M294.0 813.42h1.55M307.5 813.42h1.55M319.5 813.42h1.55M336.0 813.42h1.55M208.5 822.88h1.55M279.0 822.88h1.55M301.5 822.88h1.55M343.5 822.88h1.55M31.5 832.33h1.55M33.0 832.33h1.55M51.0 832.33h1.55M61.5 832.33h1.55M75.0 832.33h1.55M79.5 832.33h1.55M81.0 832.33h1.55M127.5 832.33h1.55M129.0 832.33h1.55M132.0 832.33h1.55M138.0 832.33h1.55M156.0 832.33h1.55M228.0 832.33h1.55M234.0 832.33h1.55M238.5 832.33h1.55M270.0 832.33h1.55M273.0 832.33h1.55M285.0 832.33h1.55M309.0 832.33h1.55M316.5 832.33h1.55M45.0 841.77h1.55M66.0 841.77h1.55M115.5 841.77h1.55M250.5 841.77h1.55M270.0 841.77h1.55M271.5 841.77h1.55M283.5 841.77h1.55M120.0 851.23h1.55M135.0 851.23h1.55M156.0 851.23h1.55M160.5 851.23h1.55M180.0 851.23h1.55M186.0 851.23h1.55M219.0 851.23h1.55M226.5 851.23h1.55M228.0 851.23h1.55M247.5 851.23h1.55M249.0 851.23h1.55M255.0 851.23h1.55M276.0 851.23h1.55M282.0 851.23h1.55M342.0 851.23h1.55M355.5 851.23h1.55M30.0 860.67h1.55M61.5 860.67h1.55M115.5 860.67h1.55M145.5 860.67h1.55M201.0 860.67h1.55M220.5 860.67h1.55M226.5 860.67h1.55M250.5 860.67h1.55M279.0 860.67h1.55M288.0 860.67h1.55M81.0 870.12h1.55M103.5 870.12h1.55M127.5 870.12h1.55M141.0 870.12h1.55M169.5 870.12h1.55M207.0 870.12h1.55M346.5 870.12h1.55M351.0 870.12h1.55M42.0 879.58h1.55M57.0 879.58h1.55M72.0 879.58h1.55M73.5 879.58h1.55M75.0 879.58h1.55M79.5 879.58h1.55M90.0 879.58h1.55M114.0 879.58h1.55M144.0 879.58h1.55M145.5 879.58h1.55M150.0 879.58h1.55M153.0 879.58h1.55M154.5 879.58h1.55M172.5 879.58h1.55M187.5 879.58h1.55M195.0 879.58h1.55M261.0 879.58h1.55M267.0 879.58h1.55M310.5 879.58h1.55M343.5 879.58h1.55M349.5 879.58h1.55M33.0 889.02h1.55M84.0 889.02h1.55M117.0 889.02h1.55M144.0 889.02h1.55M151.5 889.02h1.55M208.5 889.02h1.55M246.0 889.02h1.55M267.0 889.02h1.55M304.5 889.02h1.55M343.5 889.02h1.55M36.0 898.48h1.55M72.0 898.48h1.55M85.5 898.48h1.55M144.0 898.48h1.55M154.5 898.48h1.55M156.0 898.48h1.55M307.5 898.48h1.55M312.0 898.48h1.55M325.5 898.48h1.55M328.5 898.48h1.55M352.5 898.48h1.55M102.0 907.92h1.55M103.5 907.92h1.55M145.5 907.92h1.55M166.5 907.92h1.55M192.0 907.92h1.55M205.5 907.92h1.55M216.0 907.92h1.55M30.0 917.38h1.55M79.5 917.38h1.55M84.0 917.38h1.55M111.0 917.38h1.55M124.5 917.38h1.55M126.0 917.38h1.55M168.0 917.38h1.55M183.0 917.38h1.55M192.0 917.38h1.55M201.0 917.38h1.55M235.5 917.38h1.55M237.0 917.38h1.55M303.0 917.38h1.55M343.5 917.38h1.55M76.5 926.83h1.55M94.5 926.83h1.55M133.5 926.83h1.55M148.5 926.83h1.55M154.5 926.83h1.55M162.0 926.83h1.55M165.0 926.83h1.55M166.5 926.83h1.55M174.0 926.83h1.55M177.0 926.83h1.55M178.5 926.83h1.55M204.0 926.83h1.55M229.5 926.83h1.55M310.5 926.83h1.55M346.5 926.83h1.55M67.5 936.27h1.55M79.5 936.27h1.55M100.5 936.27h1.55M147.0 936.27h1.55M177.0 936.27h1.55M316.5 936.27h1.55M94.5 945.73h1.55M136.5 945.73h1.55M178.5 945.73h1.55M183.0 945.73h1.55M187.5 945.73h1.55M268.5 945.73h1.55M295.5 945.73h1.55M30.0 955.17h1.55M31.5 955.17h1.55M76.5 955.17h1.55M93.0 955.17h1.55M102.0 955.17h1.55M127.5 955.17h1.55M136.5 955.17h1.55" stroke="#f6c0ad" stroke-width="9.50"/>
<path d="M90.0 737.83h1.55M109.5 737.83h1.55M114.0 737.83h1.55M141.0 737.83h1.55M192.0 737.83h1.55M261.0 737.83h1.55M271.5 737.83h1.55M279.0 737.83h1.55M58.5 747.27h1.55M100.5 747.27h1.55M109.5 747.27h1.55M111.0 747.27h1.55M121.5 747.27h1.55M142.5 747.27h1.55M153.0 747.27h1.55M198.0 747.27h1.55M253.5 747.27h1.55M288.0 747.27h1.55M325.5 747.27h1.55M115.5 756.73h1.55M117.0 756.73h1.55M123.0 756.73h1.55M124.5 756.73h1.55M148.5 756.73h1.55M172.5 756.73h1.55M201.0 756.73h1.55M219.0 756.73h1.55M225.0 756.73h1.55M270.0 756.73h1.55M283.5 756.73h1.55M288.0 756.73h1.55M292.5 756.73h1.55M313.5 756.73h1.55M321.0 756.73h1.55M322.5 756.73h1.55M343.5 756.73h1.55M46.5 766.18h1.55M64.5 766.18h1.55M93.0 766.18h1.55M100.5 766.18h1.55M127.5 766.18h1.55M163.5 766.18h1.55M198.0 766.18h1.55M199.5 766.18h1.55M208.5 766.18h1.55M244.5 766.18h1.55M250.5 766.18h1.55M294.0 766.18h1.55M304.5 766.18h1.55M328.5 766.18h1.55M346.5 766.18h1.55M79.5 775.62h1.55M142.5 775.62h1.55M169.5 775.62h1.55M172.5 775.62h1.55M210.0 775.62h1.55M226.5 775.62h1.55M240.0 775.62h1.55M253.5 775.62h1.55M265.5 775.62h1.55M316.5 775.62h1.55M334.5 775.62h1.55M340.5 775.62h1.55M351.0 775.62h1.55M352.5 775.62h1.55M61.5 785.08h1.55M64.5 785.08h1.55M70.5 785.08h1.55M84.0 785.08h1.55M124.5 785.08h1.55M214.5 785.08h1.55M240.0 785.08h1.55M246.0 785.08h1.55M258.0 785.08h1.55M259.5 785.08h1.55M262.5 785.08h1.55M310.5 785.08h1.55M327.0 785.08h1.55M342.0 785.08h1.55M360.0 785.08h1.55M139.5 794.52h1.55M228.0 794.52h1.55M261.0 794.52h1.55M295.5 794.52h1.55M313.5 794.52h1.55M184.5 803.98h1.55M195.0 803.98h1.55M213.0 803.98h1.55M225.0 803.98h1.55M234.0 803.98h1.55M235.5 803.98h1.55M250.5 803.98h1.55M253.5 803.98h1.55M255.0 803.98h1.55M264.0 803.98h1.55M291.0 803.98h1.55M348.0 803.98h1.55M73.5 813.42h1.55M105.0 813.42h1.55M177.0 813.42h1.55M210.0 813.42h1.55M225.0 813.42h1.55M255.0 813.42h1.55M267.0 813.42h1.55M333.0 813.42h1.55M175.5 822.88h1.55M181.5 822.88h1.55M183.0 822.88h1.55M192.0 822.88h1.55M201.0 822.88h1.55M220.5 822.88h1.55M232.5 822.88h1.55M253.5 822.88h1.55M304.5 822.88h1.55M339.0 822.88h1.55M340.5 822.88h1.55M360.0 822.88h1.55M45.0 832.33h1.55M52.5 832.33h1.55M69.0 832.33h1.55M97.5 832.33h1.55M135.0 832.33h1.55M139.5 832.33h1.55M159.0 832.33h1.55M229.5 832.33h1.55M249.0 832.33h1.55M255.0 832.33h1.55M312.0 832.33h1.55M327.0 832.33h1.55M40.5 841.77h1.55M117.0 841.77h1.55M121.5 841.77h1.55M124.5 841.77h1.55M139.5 841.77h1.55M142.5 841.77h1.55M154.5 841.77h1.55M166.5 841.77h1.55M222.0 841.77h1.55M279.0 841.77h1.55M304.5 841.77h1.55M313.5 841.77h1.55M324.0 841.77h1.55M351.0 841.77h1.55M76.5 851.23h1.55M78.0 851.23h1.55M115.5 851.23h1.55M124.5 851.23h1.55M129.0 851.23h1.55M139.5 851.23h1.55M174.0 851.23h1.55M198.0 851.23h1.55M207.0 851.23h1.55M231.0 851.23h1.55M232.5 851.23h1.55M271.5 851.23h1.55M283.5 851.23h1.55M285.0 851.23h1.55M331.5 851.23h1.55M340.5 851.23h1.55M343.5 851.23h1.55M45.0 860.67h1.55M48.0 860.67h1.55M75.0 860.67h1.55M76.5 860.67h1.55M81.0 860.67h1.55M97.5 860.67h1.55M109.5 860.67h1.55M120.0 860.67h1.55M135.0 860.67h1.55M141.0 860.67h1.55M163.5 860.67h1.55M231.0 860.67h1.55M244.5 860.67h1.55M247.5 860.67h1.55M249.0 860.67h1.55M262.5 860.67h1.55M271.5 860.67h1.55M276.0 860.67h1.55M282.0 860.67h1.55M286.5 860.67h1.55M292.5 860.67h1.55M315.0 860.67h1.55M69.0 870.12h1.55M76.5 870.12h1.55M135.0 870.12h1.55M138.0 870.12h1.55M151.5 870.12h1.55M153.0 870.12h1.55M154.5 870.12h1.55M175.5 870.12h1.55M192.0 870.12h1.55M217.5 870.12h1.55M223.5 870.12h1.55M315.0 870.12h1.55M324.0 870.12h1.55M325.5 870.12h1.55M37.5 879.58h1.55M43.5 879.58h1.55M148.5 879.58h1.55M223.5 879.58h1.55M34.5 889.02h1.55M112.5 889.02h1.55M127.5 889.02h1.55M159.0 889.02h1.55M195.0 889.02h1.55M217.5 889.02h1.55M336.0 889.02h1.55M345.0 889.02h1.55M49.5 898.48h1.55M73.5 898.48h1.55M84.0 898.48h1.55M99.0 898.48h1.55M124.5 898.48h1.55M135.0 898.48h1.55M138.0 898.48h1.55M162.0 898.48h1.55M163.5 898.48h1.55M166.5 898.48h1.55M169.5 898.48h1.55M181.5 898.48h1.55M207.0 898.48h1.55M255.0 898.48h1.55M261.0 898.48h1.55M265.5 898.48h1.55M324.0 898.48h1.55M43.5 907.92h1.55M55.5 907.92h1.55M57.0 907.92h1.55M75.0 907.92h1.55M90.0 907.92h1.55M120.0 907.92h1.55M123.0 907.92h1.55M126.0 907.92h1.55M138.0 907.92h1.55M144.0 907.92h1.55M153.0 907.92h1.55M162.0 907.92h1.55M207.0 907.92h1.55M282.0 907.92h1.55M292.5 907.92h1.55M303.0 907.92h1.55M337.5 907.92h1.55M34.5 917.38h1.55M45.0 917.38h1.55M61.5 917.38h1.55M66.0 917.38h1.55M70.5 917.38h1.55M75.0 917.38h1.55M76.5 917.38h1.55M99.0 917.38h1.55M123.0 917.38h1.55M139.5 917.38h1.55M144.0 917.38h1.55M162.0 917.38h1.55M171.0 917.38h1.55M202.5 917.38h1.55M285.0 917.38h1.55M57.0 926.83h1.55M60.0 926.83h1.55M63.0 926.83h1.55M75.0 926.83h1.55M81.0 926.83h1.55M105.0 926.83h1.55M115.5 926.83h1.55M127.5 926.83h1.55M129.0 926.83h1.55M136.5 926.83h1.55M153.0 926.83h1.55M172.5 926.83h1.55M232.5 926.83h1.55M300.0 926.83h1.55M315.0 926.83h1.55M49.5 936.27h1.55M57.0 936.27h1.55M58.5 936.27h1.55M84.0 936.27h1.55M97.5 936.27h1.55M109.5 936.27h1.55M129.0 936.27h1.55M141.0 936.27h1.55M174.0 936.27h1.55M190.5 936.27h1.55M195.0 936.27h1.55M253.5 936.27h1.55M334.5 936.27h1.55M336.0 936.27h1.55M57.0 945.73h1.55M64.5 945.73h1.55M76.5 945.73h1.55M118.5 945.73h1.55M163.5 945.73h1.55M172.5 945.73h1.55M180.0 945.73h1.55M331.5 945.73h1.55M42.0 955.17h1.55M45.0 955.17h1.55M67.5 955.17h1.55M73.5 955.17h1.55M91.5 955.17h1.55M99.0 955.17h1.55M111.0 955.17h1.55M123.0 955.17h1.55M124.5 955.17h1.55M133.5 955.17h1.55M156.0 955.17h1.55M163.5 955.17h1.55M165.0 955.17h1.55M168.0 955.17h1.55M180.0 955.17h1.55M183.0 955.17h1.55M186.0 955.17h1.55M192.0 955.17h1.55M276.0 955.17h1.55M289.5 955.17h1.55M336.0 955.17h1.55M346.5 955.17h1.55" stroke="#f5b49e" stroke-width="9.50"/>
<path d="M105.0 737.83h1.55M108.0 737.83h1.55M130.5 737.83h1.55M145.5 737.83h1.55M157.5 737.83h1.55M243.0 737.83h1.55M255.0 737.83h1.55M267.0 737.83h1.55M268.5 737.83h1.55M274.5 737.83h1.55M282.0 737.83h1.55M313.5 737.83h1.55M358.5 737.83h1.55M46.5 747.27h1.55M70.5 747.27h1.55M85.5 747.27h1.55M97.5 747.27h1.55M115.5 747.27h1.55M190.5 747.27h1.55M232.5 747.27h1.55M255.0 747.27h1.55M265.5 747.27h1.55M294.0 747.27h1.55M300.0 747.27h1.55M303.0 747.27h1.55M310.5 747.27h1.55M322.5 747.27h1.55M337.5 747.27h1.55M343.5 747.27h1.55M66.0 756.73h1.55M93.0 756.73h1.55M153.0 756.73h1.55M163.5 756.73h1.55M190.5 756.73h1.55M235.5 756.73h1.55M240.0 756.73h1.55M246.0 756.73h1.55M256.5 756.73h1.55M279.0 756.73h1.55M294.0 756.73h1.55M310.5 756.73h1.55M354.0 756.73h1.55M40.5 766.18h1.55M115.5 766.18h1.55M234.0 766.18h1.55M354.0 766.18h1.55M58.5 775.62h1.55M219.0 775.62h1.55M225.0 775.62h1.55M237.0 775.62h1.55M261.0 775.62h1.55M267.0 775.62h1.55M285.0 775.62h1.55M306.0 775.62h1.55M328.5 775.62h1.55M36.0 785.08h1.55M76.5 785.08h1.55M111.0 785.08h1.55M121.5 785.08h1.55M153.0 785.08h1.55M184.5 785.08h1.55M186.0 785.08h1.55M199.5 785.08h1.55M217.5 785.08h1.55M234.0 785.08h1.55M244.5 785.08h1.55M261.0 785.08h1.55M273.0 785.08h1.55M288.0 785.08h1.55M304.5 785.08h1.55M358.5 785.08h1.55M145.5 794.52h1.55M172.5 794.52h1.55M181.5 794.52h1.55M231.0 794.52h1.55M240.0 794.52h1.55M249.0 794.52h1.55M298.5 794.52h1.55M340.5 794.52h1.55M198.0 803.98h1.55M244.5 803.98h1.55M247.5 803.98h1.55M286.5 803.98h1.55M292.5 803.98h1.55M316.5 803.98h1.55M336.0 803.98h1.55M343.5 803.98h1.55M351.0 803.98h1.55M357.0 803.98h1.55M159.0 813.42h1.55M163.5 813.42h1.55M174.0 813.42h1.55M184.5 813.42h1.55M190.5 813.42h1.55M226.5 813.42h1.55M244.5 813.42h1.55M285.0 813.42h1.55M292.5 813.42h1.55M295.5 813.42h1.55M342.0 813.42h1.55M346.5 813.42h1.55M193.5 822.88h1.55M270.0 822.88h1.55M276.0 822.88h1.55M285.0 822.88h1.55M300.0 822.88h1.55M309.0 822.88h1.55M346.5 822.88h1.55M30.0 832.33h1.55M37.5 832.33h1.55M72.0 832.33h1.55M93.0 832.33h1.55M109.5 832.33h1.55M126.0 832.33h1.55M165.0 832.33h1.55M208.5 832.33h1.55M222.0 832.33h1.55M240.0 832.33h1.55M241.5 832.33h1.55M274.5 832.33h1.55M295.5 832.33h1.55M297.0 832.33h1.55M304.5 832.33h1.55M307.5 832.33h1.55M346.5 832.33h1.55M34.5 841.77h1.55M55.5 841.77h1.55M73.5 841.77h1.55M85.5 841.77h1.55M93.0 841.77h1.55M108.0 841.77h1.55M114.0 841.77h1.55M123.0 841.77h1.55M138.0 841.77h1.55M153.0 841.77h1.55M171.0 841.77h1.55M178.5 841.77h1.55M180.0 841.77h1.55M199.5 841.77h1.55M205.5 841.77h1.55M219.0 841.77h1.55M255.0 841.77h1.55M289.5 841.77h1.55M291.0 841.77h1.55M312.0 841.77h1.55M331.5 841.77h1.55M48.0 851.23h1.55M82.5 851.23h1.55M97.5 851.23h1.55M142.5 851.23h1.55M190.5 851.23h1.55M201.0 851.23h1.55M205.5 851.23h1.55M220.5 851.23h1.55M240.0 851.23h1.55M241.5 851.23h1.55M268.5 851.23h1.55M292.5 851.23h1.55M297.0 851.23h1.55M301.5 851.23h1.55M312.0 851.23h1.55M315.0 851.23h1.55M328.5 851.23h1.55M358.5 851.23h1.55M36.0 860.67h1.55M82.5 860.67h1.55M85.5 860.67h1.55M112.5 860.67h1.55M114.0 860.67h1.55M171.0 860.67h1.55M180.0 860.67h1.55M187.5 860.67h1.55M190.5 860.67h1.55M207.0 860.67h1.55M211.5 860.67h1.55M213.0 860.67h1.55M229.5 860.67h1.55M241.5 860.67h1.55M268.5 860.67h1.55M285.0 860.67h1.55M295.5 860.67h1.55M306.0 860.67h1.55M310.5 860.67h1.55M82.5 870.12h1.55M132.0 870.12h1.55M165.0 870.12h1.55M168.0 870.12h1.55M241.5 870.12h1.55M246.0 870.12h1.55M303.0 870.12h1.55M30.0 879.58h1.55M40.5 879.58h1.55M61.5 879.58h1.55M91.5 879.58h1.55M130.5 879.58h1.55M147.0 879.58h1.55M168.0 879.58h1.55M174.0 879.58h1.55M175.5 879.58h1.55M181.5 879.58h1.55M241.5 879.58h1.55M40.5 889.02h1.55M54.0 889.02h1.55M130.5 889.02h1.55M145.5 889.02h1.55M174.0 889.02h1.55M282.0 889.02h1.55M42.0 898.48h1.55M45.0 898.48h1.55M46.5 898.48h1.55M55.5 898.48h1.55M130.5 898.48h1.55M147.0 898.48h1.55M187.5 898.48h1.55M196.5 898.48h1.55M208.5 898.48h1.55M231.0 898.48h1.55M259.5 898.48h1.55M276.0 898.48h1.55M292.5 898.48h1.55M310.5 898.48h1.55M345.0 898.48h1.55M346.5 898.48h1.55M351.0 898.48h1.55M355.5 898.48h1.55M36.0 907.92h1.55M45.0 907.92h1.55M61.5 907.92h1.55M79.5 907.92h1.55M84.0 907.92h1.55M85.5 907.92h1.55M96.0 907.92h1.55M108.0 907.92h1.55M117.0 907.92h1.55M129.0 907.92h1.55M142.5 907.92h1.55M150.0 907.92h1.55M175.5 907.92h1.55M183.0 907.92h1.55M202.5 907.92h1.55M235.5 907.92h1.55M36.0 917.38h1.55M51.0 917.38h1.55M55.5 917.38h1.55M115.5 917.38h1.55M141.0 917.38h1.55M142.5 917.38h1.55M151.5 917.38h1.55M159.0 917.38h1.55M172.5 917.38h1.55M175.5 917.38h1.55M180.0 917.38h1.55M186.0 917.38h1.55M187.5 917.38h1.55M52.5 926.83h1.55M117.0 926.83h1.55M132.0 926.83h1.55M141.0 926.83h1.55M156.0 926.83h1.55M193.5 926.83h1.55M276.0 926.83h1.55M52.5 936.27h1.55M111.0 936.27h1.55M132.0 936.27h1.55M138.0 936.27h1.55M139.5 936.27h1.55M234.0 936.27h1.55M310.5 936.27h1.55M31.5 945.73h1.55M40.5 945.73h1.55M43.5 945.73h1.55M66.0 945.73h1.55M79.5 945.73h1.55M84.0 945.73h1.55M96.0 945.73h1.55M105.0 945.73h1.55M124.5 945.73h1.55M148.5 945.73h1.55M175.5 945.73h1.55M184.5 945.73h1.55M186.0 945.73h1.55M315.0 945.73h1.55M334.5 945.73h1.55M55.5 955.17h1.55M82.5 955.17h1.55M88.5 955.17h1.55M90.0 955.17h1.55M96.0 955.17h1.55M97.5 955.17h1.55M106.5 955.17h1.55M126.0 955.17h1.55M135.0 955.17h1.55M153.0 955.17h1.55M157.5 955.17h1.55M172.5 955.17h1.55M175.5 955.17h1.55M187.5 955.17h1.55M204.0 955.17h1.55" stroke="#f5aa92" stroke-width="9.50"/>
<path d="M106.5 737.83h1.55M111.0 737.83h1.55M127.5 737.83h1.55M135.0 737.83h1.55M199.5 737.83h1.55M232.5 737.83h1.55M244.5 737.83h1.55M250.5 737.83h1.55M258.0 737.83h1.55M270.0 737.83h1.55M298.5 737.83h1.55M306.0 737.83h1.55M327.0 737.83h1.55M355.5 737.83h1.55M60.0 747.27h1.55M66.0 747.27h1.55M79.5 747.27h1.55M127.5 747.27h1.55M133.5 747.27h1.55M208.5 747.27h1.55M216.0 747.27h1.55M217.5 747.27h1.55M237.0 747.27h1.55M238.5 747.27h1.55M258.0 747.27h1.55M259.5 747.27h1.55M280.5 747.27h1.55M306.0 747.27h1.55M312.0 747.27h1.55M316.5 747.27h1.55M345.0 747.27h1.55M361.5 747.27h1.55M76.5 756.73h1.55M142.5 756.73h1.55M145.5 756.73h1.55M157.5 756.73h1.55M168.0 756.73h1.55M199.5 756.73h1.55M202.5 756.73h1.55M229.5 756.73h1.55M238.5 756.73h1.55M241.5 756.73h1.55M250.5 756.73h1.55M258.0 756.73h1.55M261.0 756.73h1.55M318.0 756.73h1.55M319.5 756.73h1.55M336.0 756.73h1.55M337.5 756.73h1.55M76.5 766.18h1.55M117.0 766.18h1.55M232.5 766.18h1.55M241.5 766.18h1.55M259.5 766.18h1.55M265.5 766.18h1.55M289.5 766.18h1.55M336.0 766.18h1.55M54.0 775.62h1.55M81.0 775.62h1.55M228.0 775.62h1.55M247.5 775.62h1.55M280.5 775.62h1.55M307.5 775.62h1.55M312.0 775.62h1.55M360.0 775.62h1.55M120.0 785.08h1.55M168.0 785.08h1.55M171.0 785.08h1.55M195.0 785.08h1.55M208.5 785.08h1.55M216.0 785.08h1.55M219.0 785.08h1.55M226.5 785.08h1.55M232.5 785.08h1.55M235.5 785.08h1.55M265.5 785.08h1.55M268.5 785.08h1.55M276.0 785.08h1.55M292.5 785.08h1.55M294.0 785.08h1.55M313.5 785.08h1.55M325.5 785.08h1.55M328.5 785.08h1.55M337.5 785.08h1.55M343.5 785.08h1.55M352.5 785.08h1.55M138.0 794.52h1.55M159.0 794.52h1.55M175.5 794.52h1.55M202.5 794.52h1.55M204.0 794.52h1.55M222.0 794.52h1.55M237.0 794.52h1.55M238.5 794.52h1.55M255.0 794.52h1.55M270.0 794.52h1.55M277.5 794.52h1.55M285.0 794.52h1.55M192.0 803.98h1.55M204.0 803.98h1.55M222.0 803.98h1.55M229.5 803.98h1.55M261.0 803.98h1.55M307.5 803.98h1.55M315.0 803.98h1.55M337.5 803.98h1.55M349.5 803.98h1.55M358.5 803.98h1.55M166.5 813.42h1.55M195.0 813.42h1.55M201.0 813.42h1.55M250.5 813.42h1.55M261.0 813.42h1.55M271.5 813.42h1.55M298.5 813.42h1.55M309.0 813.42h1.55M313.5 813.42h1.55M316.5 813.42h1.55M322.5 813.42h1.55M339.0 813.42h1.55M340.5 813.42h1.55M178.5 822.88h1.55M190.5 822.88h1.55M198.0 822.88h1.55M244.5 822.88h1.55M273.0 822.88h1.55M34.5 832.33h1.55M85.5 832.33h1.55M114.0 832.33h1.55M117.0 832.33h1.55M141.0 832.33h1.55M166.5 832.33h1.55M205.5 832.33h1.55M244.5 832.33h1.55M268.5 832.33h1.55M279.0 832.33h1.55M283.5 832.33h1.55M288.0 832.33h1.55M289.5 832.33h1.55M303.0 832.33h1.55M330.0 832.33h1.55M30.0 841.77h1.55M36.0 841.77h1.55M43.5 841.77h1.55M48.0 841.77h1.55M52.5 841.77h1.55M64.5 841.77h1.55M81.0 841.77h1.55M118.5 841.77h1.55M202.5 841.77h1.55M208.5 841.77h1.55M223.5 841.77h1.55M241.5 841.77h1.55M243.0 841.77h1.55M244.5 841.77h1.55M268.5 841.77h1.55M310.5 841.77h1.55M330.0 841.77h1.55M342.0 841.77h1.55M31.5 851.23h1.55M51.0 851.23h1.55M54.0 851.23h1.55M64.5 851.23h1.55M75.0 851.23h1.55M81.0 851.23h1.55M112.5 851.23h1.55M123.0 851.23h1.55M145.5 851.23h1.55M229.5 851.23h1.55M313.5 851.23h1.55M327.0 851.23h1.55M37.5 860.67h1.55M66.0 860.67h1.55M138.0 860.67h1.55M144.0 860.67h1.55M165.0 860.67h1.55M174.0 860.67h1.55M216.0 860.67h1.55M234.0 860.67h1.55M237.0 860.67h1.55M297.0 860.67h1.55M304.5 860.67h1.55M327.0 860.67h1.55M55.5 870.12h1.55M108.0 870.12h1.55M139.5 870.12h1.55M144.0 870.12h1.55M181.5 870.12h1.55M282.0 870.12h1.55M334.5 870.12h1.55M45.0 879.58h1.55M93.0 879.58h1.55M118.5 879.58h1.55M120.0 879.58h1.55M132.0 879.58h1.55M165.0 879.58h1.55M184.5 879.58h1.55M39.0 889.02h1.55M51.0 889.02h1.55M57.0 889.02h1.55M138.0 889.02h1.55M153.0 889.02h1.55M154.5 889.02h1.55M157.5 889.02h1.55M162.0 889.02h1.55M169.5 889.02h1.55M175.5 889.02h1.55M322.5 889.02h1.55M30.0 898.48h1.55M43.5 898.48h1.55M64.5 898.48h1.55M108.0 898.48h1.55M111.0 898.48h1.55M151.5 898.48h1.55M190.5 898.48h1.55M195.0 898.48h1.55M211.5 898.48h1.55M241.5 898.48h1.55M253.5 898.48h1.55M279.0 898.48h1.55M280.5 898.48h1.55M285.0 898.48h1.55M322.5 898.48h1.55M349.5 898.48h1.55M34.5 907.92h1.55M39.0 907.92h1.55M54.0 907.92h1.55M82.5 907.92h1.55M172.5 907.92h1.55M208.5 907.92h1.55M211.5 907.92h1.55M217.5 907.92h1.55M336.0 907.92h1.55M85.5 917.38h1.55M102.0 917.38h1.55M103.5 917.38h1.55M106.5 917.38h1.55M117.0 917.38h1.55M150.0 917.38h1.55M207.0 917.38h1.55M216.0 917.38h1.55M219.0 917.38h1.55M222.0 917.38h1.55M241.5 917.38h1.55M37.5 926.83h1.55M54.0 926.83h1.55M72.0 926.83h1.55M163.5 926.83h1.55M190.5 926.83h1.55M334.5 926.83h1.55M81.0 936.27h1.55M118.5 936.27h1.55M121.5 936.27h1.55M153.0 936.27h1.55M163.5 936.27h1.55M183.0 936.27h1.55M187.5 936.27h1.55M42.0 945.73h1.55M45.0 945.73h1.55M49.5 945.73h1.55M52.5 945.73h1.55M85.5 945.73h1.55M99.0 945.73h1.55M108.0 945.73h1.55M142.5 945.73h1.55M174.0 945.73h1.55M316.5 945.73h1.55M33.0 955.17h1.55M37.5 955.17h1.55M40.5 955.17h1.55M46.5 955.17h1.55M57.0 955.17h1.55M66.0 955.17h1.55M87.0 955.17h1.55M130.5 955.17h1.55M138.0 955.17h1.55M141.0 955.17h1.55M142.5 955.17h1.55M144.0 955.17h1.55M189.0 955.17h1.55M219.0 955.17h1.55M268.5 955.17h1.55M292.5 955.17h1.55M334.5 955.17h1.55" stroke="#f4a289" stroke-width="9.50"/>
<path d="M96.0 737.83h1.55M112.5 737.83h1.55M142.5 737.83h1.55M189.0 737.83h1.55M240.0 737.83h1.55M265.5 737.83h1.55M289.5 737.83h1.55M300.0 737.83h1.55M304.5 737.83h1.55M307.5 737.83h1.55M310.5 737.83h1.55M312.0 737.83h1.55M322.5 737.83h1.55M324.0 737.83h1.55M328.5 737.83h1.55M330.0 737.83h1.55M345.0 737.83h1.55M52.5 747.27h1.55M61.5 747.27h1.55M64.5 747.27h1.55M112.5 747.27h1.55M124.5 747.27h1.55M189.0 747.27h1.55M202.5 747.27h1.55M210.0 747.27h1.55M231.0 747.27h1.55M243.0 747.27h1.55M261.0 747.27h1.55M267.0 747.27h1.55M268.5 747.27h1.55M279.0 747.27h1.55M298.5 747.27h1.55M328.5 747.27h1.55M336.0 747.27h1.55M346.5 747.27h1.55M133.5 756.73h1.55M135.0 756.73h1.55M175.5 756.73h1.55M249.0 756.73h1.55M259.5 756.73h1.55M265.5 756.73h1.55M280.5 756.73h1.55M295.5 756.73h1.55M304.5 756.73h1.55M307.5 756.73h1.55M325.5 756.73h1.55M333.0 756.73h1.55M121.5 766.18h1.55M123.0 766.18h1.55M135.0 766.18h1.55M189.0 766.18h1.55M207.0 766.18h1.55M229.5 766.18h1.55M246.0 766.18h1.55M256.5 766.18h1.55M324.0 766.18h1.55M352.5 766.18h1.55M39.0 775.62h1.55M76.5 775.62h1.55M255.0 775.62h1.55M271.5 775.62h1.55M286.5 775.62h1.55M288.0 775.62h1.55M304.5 775.62h1.55M310.5 775.62h1.55M331.5 775.62h1.55M333.0 775.62h1.55M336.0 775.62h1.55M354.0 775.62h1.55M46.5 785.08h1.55M87.0 785.08h1.55M117.0 785.08h1.55M118.5 785.08h1.55M135.0 785.08h1.55M175.5 785.08h1.55M271.5 785.08h1.55M300.0 785.08h1.55M315.0 785.08h1.55M318.0 785.08h1.55M334.5 785.08h1.55M361.5 785.08h1.55M165.0 794.52h1.55M166.5 794.52h1.55M180.0 794.52h1.55M193.5 794.52h1.55M196.5 794.52h1.55M201.0 794.52h1.55M213.0 794.52h1.55M246.0 794.52h1.55M271.5 794.52h1.55M292.5 794.52h1.55M304.5 794.52h1.55M312.0 794.52h1.55M351.0 794.52h1.55M360.0 794.52h1.55M181.5 803.98h1.55M196.5 803.98h1.55M210.0 803.98h1.55M219.0 803.98h1.55M226.5 803.98h1.55M270.0 803.98h1.55M285.0 803.98h1.55M168.0 813.42h1.55M181.5 813.42h1.55M192.0 813.42h1.55M198.0 813.42h1.55M202.5 813.42h1.55M219.0 813.42h1.55M315.0 813.42h1.55M343.5 813.42h1.55M202.5 822.88h1.55M204.0 822.88h1.55M216.0 822.88h1.55M235.5 822.88h1.55M240.0 822.88h1.55M291.0 822.88h1.55M316.5 822.88h1.55M36.0 832.33h1.55M43.5 832.33h1.55M63.0 832.33h1.55M90.0 832.33h1.55M121.5 832.33h1.55M130.5 832.33h1.55M136.5 832.33h1.55M189.0 832.33h1.55M190.5 832.33h1.55M202.5 832.33h1.55M253.5 832.33h1.55M271.5 832.33h1.55M292.5 832.33h1.55M198.0 841.77h1.55M207.0 841.77h1.55M210.0 841.77h1.55M211.5 841.77h1.55M216.0 841.77h1.55M217.5 841.77h1.55M334.5 841.77h1.55M336.0 841.77h1.55M30.0 851.23h1.55M45.0 851.23h1.55M46.5 851.23h1.55M52.5 851.23h1.55M73.5 851.23h1.55M117.0 851.23h1.55M210.0 851.23h1.55M261.0 851.23h1.55M264.0 851.23h1.55M273.0 851.23h1.55M303.0 851.23h1.55M306.0 851.23h1.55M33.0 860.67h1.55M43.5 860.67h1.55M72.0 860.67h1.55M124.5 860.67h1.55M139.5 860.67h1.55M192.0 860.67h1.55M196.5 860.67h1.55M198.0 860.67h1.55M204.0 860.67h1.55M205.5 860.67h1.55M223.5 860.67h1.55M240.0 860.67h1.55M243.0 860.67h1.55M264.0 860.67h1.55M274.5 860.67h1.55M298.5 860.67h1.55M303.0 860.67h1.55M54.0 870.12h1.55M130.5 870.12h1.55M145.5 870.12h1.55M147.0 870.12h1.55M148.5 870.12h1.55M150.0 870.12h1.55M186.0 870.12h1.55M202.5 870.12h1.55M285.0 870.12h1.55M309.0 870.12h1.55M343.5 870.12h1.55M84.0 879.58h1.55M87.0 879.58h1.55M112.5 879.58h1.55M171.0 879.58h1.55M183.0 879.58h1.55M235.5 879.58h1.55M85.5 889.02h1.55M150.0 889.02h1.55M186.0 889.02h1.55M303.0 889.02h1.55M34.5 898.48h1.55M51.0 898.48h1.55M139.5 898.48h1.55M150.0 898.48h1.55M153.0 898.48h1.55M171.0 898.48h1.55M189.0 898.48h1.55M273.0 898.48h1.55M343.5 898.48h1.55M30.0 907.92h1.55M40.5 907.92h1.55M42.0 907.92h1.55M51.0 907.92h1.55M67.5 907.92h1.55M73.5 907.92h1.55M114.0 907.92h1.55M127.5 907.92h1.55M130.5 907.92h1.55M180.0 907.92h1.55M213.0 907.92h1.55M223.5 907.92h1.55M82.5 917.38h1.55M147.0 917.38h1.55M148.5 917.38h1.55M153.0 917.38h1.55M154.5 917.38h1.55M195.0 917.38h1.55M231.0 917.38h1.55M288.0 917.38h1.55M46.5 926.83h1.55M49.5 926.83h1.55M55.5 926.83h1.55M66.0 926.83h1.55M67.5 926.83h1.55M84.0 926.83h1.55M97.5 926.83h1.55M102.0 926.83h1.55M109.5 926.83h1.55M118.5 926.83h1.55M123.0 926.83h1.55M124.5 926.83h1.55M130.5 926.83h1.55M139.5 926.83h1.55M168.0 926.83h1.55M186.0 926.83h1.55M192.0 926.83h1.55M307.5 926.83h1.55M331.5 926.83h1.55M30.0 936.27h1.55M36.0 936.27h1.55M51.0 936.27h1.55M87.0 936.27h1.55M115.5 936.27h1.55M126.0 936.27h1.55M127.5 936.27h1.55M144.0 936.27h1.55M150.0 936.27h1.55M151.5 936.27h1.55M166.5 936.27h1.55M178.5 936.27h1.55M276.0 936.27h1.55M33.0 945.73h1.55M36.0 945.73h1.55M48.0 945.73h1.55M51.0 945.73h1.55M55.5 945.73h1.55M75.0 945.73h1.55M81.0 945.73h1.55M93.0 945.73h1.55M97.5 945.73h1.55M123.0 945.73h1.55M141.0 945.73h1.55M150.0 945.73h1.55M276.0 945.73h1.55M34.5 955.17h1.55M43.5 955.17h1.55M51.0 955.17h1.55M84.0 955.17h1.55M118.5 955.17h1.55M150.0 955.17h1.55M151.5 955.17h1.55M154.5 955.17h1.55M162.0 955.17h1.55M315.0 955.17h1.55" stroke="#f29b80" stroke-width="9.50"/>
<path d="M121.5 737.83h1.55M123.0 737.83h1.55M235.5 737.83h1.55M256.5 737.83h1.55M276.0 737.83h1.55M292.5 737.83h1.55M303.0 737.83h1.55M315.0 737.83h1.55M318.0 737.83h1.55M319.5 737.83h1.55M339.0 737.83h1.55M346.5 737.83h1.55M352.5 737.83h1.55M76.5 747.27h1.55M84.0 747.27h1.55M93.0 747.27h1.55M120.0 747.27h1.55M123.0 747.27h1.55M135.0 747.27h1.55M145.5 747.27h1.55M226.5 747.27h1.55M244.5 747.27h1.55M289.5 747.27h1.55M292.5 747.27h1.55M321.0 747.27h1.55M349.5 747.27h1.55M354.0 747.27h1.55M358.5 747.27h1.55M189.0 756.73h1.55M234.0 756.73h1.55M237.0 756.73h1.55M243.0 756.73h1.55M316.5 756.73h1.55M328.5 756.73h1.55M330.0 756.73h1.55M331.5 756.73h1.55M345.0 756.73h1.55M351.0 756.73h1.55M120.0 766.18h1.55M142.5 766.18h1.55M216.0 766.18h1.55M235.5 766.18h1.55M237.0 766.18h1.55M321.0 766.18h1.55M349.5 766.18h1.55M70.5 775.62h1.55M268.5 775.62h1.55M300.0 775.62h1.55M337.5 775.62h1.55M349.5 775.62h1.55M145.5 785.08h1.55M204.0 785.08h1.55M210.0 785.08h1.55M256.5 785.08h1.55M345.0 785.08h1.55M346.5 785.08h1.55M208.5 794.52h1.55M214.5 794.52h1.55M220.5 794.52h1.55M235.5 794.52h1.55M267.0 794.52h1.55M294.0 794.52h1.55M309.0 794.52h1.55M316.5 794.52h1.55M322.5 794.52h1.55M339.0 794.52h1.55M201.0 803.98h1.55M207.0 803.98h1.55M208.5 803.98h1.55M231.0 803.98h1.55M265.5 803.98h1.55M310.5 803.98h1.55M322.5 803.98h1.55M340.5 803.98h1.55M193.5 813.42h1.55M196.5 813.42h1.55M204.0 813.42h1.55M253.5 813.42h1.55M265.5 813.42h1.55M273.0 813.42h1.55M345.0 813.42h1.55M355.5 813.42h1.55M267.0 822.88h1.55M312.0 822.88h1.55M49.5 832.33h1.55M54.0 832.33h1.55M88.5 832.33h1.55M118.5 832.33h1.55M123.0 832.33h1.55M210.0 832.33h1.55M243.0 832.33h1.55M306.0 832.33h1.55M310.5 832.33h1.55M313.5 832.33h1.55M46.5 841.77h1.55M51.0 841.77h1.55M54.0 841.77h1.55M84.0 841.77h1.55M88.5 841.77h1.55M96.0 841.77h1.55M126.0 841.77h1.55M190.5 841.77h1.55M297.0 841.77h1.55M33.0 851.23h1.55M36.0 851.23h1.55M37.5 851.23h1.55M43.5 851.23h1.55M96.0 851.23h1.55M121.5 851.23h1.55M171.0 851.23h1.55M202.5 851.23h1.55M204.0 851.23h1.55M217.5 851.23h1.55M234.0 851.23h1.55M267.0 851.23h1.55M345.0 851.23h1.55M352.5 851.23h1.55M46.5 860.67h1.55M52.5 860.67h1.55M84.0 860.67h1.55M118.5 860.67h1.55M123.0 860.67h1.55M126.0 860.67h1.55M130.5 860.67h1.55M219.0 860.67h1.55M64.5 870.12h1.55M72.0 870.12h1.55M142.5 870.12h1.55M180.0 870.12h1.55M189.0 870.12h1.55M34.5 879.58h1.55M39.0 879.58h1.55M46.5 879.58h1.55M51.0 879.58h1.55M82.5 879.58h1.55M102.0 879.58h1.55M180.0 879.58h1.55M292.5 879.58h1.55M46.5 889.02h1.55M64.5 889.02h1.55M87.0 889.02h1.55M142.5 889.02h1.55M171.0 889.02h1.55M183.0 889.02h1.55M184.5 889.02h1.55M271.5 889.02h1.55M87.0 898.48h1.55M148.5 898.48h1.55M165.0 898.48h1.55M175.5 898.48h1.55M184.5 898.48h1.55M223.5 898.48h1.55M271.5 898.48h1.55M282.0 898.48h1.55M289.5 898.48h1.55M303.0 898.48h1.55M316.5 898.48h1.55M336.0 898.48h1.55M337.5 898.48h1.55M37.5 907.92h1.55M46.5 907.92h1.55M81.0 907.92h1.55M87.0 907.92h1.55M91.5 907.92h1.55M99.0 907.92h1.55M154.5 907.92h1.55M184.5 907.92h1.55M351.0 907.92h1.55M33.0 917.38h1.55M37.5 917.38h1.55M46.5 917.38h1.55M54.0 917.38h1.55M58.5 917.38h1.55M90.0 917.38h1.55M127.5 917.38h1.55M208.5 917.38h1.55M211.5 917.38h1.55M223.5 917.38h1.55M36.0 926.83h1.55M48.0 926.83h1.55M111.0 926.83h1.55M138.0 926.83h1.55M142.5 926.83h1.55M150.0 926.83h1.55M336.0 926.83h1.55M37.5 936.27h1.55M45.0 936.27h1.55M85.5 936.27h1.55M99.0 936.27h1.55M124.5 936.27h1.55M172.5 936.27h1.55M37.5 945.73h1.55M54.0 945.73h1.55M109.5 945.73h1.55M139.5 945.73h1.55M145.5 945.73h1.55M151.5 945.73h1.55M159.0 945.73h1.55M171.0 945.73h1.55M192.0 945.73h1.55M36.0 955.17h1.55M49.5 955.17h1.55M54.0 955.17h1.55M190.5 955.17h1.55" stroke="#f19378" stroke-width="9.50"/>
<path d="M117.0 737.83h1.55M237.0 737.83h1.55M246.0 737.83h1.55M316.5 737.83h1.55M337.5 737.83h1.55M340.5 737.83h1.55M351.0 737.83h1.55M72.0 747.27h1.55M78.0 747.27h1.55M81.0 747.27h1.55M87.0 747.27h1.55M96.0 747.27h1.55M117.0 747.27h1.55M148.5 747.27h1.55M192.0 747.27h1.55M276.0 747.27h1.55M315.0 747.27h1.55M318.0 747.27h1.55M324.0 747.27h1.55M327.0 747.27h1.55M351.0 747.27h1.55M315.0 756.73h1.55M334.5 756.73h1.55M349.5 756.73h1.55M360.0 756.73h1.55M238.5 766.18h1.55M240.0 766.18h1.55M303.0 766.18h1.55M316.5 766.18h1.55M294.0 775.62h1.55M298.5 775.62h1.55M303.0 775.62h1.55M321.0 775.62h1.55M324.0 775.62h1.55M189.0 785.08h1.55M190.5 785.08h1.55M202.5 785.08h1.55M237.0 785.08h1.55M238.5 785.08h1.55M291.0 785.08h1.55M298.5 785.08h1.55M307.5 785.08h1.55M351.0 785.08h1.55M163.5 794.52h1.55M229.5 794.52h1.55M244.5 794.52h1.55M253.5 794.52h1.55M276.0 794.52h1.55M300.0 794.52h1.55M334.5 794.52h1.55M352.5 794.52h1.55M183.0 803.98h1.55M189.0 803.98h1.55M193.5 803.98h1.55M214.5 803.98h1.55M220.5 803.98h1.55M246.0 803.98h1.55M294.0 803.98h1.55M300.0 803.98h1.55M304.5 803.98h1.55M309.0 803.98h1.55M333.0 803.98h1.55M342.0 803.98h1.55M346.5 803.98h1.55M355.5 803.98h1.55M216.0 813.42h1.55M304.5 813.42h1.55M310.5 813.42h1.55M334.5 813.42h1.55M351.0 813.42h1.55M351.0 822.88h1.55M82.5 832.33h1.55M94.5 832.33h1.55M171.0 832.33h1.55M198.0 832.33h1.55M204.0 832.33h1.55M91.5 841.77h1.55M94.5 841.77h1.55M109.5 841.77h1.55M129.0 841.77h1.55M192.0 841.77h1.55M234.0 841.77h1.55M240.0 841.77h1.55M249.0 841.77h1.55M274.5 841.77h1.55M276.0 841.77h1.55M292.5 841.77h1.55M307.5 841.77h1.55M34.5 851.23h1.55M40.5 851.23h1.55M100.5 851.23h1.55M216.0 851.23h1.55M223.5 851.23h1.55M31.5 860.67h1.55M51.0 860.67h1.55M55.5 860.67h1.55M132.0 860.67h1.55M136.5 860.67h1.55M199.5 860.67h1.55M202.5 860.67h1.55M217.5 860.67h1.55M183.0 870.12h1.55M336.0 870.12h1.55M54.0 879.58h1.55M64.5 879.58h1.55M159.0 879.58h1.55M303.0 879.58h1.55M165.0 889.02h1.55M54.0 898.48h1.55M81.0 898.48h1.55M159.0 898.48h1.55M172.5 898.48h1.55M174.0 898.48h1.55M178.5 898.48h1.55M183.0 898.48h1.55M246.0 898.48h1.55M66.0 907.92h1.55M111.0 907.92h1.55M132.0 907.92h1.55M168.0 907.92h1.55M186.0 907.92h1.55M39.0 917.38h1.55M40.5 917.38h1.55M42.0 917.38h1.55M57.0 917.38h1.55M67.5 917.38h1.55M73.5 917.38h1.55M87.0 917.38h1.55M93.0 917.38h1.55M108.0 917.38h1.55M120.0 917.38h1.55M45.0 926.83h1.55M106.5 926.83h1.55M108.0 926.83h1.55M120.0 926.83h1.55M126.0 926.83h1.55M169.5 926.83h1.55M183.0 926.83h1.55M34.5 936.27h1.55M46.5 936.27h1.55M73.5 936.27h1.55M108.0 936.27h1.55M189.0 936.27h1.55M30.0 945.73h1.55M34.5 945.73h1.55M126.0 945.73h1.55M130.5 945.73h1.55M138.0 945.73h1.55M169.5 945.73h1.55M336.0 945.73h1.55M85.5 955.17h1.55M145.5 955.17h1.55M169.5 955.17h1.55" stroke="#f08b6f" stroke-width="9.50"/>
<path d="M115.5 737.83h1.55M124.5 737.83h1.55M126.0 737.83h1.55M234.0 737.83h1.55M253.5 737.83h1.55M295.5 737.83h1.55M321.0 737.83h1.55M343.5 737.83h1.55M360.0 737.83h1.55M234.0 747.27h1.55M250.5 747.27h1.55M291.0 747.27h1.55M340.5 747.27h1.55M352.5 756.73h1.55M126.0 766.18h1.55M195.0 766.18h1.55M291.0 766.18h1.55M334.5 766.18h1.55M61.5 775.62h1.55M234.0 775.62h1.55M276.0 775.62h1.55M279.0 775.62h1.55M279.0 785.08h1.55M280.5 785.08h1.55M289.5 785.08h1.55M321.0 785.08h1.55M324.0 785.08h1.55M331.5 785.08h1.55M333.0 785.08h1.55M336.0 785.08h1.55M340.5 785.08h1.55M349.5 785.08h1.55M354.0 785.08h1.55M183.0 794.52h1.55M192.0 794.52h1.55M250.5 794.52h1.55M310.5 794.52h1.55M228.0 803.98h1.55M267.0 803.98h1.55M273.0 803.98h1.55M312.0 803.98h1.55M330.0 803.98h1.55M189.0 813.42h1.55M300.0 813.42h1.55M312.0 813.42h1.55M360.0 813.42h1.55M207.0 822.88h1.55M40.5 832.33h1.55M55.5 832.33h1.55M64.5 832.33h1.55M91.5 832.33h1.55M207.0 832.33h1.55M216.0 832.33h1.55M70.5 841.77h1.55M49.5 851.23h1.55M102.0 851.23h1.55M114.0 851.23h1.55M118.5 851.23h1.55M130.5 851.23h1.55M199.5 851.23h1.55M243.0 851.23h1.55M274.5 851.23h1.55M34.5 860.67h1.55M54.0 860.67h1.55M64.5 860.67h1.55M70.5 860.67h1.55M121.5 860.67h1.55M186.0 860.67h1.55M210.0 860.67h1.55M222.0 860.67h1.55M258.0 860.67h1.55M171.0 870.12h1.55M81.0 879.58h1.55M186.0 879.58h1.55M189.0 879.58h1.55M168.0 889.02h1.55M172.5 889.02h1.55M180.0 889.02h1.55M189.0 889.02h1.55M288.0 889.02h1.55M39.0 898.48h1.55M40.5 898.48h1.55M82.5 898.48h1.55M180.0 898.48h1.55M186.0 898.48h1.55M202.5 898.48h1.55M288.0 898.48h1.55M72.0 907.92h1.55M139.5 907.92h1.55M72.0 917.38h1.55M174.0 917.38h1.55M189.0 917.38h1.55M217.5 917.38h1.55M30.0 926.83h1.55M31.5 926.83h1.55M33.0 926.83h1.55M40.5 926.83h1.55M87.0 926.83h1.55M90.0 926.83h1.55M99.0 926.83h1.55M151.5 926.83h1.55M157.5 926.83h1.55M159.0 926.83h1.55M195.0 926.83h1.55M90.0 936.27h1.55M148.5 936.27h1.55M159.0 936.27h1.55M171.0 936.27h1.55M184.5 936.27h1.55M192.0 936.27h1.55M46.5 945.73h1.55M87.0 945.73h1.55M90.0 945.73h1.55M106.5 945.73h1.55M81.0 955.17h1.55M139.5 955.17h1.55M184.5 955.17h1.55M355.5 955.17h1.55" stroke="#ef8467" stroke-width="9.50"/>
<path d="M118.5 737.83h1.55M223.5 737.83h1.55M331.5 737.83h1.55M333.0 737.83h1.55M349.5 737.83h1.55M241.5 747.27h1.55M246.0 747.27h1.55M253.5 756.73h1.55M289.5 756.73h1.55M298.5 756.73h1.55M303.0 756.73h1.55M223.5 766.18h1.55M247.5 766.18h1.55M333.0 766.18h1.55M360.0 766.18h1.55M223.5 775.62h1.55M289.5 775.62h1.55M315.0 775.62h1.55M198.0 785.08h1.55M229.5 785.08h1.55M295.5 785.08h1.55M303.0 785.08h1.55M216.0 794.52h1.55M202.5 803.98h1.55M339.0 803.98h1.55M345.0 803.98h1.55M360.0 803.98h1.55M183.0 813.42h1.55M327.0 813.42h1.55M265.5 822.88h1.55M303.0 822.88h1.55M66.0 832.33h1.55M108.0 832.33h1.55M246.0 832.33h1.55M31.5 841.77h1.55M42.0 841.77h1.55M100.5 841.77h1.55M204.0 841.77h1.55M246.0 841.77h1.55M247.5 841.77h1.55M253.5 841.77h1.55M298.5 841.77h1.55M70.5 851.23h1.55M103.5 851.23h1.55M192.0 851.23h1.55M49.5 860.67h1.55M96.0 860.67h1.55M99.0 860.67h1.55M117.0 860.67h1.55M330.0 860.67h1.55M159.0 870.12h1.55M172.5 870.12h1.55M177.0 870.12h1.55M145.5 898.48h1.55M64.5 907.92h1.55M112.5 907.92h1.55M159.0 907.92h1.55M177.0 907.92h1.55M81.0 917.38h1.55M112.5 917.38h1.55M132.0 917.38h1.55M91.5 926.83h1.55M189.0 926.83h1.55M54.0 936.27h1.55M66.0 936.27h1.55M91.5 936.27h1.55M120.0 936.27h1.55M160.5 936.27h1.55M91.5 945.73h1.55M189.0 945.73h1.55M120.0 955.17h1.55" stroke="#ef7c5f" stroke-width="9.50"/>
<path d="M120.0 737.83h1.55M229.5 737.83h1.55M295.5 747.27h1.55M330.0 747.27h1.55M331.5 747.27h1.55M333.0 747.27h1.55M334.5 747.27h1.55M244.5 756.73h1.55M229.5 775.62h1.55M292.5 775.62h1.55M295.5 775.62h1.55M192.0 785.08h1.55M223.5 785.08h1.55M207.0 794.52h1.55M303.0 794.52h1.55M301.5 803.98h1.55M303.0 803.98h1.55M327.0 803.98h1.55M303.0 813.42h1.55M271.5 822.88h1.55M334.5 822.88h1.55M42.0 832.33h1.55M46.5 832.33h1.55M84.0 832.33h1.55M96.0 832.33h1.55M99.0 832.33h1.55M192.0 832.33h1.55M217.5 832.33h1.55M235.5 832.33h1.55M247.5 832.33h1.55M298.5 832.33h1.55M72.0 841.77h1.55M99.0 841.77h1.55M106.5 841.77h1.55M235.5 841.77h1.55M262.5 841.77h1.55M84.0 851.23h1.55M90.0 851.23h1.55M99.0 851.23h1.55M108.0 851.23h1.55M109.5 851.23h1.55M235.5 851.23h1.55M258.0 851.23h1.55M40.5 860.67h1.55M235.5 860.67h1.55M246.0 860.67h1.55M189.0 907.92h1.55M64.5 917.38h1.55M34.5 926.83h1.55M51.0 926.83h1.55M93.0 926.83h1.55M160.5 926.83h1.55M171.0 926.83h1.55M33.0 936.27h1.55M106.5 936.27h1.55M130.5 936.27h1.55M145.5 936.27h1.55M175.5 936.27h1.55M67.5 945.73h1.55M160.5 955.17h1.55M171.0 955.17h1.55" stroke="#ee7558" stroke-width="9.50"/>
<path d="M247.5 737.83h1.55M291.0 737.83h1.55M336.0 737.83h1.55M223.5 747.27h1.55M229.5 747.27h1.55M256.5 747.27h1.55M352.5 747.27h1.55M291.0 756.73h1.55M324.0 756.73h1.55M247.5 785.08h1.55M330.0 785.08h1.55M103.5 832.33h1.55M256.5 841.77h1.55M258.0 841.77h1.55M42.0 851.23h1.55M55.5 851.23h1.55M66.0 851.23h1.55M42.0 860.67h1.55M108.0 860.67h1.55M177.0 879.58h1.55M177.0 889.02h1.55M132.0 898.48h1.55M168.0 898.48h1.55M217.5 898.48h1.55M177.0 917.38h1.55M145.5 926.83h1.55M175.5 926.83h1.55M184.5 926.83h1.55M169.5 936.27h1.55M160.5 945.73h1.55M159.0 955.17h1.55" stroke="#ee6e52" stroke-width="9.50"/>
<path d="M334.5 737.83h1.55M354.0 737.83h1.55M223.5 756.73h1.55M291.0 775.62h1.55M219.0 794.52h1.55M265.5 794.52h1.55M273.0 794.52h1.55M216.0 803.98h1.55M70.5 832.33h1.55M100.5 832.33h1.55M199.5 832.33h1.55M265.5 832.33h1.55M102.0 841.77h1.55M259.5 841.77h1.55M267.0 841.77h1.55M298.5 851.23h1.55M88.5 860.67h1.55M102.0 860.67h1.55M105.0 860.67h1.55M106.5 860.67h1.55M145.5 917.38h1.55M103.5 936.27h1.55" stroke="#ed684b" stroke-width="9.50"/>
<path d="M282.0 775.62h1.55M106.5 832.33h1.55M103.5 841.77h1.55M264.0 841.77h1.55M88.5 851.23h1.55M105.0 851.23h1.55M93.0 860.67h1.55M94.5 860.67h1.55M100.5 860.67h1.55M103.5 860.67h1.55M177.0 898.48h1.55M142.5 936.27h1.55M120.0 945.73h1.55" stroke="#ec6144" stroke-width="9.50"/>
<path d="M357.0 737.83h1.55M247.5 747.27h1.55M247.5 756.73h1.55M334.5 803.98h1.55M102.0 832.33h1.55M256.5 832.33h1.55M258.0 832.33h1.55M262.5 832.33h1.55M264.0 832.33h1.55M267.0 832.33h1.55M105.0 841.77h1.55M265.5 841.77h1.55M43.5 926.83h1.55" stroke="#ec5a3d" stroke-width="9.50"/>
<path d="M283.5 775.62h1.55M69.0 813.42h1.55M187.5 813.42h1.55M105.0 832.33h1.55M259.5 832.33h1.55M261.0 832.33h1.55M261.0 841.77h1.55M91.5 851.23h1.55M93.0 851.23h1.55M106.5 851.23h1.55M105.0 936.27h1.55M61.5 955.17h1.55" stroke="#eb533b" stroke-width="9.50"/>
<path d="M249.0 747.27h1.55M55.5 775.62h1.55M289.5 822.88h1.55M94.5 851.23h1.55M90.0 860.67h1.55M91.5 860.67h1.55M42.0 926.83h1.55" stroke="#ea4c38" stroke-width="9.50"/>
<path d="M331.5 803.98h1.55M186.0 813.42h1.55M76.5 832.33h1.55M43.5 936.27h1.55" stroke="#e94535" stroke-width="9.50"/>
<path d="M154.5 794.52h1.55M156.0 794.52h1.55M286.5 794.52h1.55M94.5 803.98h1.55" stroke="#e83e32" stroke-width="9.50"/>
<path d="M288.0 794.52h1.55M42.0 936.27h1.55M60.0 955.17h1.55" stroke="#e73830" stroke-width="9.50"/>
<path d="M93.0 803.98h1.55" stroke="#e52a2a" stroke-width="9.50"/>
<text transform="translate(27.7 739.87) scale(0.9 1)" font-size="7.9" text-anchor="end" fill="#1a1a1a">P3</text>
<text transform="translate(27.7 749.32) scale(0.9 1)" font-size="7.9" text-anchor="end" fill="#1a1a1a">P4</text>
<text transform="translate(27.7 758.77) scale(0.9 1)" font-size="7.9" text-anchor="end" fill="#1a1a1a">P1</text>
<text transform="translate(27.7 768.22) scale(0.9 1)" font-size="7.9" text-anchor="end" font-weight="bold" fill="#1a1a1a">H1.1</text>
<text transform="translate(27.7 777.67) scale(0.9 1)" font-size="7.9" text-anchor="end" fill="#1a1a1a">P2</text>
<text transform="translate(27.7 787.12) scale(0.9 1)" font-size="7.9" text-anchor="end" fill="#1a1a1a">P5</text>
<text transform="translate(27.7 796.57) scale(0.9 1)" font-size="7.9" text-anchor="end" fill="#1a1a1a">G3</text>
<text transform="translate(27.7 806.02) scale(0.9 1)" font-size="7.9" text-anchor="end" fill="#1a1a1a">G4</text>
<text transform="translate(27.7 815.47) scale(0.9 1)" font-size="7.9" text-anchor="end" fill="#1a1a1a">G1</text>
<text transform="translate(27.7 824.92) scale(0.9 1)" font-size="7.9" text-anchor="end" fill="#1a1a1a">G2</text>
<text transform="translate(27.7 834.37) scale(0.9 1)" font-size="7.9" text-anchor="end" fill="#1a1a1a">GA3</text>
<text transform="translate(27.7 843.82) scale(0.9 1)" font-size="7.9" text-anchor="end" fill="#1a1a1a">GA4</text>
<text transform="translate(27.7 853.27) scale(0.9 1)" font-size="7.9" text-anchor="end" fill="#1a1a1a">GA1</text>
<text transform="translate(27.7 862.72) scale(0.9 1)" font-size="7.9" text-anchor="end" fill="#1a1a1a">GA2</text>
<text transform="translate(27.7 872.17) scale(0.9 1)" font-size="7.9" text-anchor="end" font-weight="bold" fill="#1a1a1a">MDS3.1</text>
<text transform="translate(27.7 881.62) scale(0.9 1)" font-size="7.9" text-anchor="end" fill="#1a1a1a">GS3</text>
<text transform="translate(27.7 891.07) scale(0.9 1)" font-size="7.9" text-anchor="end" fill="#1a1a1a">GS4</text>
<text transform="translate(27.7 900.52) scale(0.9 1)" font-size="7.9" text-anchor="end" font-weight="bold" fill="#1a1a1a">MDS3.4</text>
<text transform="translate(27.7 909.97) scale(0.9 1)" font-size="7.9" text-anchor="end" fill="#1a1a1a">GS1</text>
<text transform="translate(27.7 919.42) scale(0.9 1)" font-size="7.9" text-anchor="end" fill="#1a1a1a">GS2</text>
<text transform="translate(27.7 928.87) scale(0.9 1)" font-size="7.9" text-anchor="end" fill="#1a1a1a">GSA1</text>
<text transform="translate(27.7 938.32) scale(0.9 1)" font-size="7.9" text-anchor="end" fill="#1a1a1a">GSA2</text>
<text transform="translate(27.7 947.77) scale(0.9 1)" font-size="7.9" text-anchor="end" fill="#1a1a1a">GSA3</text>
<text transform="translate(27.7 957.22) scale(0.9 1)" font-size="7.9" text-anchor="end" fill="#1a1a1a">GSA4</text>
<path d="M365.0 747.27H370.0V756.73H365.0" fill="none" stroke="#6a6a6a" stroke-width="0.6"/>
<path d="M365.0 737.83H371.3V752.00H370.0" fill="none" stroke="#6a6a6a" stroke-width="0.6"/>
<path d="M365.0 775.62H370.2V785.08H365.0" fill="none" stroke="#6a6a6a" stroke-width="0.6"/>
<path d="M365.0 766.18H370.6V780.35H370.2" fill="none" stroke="#6a6a6a" stroke-width="0.6"/>
<path d="M371.3 744.91H371.6V773.26H370.6" fill="none" stroke="#6a6a6a" stroke-width="0.6"/>
<path d="M365.0 794.52H371.3V803.98H365.0" fill="none" stroke="#6a6a6a" stroke-width="0.6"/>
<path d="M365.0 813.42H370.2V822.88H365.0" fill="none" stroke="#6a6a6a" stroke-width="0.6"/>
<path d="M371.3 799.25H371.0V818.15H370.2" fill="none" stroke="#6a6a6a" stroke-width="0.6"/>
<path d="M371.6 759.09H374.8V808.70H371.0" fill="none" stroke="#6a6a6a" stroke-width="0.6"/>
<path d="M365.0 832.33H369.5V841.77H365.0" fill="none" stroke="#6a6a6a" stroke-width="0.6"/>
<path d="M365.0 851.23H368.7V860.67H365.0" fill="none" stroke="#6a6a6a" stroke-width="0.6"/>
<path d="M369.5 837.05H370.6V855.95H368.7" fill="none" stroke="#6a6a6a" stroke-width="0.6"/>
<path d="M374.8 783.89H376.4V846.50H370.6" fill="none" stroke="#6a6a6a" stroke-width="0.6"/>
<path d="M365.0 870.12H369.9V879.58H365.0" fill="none" stroke="#6a6a6a" stroke-width="0.6"/>
<path d="M365.0 889.02H370.2V898.48H365.0" fill="none" stroke="#6a6a6a" stroke-width="0.6"/>
<path d="M369.9 874.85H370.7V893.75H370.2" fill="none" stroke="#6a6a6a" stroke-width="0.6"/>
<path d="M365.0 907.92H370.5V917.38H365.0" fill="none" stroke="#6a6a6a" stroke-width="0.6"/>
<path d="M370.7 884.30H371.3V912.65H370.5" fill="none" stroke="#6a6a6a" stroke-width="0.6"/>
<path d="M365.0 926.83H370.5V936.27H365.0" fill="none" stroke="#6a6a6a" stroke-width="0.6"/>
<path d="M365.0 945.73H369.9V955.17H365.0" fill="none" stroke="#6a6a6a" stroke-width="0.6"/>
<path d="M370.5 931.55H371.1V950.45H369.9" fill="none" stroke="#6a6a6a" stroke-width="0.6"/>
<path d="M371.3 898.47H372.9V941.00H371.1" fill="none" stroke="#6a6a6a" stroke-width="0.6"/>
<path d="M376.4 815.20H380.8V919.74H372.9" fill="none" stroke="#6a6a6a" stroke-width="0.6"/>
<linearGradient id="lg2" x1="0" y1="0" x2="0" y2="1"><stop offset="0" stop-color="#e82b2b"/><stop offset="0.17" stop-color="#ec5a3c"/><stop offset="0.33" stop-color="#f6b6a0"/><stop offset="0.5" stop-color="#f5f0f5"/><stop offset="0.67" stop-color="#9d8fc8"/><stop offset="0.83" stop-color="#5a58a8"/><stop offset="1" stop-color="#3a52a6"/></linearGradient>
<rect x="386" y="795.2" width="9.8" height="67.3" fill="url(#lg2)"/>
<line x1="393.5" y1="797.9" x2="395.8" y2="797.9" stroke="#fff" stroke-width="0.6" />
<text x="397.8" y="801.5" font-size="10">3</text>
<line x1="393.5" y1="808.5" x2="395.8" y2="808.5" stroke="#fff" stroke-width="0.6" />
<text x="397.8" y="812.1" font-size="10">2</text>
<line x1="393.5" y1="819" x2="395.8" y2="819" stroke="#fff" stroke-width="0.6" />
<text x="397.8" y="822.6" font-size="10">1</text>
<line x1="393.5" y1="829.6" x2="395.8" y2="829.6" stroke="#fff" stroke-width="0.6" />
<text x="397.8" y="833.2" font-size="10">0</text>
<line x1="393.5" y1="840.1" x2="395.8" y2="840.1" stroke="#fff" stroke-width="0.6" />
<text x="397.8" y="843.7" font-size="10">-1</text>
<line x1="393.5" y1="850.7" x2="395.8" y2="850.7" stroke="#fff" stroke-width="0.6" />
<text x="397.8" y="854.3" font-size="10">-2</text>
<line x1="393.5" y1="861.3" x2="395.8" y2="861.3" stroke="#fff" stroke-width="0.6" />
<text x="397.8" y="864.9" font-size="10">-3</text>
<text x="409.7" y="828.3" font-size="10.5" text-anchor="middle" font-weight="bold" transform="rotate(90 409.7 828.3)">Z-score</text>
</svg></body></html>
